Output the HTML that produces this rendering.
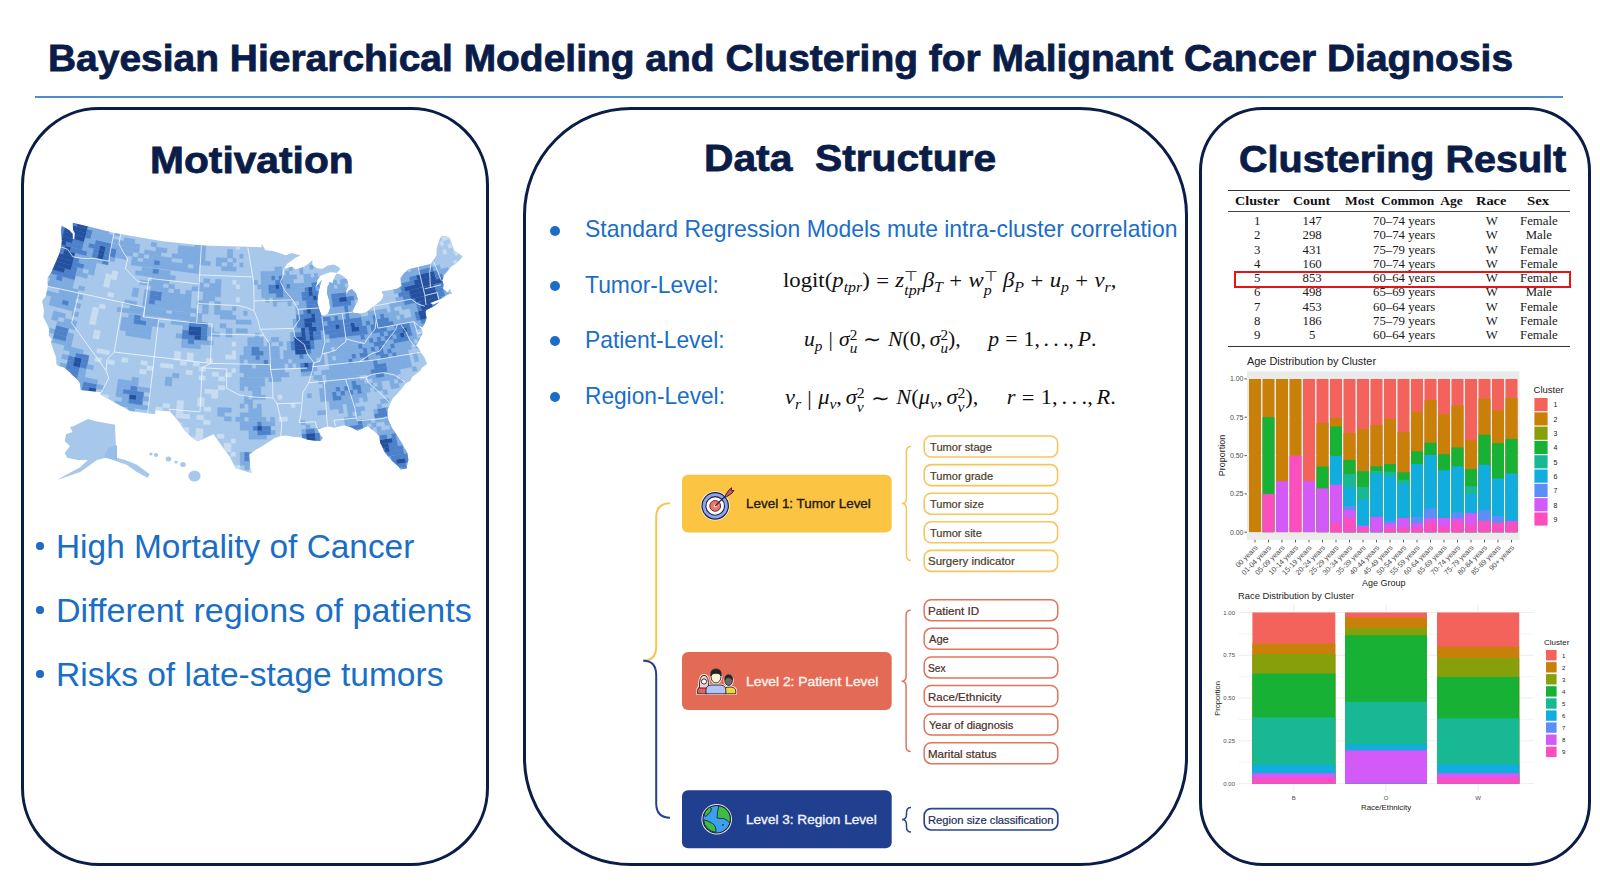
<!DOCTYPE html>
<html><head><meta charset="utf-8">
<style>
html,body{margin:0;padding:0;background:#fff;}
body{width:1600px;height:892px;position:relative;overflow:hidden;font-family:"Liberation Sans",sans-serif;}
.abs{position:absolute;}
.t{position:absolute;white-space:nowrap;transform-origin:0 0;line-height:1;}
.panel{position:absolute;border:3.2px solid #0a1c48;box-sizing:border-box;}
sub,sup{line-height:0}
</style></head><body>

<div class="abs" style="left:35px;top:96px;width:1528px;height:2px;background:#4f8dcd;"></div>
<div class="panel" style="left:21px;top:107px;width:468px;height:759px;border-radius:78px;"></div>
<div class="panel" style="left:523px;top:107px;width:665px;height:759px;border-radius:108px;"></div>
<div class="panel" style="left:1199px;top:107px;width:392px;height:759px;border-radius:64px;"></div>
<svg class="abs" style="left:0;top:0" width="500" height="500" viewBox="0 0 500 500">
<defs><clipPath id="usclip"><polygon points="61.8,225.8 61.0,230.4 61.9,240.7 61.2,247.0 59.2,254.0 55.7,262.2 51.0,273.0 47.6,278.1 47.9,286.3 45.9,295.9 42.0,301.0 44.1,310.7 43.2,316.6 46.6,323.6 49.5,329.5 48.7,335.4 51.9,339.3 50.8,342.0 52.8,348.6 56.1,357.6 56.3,363.7 57.5,365.5 64.3,367.6 70.1,372.5 72.8,375.6 76.5,378.5 79.9,383.2 80.9,390.1 101.4,392.3 100.2,394.4 130.3,410.9 155.0,414.2 155.4,409.9 169.9,411.5 177.3,419.8 184.5,430.3 192.0,437.7 197.6,441.3 204.4,438.6 213.5,434.2 221.2,445.3 230.1,457.2 235.5,468.1 248.4,472.2 251.7,472.7 250.2,467.4 249.6,459.6 249.1,454.7 255.4,449.9 262.5,446.0 270.3,441.1 274.7,438.1 280.8,436.0 286.0,435.4 294.1,437.1 300.4,437.3 307.7,439.8 313.1,440.5 320.3,441.0 322.7,437.9 319.5,433.2 317.4,429.4 323.4,427.5 329.4,426.6 334.0,427.7 344.2,425.2 351.6,427.4 357.4,430.7 363.3,428.1 367.4,426.1 373.5,430.7 379.4,435.9 380.1,442.7 382.1,446.3 383.9,451.0 388.0,456.3 392.7,461.5 398.4,466.5 400.8,469.6 406.7,468.2 407.3,464.1 408.4,460.0 407.4,453.3 404.3,446.9 399.6,439.8 396.3,434.3 391.9,428.1 388.7,420.7 387.5,416.9 387.5,409.9 390.2,403.5 393.0,398.1 396.6,394.5 400.8,389.8 405.5,383.4 410.1,381.1 412.5,376.6 419.7,371.2 422.2,367.6 427.0,364.1 424.8,358.0 420.8,352.2 419.1,348.5 415.9,345.7 419.9,338.7 422.7,332.6 421.6,329.2 417.9,325.0 422.6,327.5 425.2,322.3 426.5,318.0 425.5,311.6 426.6,309.8 433.6,306.6 439.4,302.1 433.0,304.7 430.1,302.9 437.9,300.0 441.4,298.6 444.1,296.9 447.2,294.5 452.1,293.7 449.9,289.1 447.4,292.4 443.0,288.4 443.6,284.2 442.1,280.5 444.1,274.8 448.1,270.6 451.3,266.6 455.7,263.8 459.7,260.1 462.6,256.6 459.9,254.3 454.1,250.4 449.7,237.9 445.8,236.0 441.2,236.3 439.6,239.3 436.7,248.2 436.4,255.4 433.5,260.3 430.9,264.0 418.1,267.1 408.7,269.2 403.8,273.4 400.6,278.1 400.8,282.1 401.8,285.9 396.5,289.0 390.7,290.1 381.6,291.3 383.3,295.5 381.6,299.8 376.4,304.2 371.1,308.0 365.8,312.3 359.9,313.7 352.4,312.2 354.0,308.5 355.0,305.4 357.5,302.6 357.8,298.6 355.8,292.9 352.1,288.9 349.1,290.3 346.4,294.1 346.1,290.2 348.7,285.9 347.1,279.7 343.4,276.2 339.1,273.8 336.7,273.8 335.1,275.7 333.2,279.9 332.6,283.4 329.5,281.8 327.6,286.4 327.0,292.9 329.0,300.1 330.1,307.9 328.2,313.5 324.7,315.8 321.6,315.6 320.1,311.8 318.8,307.9 317.6,302.6 318.1,295.2 318.9,290.2 320.4,284.6 321.7,280.1 317.0,285.9 315.0,288.1 316.7,284.0 317.3,280.0 320.4,275.8 325.5,273.8 330.3,272.3 334.6,272.4 336.6,272.9 340.5,269.2 338.0,266.5 333.4,264.6 327.2,265.8 322.7,268.7 317.0,268.3 312.4,265.3 312.4,259.9 308.0,264.1 303.4,266.9 295.9,269.4 292.2,266.7 283.9,268.8 287.0,264.0 295.5,257.7 300.5,255.4 291.7,253.1 285.7,255.3 273.1,251.0 265.5,250.2 261.6,243.7 261.7,247.3 201.7,245.4 161.2,241.0 114.4,232.9 72.8,222.7 73.0,229.8 74.9,233.3 74.4,239.1 72.9,239.2 72.6,233.7 69.3,230.2 61.8,225.8"/></clipPath></defs>
<polygon points="61.8,225.8 61.0,230.4 61.9,240.7 61.2,247.0 59.2,254.0 55.7,262.2 51.0,273.0 47.6,278.1 47.9,286.3 45.9,295.9 42.0,301.0 44.1,310.7 43.2,316.6 46.6,323.6 49.5,329.5 48.7,335.4 51.9,339.3 50.8,342.0 52.8,348.6 56.1,357.6 56.3,363.7 57.5,365.5 64.3,367.6 70.1,372.5 72.8,375.6 76.5,378.5 79.9,383.2 80.9,390.1 101.4,392.3 100.2,394.4 130.3,410.9 155.0,414.2 155.4,409.9 169.9,411.5 177.3,419.8 184.5,430.3 192.0,437.7 197.6,441.3 204.4,438.6 213.5,434.2 221.2,445.3 230.1,457.2 235.5,468.1 248.4,472.2 251.7,472.7 250.2,467.4 249.6,459.6 249.1,454.7 255.4,449.9 262.5,446.0 270.3,441.1 274.7,438.1 280.8,436.0 286.0,435.4 294.1,437.1 300.4,437.3 307.7,439.8 313.1,440.5 320.3,441.0 322.7,437.9 319.5,433.2 317.4,429.4 323.4,427.5 329.4,426.6 334.0,427.7 344.2,425.2 351.6,427.4 357.4,430.7 363.3,428.1 367.4,426.1 373.5,430.7 379.4,435.9 380.1,442.7 382.1,446.3 383.9,451.0 388.0,456.3 392.7,461.5 398.4,466.5 400.8,469.6 406.7,468.2 407.3,464.1 408.4,460.0 407.4,453.3 404.3,446.9 399.6,439.8 396.3,434.3 391.9,428.1 388.7,420.7 387.5,416.9 387.5,409.9 390.2,403.5 393.0,398.1 396.6,394.5 400.8,389.8 405.5,383.4 410.1,381.1 412.5,376.6 419.7,371.2 422.2,367.6 427.0,364.1 424.8,358.0 420.8,352.2 419.1,348.5 415.9,345.7 419.9,338.7 422.7,332.6 421.6,329.2 417.9,325.0 422.6,327.5 425.2,322.3 426.5,318.0 425.5,311.6 426.6,309.8 433.6,306.6 439.4,302.1 433.0,304.7 430.1,302.9 437.9,300.0 441.4,298.6 444.1,296.9 447.2,294.5 452.1,293.7 449.9,289.1 447.4,292.4 443.0,288.4 443.6,284.2 442.1,280.5 444.1,274.8 448.1,270.6 451.3,266.6 455.7,263.8 459.7,260.1 462.6,256.6 459.9,254.3 454.1,250.4 449.7,237.9 445.8,236.0 441.2,236.3 439.6,239.3 436.7,248.2 436.4,255.4 433.5,260.3 430.9,264.0 418.1,267.1 408.7,269.2 403.8,273.4 400.6,278.1 400.8,282.1 401.8,285.9 396.5,289.0 390.7,290.1 381.6,291.3 383.3,295.5 381.6,299.8 376.4,304.2 371.1,308.0 365.8,312.3 359.9,313.7 352.4,312.2 354.0,308.5 355.0,305.4 357.5,302.6 357.8,298.6 355.8,292.9 352.1,288.9 349.1,290.3 346.4,294.1 346.1,290.2 348.7,285.9 347.1,279.7 343.4,276.2 339.1,273.8 336.7,273.8 335.1,275.7 333.2,279.9 332.6,283.4 329.5,281.8 327.6,286.4 327.0,292.9 329.0,300.1 330.1,307.9 328.2,313.5 324.7,315.8 321.6,315.6 320.1,311.8 318.8,307.9 317.6,302.6 318.1,295.2 318.9,290.2 320.4,284.6 321.7,280.1 317.0,285.9 315.0,288.1 316.7,284.0 317.3,280.0 320.4,275.8 325.5,273.8 330.3,272.3 334.6,272.4 336.6,272.9 340.5,269.2 338.0,266.5 333.4,264.6 327.2,265.8 322.7,268.7 317.0,268.3 312.4,265.3 312.4,259.9 308.0,264.1 303.4,266.9 295.9,269.4 292.2,266.7 283.9,268.8 287.0,264.0 295.5,257.7 300.5,255.4 291.7,253.1 285.7,255.3 273.1,251.0 265.5,250.2 261.6,243.7 261.7,247.3 201.7,245.4 161.2,241.0 114.4,232.9 72.8,222.7 73.0,229.8 74.9,233.3 74.4,239.1 72.9,239.2 72.6,233.7 69.3,230.2 61.8,225.8" fill="#a7c8ea"/>
<g clip-path="url(#usclip)">
<polygon points="-1.1,454.8 6.2,456.8 7.3,452.7 0.1,450.6" fill="#c8ddf1" stroke="#c8ddf1" stroke-width="0.3"/>
<polygon points="13.5,458.8 20.8,460.8 21.9,456.6 14.6,454.7" fill="#c8ddf1" stroke="#c8ddf1" stroke-width="0.3"/>
<polygon points="35.5,464.5 42.9,466.3 43.9,462.1 36.6,460.3" fill="#c8ddf1" stroke="#c8ddf1" stroke-width="0.3"/>
<polygon points="50.3,468.0 57.7,469.6 58.7,465.4 51.3,463.8" fill="#c8ddf1" stroke="#c8ddf1" stroke-width="0.3"/>
<polygon points="65.2,471.2 80.1,474.2 80.8,470.0 66.0,467.0" fill="#c8ddf1" stroke="#c8ddf1" stroke-width="0.3"/>
<polygon points="95.0,477.0 110.0,479.5 110.6,475.2 95.7,472.7" fill="#c8ddf1" stroke="#c8ddf1" stroke-width="0.3"/>
<polygon points="147.5,484.8 155.1,485.6 155.5,481.4 148.0,480.5" fill="#c8ddf1" stroke="#c8ddf1" stroke-width="0.3"/>
<polygon points="170.2,487.2 185.3,488.5 185.5,484.2 170.5,482.9" fill="#c8ddf1" stroke="#c8ddf1" stroke-width="0.3"/>
<polygon points="200.4,489.6 208.0,490.1 208.1,485.7 200.6,485.3" fill="#c8ddf1" stroke="#c8ddf1" stroke-width="0.3"/>
<polygon points="235.4,491.2 240.1,491.3 240.1,487.0 235.4,486.8" fill="#c8ddf1" stroke="#c8ddf1" stroke-width="0.3"/>
<polygon points="395.5,481.6 400.2,480.9 399.4,476.7 394.7,477.4" fill="#7eabe0" stroke="#7eabe0" stroke-width="0.3"/>
<polygon points="-7.2,448.5 21.9,456.6 23.0,452.4 -6.0,444.4" fill="#c8ddf1" stroke="#c8ddf1" stroke-width="0.3"/>
<polygon points="36.6,460.3 51.3,463.8 52.2,459.5 37.6,456.1" fill="#c8ddf1" stroke="#c8ddf1" stroke-width="0.3"/>
<polygon points="110.6,475.2 118.1,476.4 118.7,472.1 111.2,471.0" fill="#c8ddf1" stroke="#c8ddf1" stroke-width="0.3"/>
<polygon points="163.0,482.2 170.5,482.9 170.8,478.6 163.4,477.9" fill="#c8ddf1" stroke="#c8ddf1" stroke-width="0.3"/>
<polygon points="178.0,483.6 208.1,485.7 208.3,481.4 178.3,479.3" fill="#c8ddf1" stroke="#c8ddf1" stroke-width="0.3"/>
<polygon points="215.6,486.1 240.1,487.0 240.1,482.6 215.8,481.8" fill="#c8ddf1" stroke="#c8ddf1" stroke-width="0.3"/>
<polygon points="244.8,487.0 249.5,487.1 249.5,482.8 244.8,482.7" fill="#c8ddf1" stroke="#c8ddf1" stroke-width="0.3"/>
<polygon points="399.4,476.7 404.0,475.9 403.1,471.7 398.5,472.4" fill="#7eabe0" stroke="#7eabe0" stroke-width="0.3"/>
<polygon points="417.8,473.7 422.5,472.9 421.5,468.6 416.9,469.4" fill="#7eabe0" stroke="#7eabe0" stroke-width="0.3"/>
<polygon points="8.5,448.5 15.7,450.5 16.9,446.3 9.7,444.4" fill="#c8ddf1" stroke="#c8ddf1" stroke-width="0.3"/>
<polygon points="52.2,459.5 59.6,461.2 60.5,457.0 53.2,455.3" fill="#c8ddf1" stroke="#c8ddf1" stroke-width="0.3"/>
<polygon points="118.7,472.1 141.0,475.3 141.5,471.0 119.3,467.9" fill="#c8ddf1" stroke="#c8ddf1" stroke-width="0.3"/>
<polygon points="155.9,477.1 163.4,477.9 163.8,473.5 156.3,472.7" fill="#c8ddf1" stroke="#c8ddf1" stroke-width="0.3"/>
<polygon points="200.8,481.0 215.8,481.8 215.9,477.5 201.0,476.7" fill="#c8ddf1" stroke="#c8ddf1" stroke-width="0.3"/>
<polygon points="389.3,473.7 403.1,471.7 402.3,467.4 388.5,469.5" fill="#7eabe0" stroke="#7eabe0" stroke-width="0.3"/>
<polygon points="403.1,471.7 407.7,470.9 406.9,466.7 402.3,467.4" fill="#4d82cb" stroke="#4d82cb" stroke-width="0.3"/>
<polygon points="407.7,470.9 412.3,470.2 411.5,465.9 406.9,466.7" fill="#7eabe0" stroke="#7eabe0" stroke-width="0.3"/>
<polygon points="16.9,446.3 24.1,448.2 25.2,444.1 18.0,442.2" fill="#c8ddf1" stroke="#c8ddf1" stroke-width="0.3"/>
<polygon points="38.6,451.9 45.9,453.6 46.9,449.4 39.6,447.7" fill="#c8ddf1" stroke="#c8ddf1" stroke-width="0.3"/>
<polygon points="60.5,457.0 67.8,458.5 68.7,454.3 61.4,452.7" fill="#c8ddf1" stroke="#c8ddf1" stroke-width="0.3"/>
<polygon points="104.5,465.5 111.9,466.7 112.5,462.4 105.2,461.2" fill="#c8ddf1" stroke="#c8ddf1" stroke-width="0.3"/>
<polygon points="134.1,470.0 141.5,471.0 142.0,466.7 134.6,465.7" fill="#c8ddf1" stroke="#c8ddf1" stroke-width="0.3"/>
<polygon points="156.3,472.7 163.8,473.5 164.1,469.2 156.7,468.4" fill="#c8ddf1" stroke="#c8ddf1" stroke-width="0.3"/>
<polygon points="178.6,475.0 186.1,475.6 186.3,471.3 178.9,470.6" fill="#c8ddf1" stroke="#c8ddf1" stroke-width="0.3"/>
<polygon points="208.4,477.1 215.9,477.5 216.0,473.1 208.6,472.8" fill="#c8ddf1" stroke="#c8ddf1" stroke-width="0.3"/>
<polygon points="235.4,478.2 240.1,478.3 240.1,474.0 235.5,473.8" fill="#c8ddf1" stroke="#c8ddf1" stroke-width="0.3"/>
<polygon points="244.8,478.4 249.4,478.4 249.4,474.1 244.7,474.0" fill="#c8ddf1" stroke="#c8ddf1" stroke-width="0.3"/>
<polygon points="388.5,469.5 393.1,468.8 392.3,464.5 387.8,465.2" fill="#7eabe0" stroke="#7eabe0" stroke-width="0.3"/>
<polygon points="393.1,468.8 406.9,466.7 406.0,462.4 392.3,464.5" fill="#4d82cb" stroke="#4d82cb" stroke-width="0.3"/>
<polygon points="406.9,466.7 411.5,465.9 410.6,461.6 406.0,462.4" fill="#7eabe0" stroke="#7eabe0" stroke-width="0.3"/>
<polygon points="10.8,440.2 32.4,445.9 33.5,441.7 12.0,436.0" fill="#c8ddf1" stroke="#c8ddf1" stroke-width="0.3"/>
<polygon points="39.6,447.7 61.4,452.7 62.3,448.5 40.7,443.5" fill="#c8ddf1" stroke="#c8ddf1" stroke-width="0.3"/>
<polygon points="90.6,458.6 97.9,459.9 98.6,455.7 91.3,454.4" fill="#c8ddf1" stroke="#c8ddf1" stroke-width="0.3"/>
<polygon points="112.5,462.4 119.9,463.6 120.5,459.3 113.2,458.1" fill="#c8ddf1" stroke="#c8ddf1" stroke-width="0.3"/>
<polygon points="127.2,464.7 134.6,465.7 135.1,461.4 127.8,460.4" fill="#c8ddf1" stroke="#c8ddf1" stroke-width="0.3"/>
<polygon points="156.7,468.4 164.1,469.2 164.5,464.9 157.2,464.1" fill="#c8ddf1" stroke="#c8ddf1" stroke-width="0.3"/>
<polygon points="186.3,471.3 193.7,471.8 194.0,467.5 186.6,466.9" fill="#c8ddf1" stroke="#c8ddf1" stroke-width="0.3"/>
<polygon points="216.0,473.1 223.4,473.5 223.5,469.1 216.1,468.8" fill="#c8ddf1" stroke="#c8ddf1" stroke-width="0.3"/>
<polygon points="230.8,473.7 240.1,474.0 240.1,469.6 230.9,469.4" fill="#c8ddf1" stroke="#c8ddf1" stroke-width="0.3"/>
<polygon points="249.4,474.1 258.6,474.2 258.5,469.8 249.3,469.8" fill="#c8ddf1" stroke="#c8ddf1" stroke-width="0.3"/>
<polygon points="383.2,465.8 392.3,464.5 391.5,460.2 382.5,461.5" fill="#7eabe0" stroke="#7eabe0" stroke-width="0.3"/>
<polygon points="392.3,464.5 396.9,463.8 396.1,459.5 391.5,460.2" fill="#4d82cb" stroke="#4d82cb" stroke-width="0.3"/>
<polygon points="396.9,463.8 406.0,462.4 405.2,458.1 396.1,459.5" fill="#24519f" stroke="#24519f" stroke-width="0.3"/>
<polygon points="406.0,462.4 410.6,461.6 409.7,457.4 405.2,458.1" fill="#4d82cb" stroke="#4d82cb" stroke-width="0.3"/>
<polygon points="410.6,461.6 415.1,460.9 414.2,456.6 409.7,457.4" fill="#7eabe0" stroke="#7eabe0" stroke-width="0.3"/>
<polygon points="12.0,436.0 33.5,441.7 34.5,437.5 13.2,431.8" fill="#c8ddf1" stroke="#c8ddf1" stroke-width="0.3"/>
<polygon points="55.1,446.9 76.8,451.5 77.6,447.3 56.0,442.7" fill="#c8ddf1" stroke="#c8ddf1" stroke-width="0.3"/>
<polygon points="127.8,460.4 135.1,461.4 135.7,457.1 128.4,456.1" fill="#c8ddf1" stroke="#c8ddf1" stroke-width="0.3"/>
<polygon points="142.5,462.4 149.8,463.3 150.3,459.0 143.0,458.0" fill="#c8ddf1" stroke="#c8ddf1" stroke-width="0.3"/>
<polygon points="164.5,464.9 171.9,465.6 172.2,461.3 164.9,460.6" fill="#c8ddf1" stroke="#c8ddf1" stroke-width="0.3"/>
<polygon points="201.4,468.0 216.1,468.8 216.2,464.4 201.5,463.6" fill="#c8ddf1" stroke="#c8ddf1" stroke-width="0.3"/>
<polygon points="223.5,469.1 230.9,469.4 230.9,465.0 223.6,464.8" fill="#c8ddf1" stroke="#c8ddf1" stroke-width="0.3"/>
<polygon points="235.5,469.5 240.1,469.6 240.1,465.3 235.5,465.2" fill="#c8ddf1" stroke="#c8ddf1" stroke-width="0.3"/>
<polygon points="244.7,469.7 249.3,469.8 249.3,465.4 244.7,465.3" fill="#7eabe0" stroke="#7eabe0" stroke-width="0.3"/>
<polygon points="286.2,469.4 295.4,469.1 295.1,464.8 286.0,465.1" fill="#c8ddf1" stroke="#c8ddf1" stroke-width="0.3"/>
<polygon points="373.3,462.7 391.5,460.2 390.8,455.9 372.6,458.4" fill="#7eabe0" stroke="#7eabe0" stroke-width="0.3"/>
<polygon points="391.5,460.2 409.7,457.4 408.8,453.1 390.8,455.9" fill="#4d82cb" stroke="#4d82cb" stroke-width="0.3"/>
<polygon points="414.2,456.6 418.7,455.8 417.8,451.5 413.3,452.3" fill="#7eabe0" stroke="#7eabe0" stroke-width="0.3"/>
<polygon points="6.1,429.8 13.2,431.8 14.4,427.7 7.3,425.7" fill="#c8ddf1" stroke="#c8ddf1" stroke-width="0.3"/>
<polygon points="41.7,439.3 63.2,444.3 64.1,440.0 42.7,435.1" fill="#c8ddf1" stroke="#c8ddf1" stroke-width="0.3"/>
<polygon points="77.6,447.3 84.8,448.7 85.7,444.4 78.5,443.0" fill="#c8ddf1" stroke="#c8ddf1" stroke-width="0.3"/>
<polygon points="106.6,452.6 128.4,456.1 129.0,451.8 107.3,448.4" fill="#c8ddf1" stroke="#c8ddf1" stroke-width="0.3"/>
<polygon points="135.7,457.1 157.6,459.8 158.0,455.5 136.2,452.8" fill="#c8ddf1" stroke="#c8ddf1" stroke-width="0.3"/>
<polygon points="216.2,464.4 223.6,464.8 223.6,460.4 216.3,460.1" fill="#c8ddf1" stroke="#c8ddf1" stroke-width="0.3"/>
<polygon points="240.1,465.3 253.9,465.4 253.8,461.1 240.1,460.9" fill="#7eabe0" stroke="#7eabe0" stroke-width="0.3"/>
<polygon points="290.5,464.9 299.7,464.6 299.4,460.2 290.3,460.6" fill="#c8ddf1" stroke="#c8ddf1" stroke-width="0.3"/>
<polygon points="368.1,458.9 381.7,457.2 381.0,452.9 367.4,454.6" fill="#7eabe0" stroke="#7eabe0" stroke-width="0.3"/>
<polygon points="381.7,457.2 404.3,453.8 403.4,449.5 381.0,452.9" fill="#4d82cb" stroke="#4d82cb" stroke-width="0.3"/>
<polygon points="404.3,453.8 413.3,452.3 412.4,448.0 403.4,449.5" fill="#7eabe0" stroke="#7eabe0" stroke-width="0.3"/>
<polygon points="14.4,427.7 21.4,429.6 22.6,425.4 15.6,423.5" fill="#c8ddf1" stroke="#c8ddf1" stroke-width="0.3"/>
<polygon points="35.6,433.3 49.8,436.8 50.8,432.5 36.7,429.1" fill="#c8ddf1" stroke="#c8ddf1" stroke-width="0.3"/>
<polygon points="71.3,441.5 78.5,443.0 79.3,438.8 72.2,437.3" fill="#c8ddf1" stroke="#c8ddf1" stroke-width="0.3"/>
<polygon points="100.1,447.1 107.3,448.4 108.0,444.1 100.8,442.8" fill="#c8ddf1" stroke="#c8ddf1" stroke-width="0.3"/>
<polygon points="129.0,451.8 143.5,453.7 144.0,449.4 129.5,447.4" fill="#c8ddf1" stroke="#c8ddf1" stroke-width="0.3"/>
<polygon points="172.6,457.0 187.1,458.3 187.4,453.9 172.9,452.6" fill="#c8ddf1" stroke="#c8ddf1" stroke-width="0.3"/>
<polygon points="209.0,459.7 216.3,460.1 216.5,455.7 209.2,455.4" fill="#c8ddf1" stroke="#c8ddf1" stroke-width="0.3"/>
<polygon points="223.6,460.4 230.9,460.7 231.0,456.3 223.7,456.1" fill="#c8ddf1" stroke="#c8ddf1" stroke-width="0.3"/>
<polygon points="240.1,460.9 244.6,461.0 244.6,456.6 240.1,456.5" fill="#7eabe0" stroke="#7eabe0" stroke-width="0.3"/>
<polygon points="244.6,461.0 249.2,461.1 249.2,456.7 244.6,456.6" fill="#4d82cb" stroke="#4d82cb" stroke-width="0.3"/>
<polygon points="249.2,461.1 253.8,461.1 253.7,456.7 249.2,456.7" fill="#7eabe0" stroke="#7eabe0" stroke-width="0.3"/>
<polygon points="294.8,460.4 299.4,460.2 299.1,455.9 294.5,456.0" fill="#c8ddf1" stroke="#c8ddf1" stroke-width="0.3"/>
<polygon points="376.5,453.5 385.5,452.2 384.7,447.9 375.7,449.1" fill="#4d82cb" stroke="#4d82cb" stroke-width="0.3"/>
<polygon points="385.5,452.2 390.0,451.6 389.2,447.3 384.7,447.9" fill="#24519f" stroke="#24519f" stroke-width="0.3"/>
<polygon points="390.0,451.6 403.4,449.5 402.6,445.2 389.2,447.3" fill="#4d82cb" stroke="#4d82cb" stroke-width="0.3"/>
<polygon points="8.5,421.5 15.6,423.5 16.7,419.3 9.8,417.3" fill="#c8ddf1" stroke="#c8ddf1" stroke-width="0.3"/>
<polygon points="36.7,429.1 43.8,430.8 44.8,426.6 37.7,424.9" fill="#c8ddf1" stroke="#c8ddf1" stroke-width="0.3"/>
<polygon points="108.0,444.1 122.3,446.4 123.0,442.1 108.7,439.8" fill="#c8ddf1" stroke="#c8ddf1" stroke-width="0.3"/>
<polygon points="129.5,447.4 151.2,450.3 151.7,446.0 130.1,443.1" fill="#c8ddf1" stroke="#c8ddf1" stroke-width="0.3"/>
<polygon points="187.4,453.9 209.2,455.4 209.3,451.0 187.7,449.5" fill="#c8ddf1" stroke="#c8ddf1" stroke-width="0.3"/>
<polygon points="231.0,456.3 235.5,456.4 235.5,452.1 231.0,451.9" fill="#c8ddf1" stroke="#c8ddf1" stroke-width="0.3"/>
<polygon points="240.1,456.5 244.6,456.6 244.6,452.3 240.1,452.2" fill="#7eabe0" stroke="#7eabe0" stroke-width="0.3"/>
<polygon points="244.6,456.6 249.2,456.7 249.1,452.3 244.6,452.3" fill="#4d82cb" stroke="#4d82cb" stroke-width="0.3"/>
<polygon points="249.2,456.7 253.7,456.7 253.6,452.4 249.1,452.3" fill="#7eabe0" stroke="#7eabe0" stroke-width="0.3"/>
<polygon points="348.8,452.3 353.3,451.8 352.7,447.5 348.2,447.9" fill="#7eabe0" stroke="#7eabe0" stroke-width="0.3"/>
<polygon points="366.8,450.3 371.2,449.7 370.5,445.4 366.1,445.9" fill="#7eabe0" stroke="#7eabe0" stroke-width="0.3"/>
<polygon points="371.2,449.7 380.2,448.5 379.5,444.2 370.5,445.4" fill="#4d82cb" stroke="#4d82cb" stroke-width="0.3"/>
<polygon points="380.2,448.5 389.2,447.3 388.4,443.0 379.5,444.2" fill="#24519f" stroke="#24519f" stroke-width="0.3"/>
<polygon points="389.2,447.3 398.1,445.9 397.2,441.6 388.4,443.0" fill="#4d82cb" stroke="#4d82cb" stroke-width="0.3"/>
<polygon points="398.1,445.9 407.0,444.5 406.1,440.2 397.2,441.6" fill="#7eabe0" stroke="#7eabe0" stroke-width="0.3"/>
<polygon points="411.5,443.7 415.9,442.9 415.0,438.6 410.5,439.4" fill="#7eabe0" stroke="#7eabe0" stroke-width="0.3"/>
<polygon points="16.7,419.3 30.7,423.1 31.8,418.8 17.9,415.1" fill="#c8ddf1" stroke="#c8ddf1" stroke-width="0.3"/>
<polygon points="115.8,440.9 123.0,442.1 123.6,437.7 116.5,436.6" fill="#c8ddf1" stroke="#c8ddf1" stroke-width="0.3"/>
<polygon points="130.1,443.1 144.5,445.1 145.0,440.7 130.7,438.8" fill="#c8ddf1" stroke="#c8ddf1" stroke-width="0.3"/>
<polygon points="187.7,449.5 202.1,450.6 202.3,446.2 188.0,445.2" fill="#c8ddf1" stroke="#c8ddf1" stroke-width="0.3"/>
<polygon points="223.8,451.7 231.0,451.9 231.1,447.6 223.9,447.3" fill="#c8ddf1" stroke="#c8ddf1" stroke-width="0.3"/>
<polygon points="307.7,451.0 312.2,450.8 311.9,446.4 307.4,446.7" fill="#7eabe0" stroke="#7eabe0" stroke-width="0.3"/>
<polygon points="316.7,450.5 321.2,450.2 320.8,445.8 316.3,446.1" fill="#7eabe0" stroke="#7eabe0" stroke-width="0.3"/>
<polygon points="370.5,445.4 375.0,444.8 374.3,440.5 369.8,441.1" fill="#7eabe0" stroke="#7eabe0" stroke-width="0.3"/>
<polygon points="375.0,444.8 379.5,444.2 378.7,439.9 374.3,440.5" fill="#4d82cb" stroke="#4d82cb" stroke-width="0.3"/>
<polygon points="379.5,444.2 392.8,442.3 392.0,438.0 378.7,439.9" fill="#24519f" stroke="#24519f" stroke-width="0.3"/>
<polygon points="392.8,442.3 397.2,441.6 396.4,437.3 392.0,438.0" fill="#4d82cb" stroke="#4d82cb" stroke-width="0.3"/>
<polygon points="397.2,441.6 410.5,439.4 409.6,435.1 396.4,437.3" fill="#7eabe0" stroke="#7eabe0" stroke-width="0.3"/>
<polygon points="11.0,413.1 17.9,415.1 19.1,410.9 12.2,408.9" fill="#c8ddf1" stroke="#c8ddf1" stroke-width="0.3"/>
<polygon points="24.9,417.0 31.8,418.8 32.9,414.6 26.0,412.8" fill="#c8ddf1" stroke="#c8ddf1" stroke-width="0.3"/>
<polygon points="52.8,424.0 59.9,425.7 60.8,421.4 53.8,419.8" fill="#c8ddf1" stroke="#c8ddf1" stroke-width="0.3"/>
<polygon points="81.0,430.2 88.1,431.6 88.9,427.3 81.8,425.9" fill="#c8ddf1" stroke="#c8ddf1" stroke-width="0.3"/>
<polygon points="116.5,436.6 123.6,437.7 124.2,433.4 117.1,432.3" fill="#c8ddf1" stroke="#c8ddf1" stroke-width="0.3"/>
<polygon points="152.1,441.6 159.3,442.5 159.7,438.1 152.6,437.3" fill="#c8ddf1" stroke="#c8ddf1" stroke-width="0.3"/>
<polygon points="173.6,443.9 180.8,444.6 181.1,440.2 174.0,439.6" fill="#c8ddf1" stroke="#c8ddf1" stroke-width="0.3"/>
<polygon points="195.1,445.7 202.3,446.2 202.5,441.8 195.4,441.4" fill="#c8ddf1" stroke="#c8ddf1" stroke-width="0.3"/>
<polygon points="223.9,447.3 231.1,447.6 231.1,443.2 224.0,442.9" fill="#c8ddf1" stroke="#c8ddf1" stroke-width="0.3"/>
<polygon points="302.9,446.9 311.9,446.4 311.5,442.1 302.6,442.5" fill="#7eabe0" stroke="#7eabe0" stroke-width="0.3"/>
<polygon points="311.9,446.4 316.3,446.1 315.9,441.8 311.5,442.1" fill="#4d82cb" stroke="#4d82cb" stroke-width="0.3"/>
<polygon points="316.3,446.1 320.8,445.8 320.4,441.5 315.9,441.8" fill="#7eabe0" stroke="#7eabe0" stroke-width="0.3"/>
<polygon points="356.5,442.6 365.4,441.6 364.7,437.3 355.9,438.3" fill="#7eabe0" stroke="#7eabe0" stroke-width="0.3"/>
<polygon points="369.8,441.1 378.7,439.9 378.0,435.6 369.1,436.7" fill="#7eabe0" stroke="#7eabe0" stroke-width="0.3"/>
<polygon points="378.7,439.9 387.6,438.6 386.8,434.3 378.0,435.6" fill="#4d82cb" stroke="#4d82cb" stroke-width="0.3"/>
<polygon points="387.6,438.6 392.0,438.0 391.2,433.7 386.8,434.3" fill="#7eabe0" stroke="#7eabe0" stroke-width="0.3"/>
<polygon points="392.0,438.0 396.4,437.3 395.6,433.0 391.2,433.7" fill="#4d82cb" stroke="#4d82cb" stroke-width="0.3"/>
<polygon points="396.4,437.3 409.6,435.1 408.7,430.8 395.6,433.0" fill="#7eabe0" stroke="#7eabe0" stroke-width="0.3"/>
<polygon points="5.3,406.9 19.1,410.9 20.3,406.7 6.6,402.7" fill="#c8ddf1" stroke="#c8ddf1" stroke-width="0.3"/>
<polygon points="46.9,418.1 60.8,421.4 61.8,417.1 47.9,413.9" fill="#c8ddf1" stroke="#c8ddf1" stroke-width="0.3"/>
<polygon points="110.0,431.1 117.1,432.3 117.8,428.0 110.7,426.8" fill="#c8ddf1" stroke="#c8ddf1" stroke-width="0.3"/>
<polygon points="124.2,433.4 131.3,434.5 131.9,430.1 124.8,429.1" fill="#c8ddf1" stroke="#c8ddf1" stroke-width="0.3"/>
<polygon points="145.5,436.4 159.7,438.1 160.1,433.8 146.0,432.1" fill="#c8ddf1" stroke="#c8ddf1" stroke-width="0.3"/>
<polygon points="166.8,438.9 174.0,439.6 174.3,435.2 167.2,434.5" fill="#c8ddf1" stroke="#c8ddf1" stroke-width="0.3"/>
<polygon points="188.2,440.8 202.5,441.8 202.7,437.5 188.5,436.5" fill="#c8ddf1" stroke="#c8ddf1" stroke-width="0.3"/>
<polygon points="231.1,443.2 235.6,443.3 235.6,438.9 231.1,438.8" fill="#c8ddf1" stroke="#c8ddf1" stroke-width="0.3"/>
<polygon points="302.6,442.5 307.0,442.3 306.6,437.9 302.2,438.2" fill="#7eabe0" stroke="#7eabe0" stroke-width="0.3"/>
<polygon points="307.0,442.3 315.9,441.8 315.5,437.4 306.6,437.9" fill="#24519f" stroke="#24519f" stroke-width="0.3"/>
<polygon points="315.9,441.8 320.4,441.5 319.9,437.1 315.5,437.4" fill="#4d82cb" stroke="#4d82cb" stroke-width="0.3"/>
<polygon points="320.4,441.5 324.8,441.2 324.3,436.8 319.9,437.1" fill="#7eabe0" stroke="#7eabe0" stroke-width="0.3"/>
<polygon points="355.9,438.3 364.7,437.3 364.0,432.9 355.2,433.9" fill="#7eabe0" stroke="#7eabe0" stroke-width="0.3"/>
<polygon points="369.1,436.7 373.5,436.1 372.8,431.8 368.4,432.4" fill="#7eabe0" stroke="#7eabe0" stroke-width="0.3"/>
<polygon points="378.0,435.6 399.9,432.3 399.1,428.0 377.2,431.2" fill="#7eabe0" stroke="#7eabe0" stroke-width="0.3"/>
<polygon points="404.3,431.6 408.7,430.8 407.8,426.5 403.4,427.2" fill="#7eabe0" stroke="#7eabe0" stroke-width="0.3"/>
<polygon points="34.1,410.4 41.0,412.2 42.0,407.9 35.2,406.2" fill="#c8ddf1" stroke="#c8ddf1" stroke-width="0.3"/>
<polygon points="75.7,420.2 82.7,421.6 83.5,417.3 76.6,415.9" fill="#c8ddf1" stroke="#c8ddf1" stroke-width="0.3"/>
<polygon points="103.7,425.6 131.9,430.1 132.4,425.8 104.4,421.3" fill="#c8ddf1" stroke="#c8ddf1" stroke-width="0.3"/>
<polygon points="174.3,435.2 188.5,436.5 188.8,432.1 174.7,430.9" fill="#c8ddf1" stroke="#c8ddf1" stroke-width="0.3"/>
<polygon points="195.6,437.0 202.7,437.5 202.9,433.1 195.8,432.6" fill="#c8ddf1" stroke="#c8ddf1" stroke-width="0.3"/>
<polygon points="216.9,438.3 224.0,438.6 224.1,434.2 217.0,433.9" fill="#c8ddf1" stroke="#c8ddf1" stroke-width="0.3"/>
<polygon points="248.9,439.2 266.7,439.2 266.5,434.8 248.9,434.8" fill="#7eabe0" stroke="#7eabe0" stroke-width="0.3"/>
<polygon points="302.2,438.2 306.6,437.9 306.3,433.6 301.9,433.8" fill="#4d82cb" stroke="#4d82cb" stroke-width="0.3"/>
<polygon points="306.6,437.9 315.5,437.4 315.1,433.0 306.3,433.6" fill="#24519f" stroke="#24519f" stroke-width="0.3"/>
<polygon points="315.5,437.4 319.9,437.1 319.5,432.7 315.1,433.0" fill="#4d82cb" stroke="#4d82cb" stroke-width="0.3"/>
<polygon points="346.4,434.9 372.8,431.8 372.1,427.5 345.8,430.5" fill="#7eabe0" stroke="#7eabe0" stroke-width="0.3"/>
<polygon points="377.2,431.2 381.6,430.6 380.8,426.3 376.4,426.9" fill="#7eabe0" stroke="#7eabe0" stroke-width="0.3"/>
<polygon points="390.3,429.3 394.7,428.7 393.9,424.3 389.5,425.0" fill="#7eabe0" stroke="#7eabe0" stroke-width="0.3"/>
<polygon points="28.3,404.3 35.2,406.2 36.3,401.9 29.5,400.1" fill="#c8ddf1" stroke="#c8ddf1" stroke-width="0.3"/>
<polygon points="55.8,411.3 62.7,412.9 63.7,408.6 56.8,407.0" fill="#c8ddf1" stroke="#c8ddf1" stroke-width="0.3"/>
<polygon points="76.6,415.9 90.5,418.7 91.3,414.4 77.5,411.6" fill="#c8ddf1" stroke="#c8ddf1" stroke-width="0.3"/>
<polygon points="111.4,422.5 118.4,423.7 119.1,419.3 112.1,418.2" fill="#c8ddf1" stroke="#c8ddf1" stroke-width="0.3"/>
<polygon points="146.5,427.7 153.5,428.6 154.0,424.2 147.0,423.4" fill="#c8ddf1" stroke="#c8ddf1" stroke-width="0.3"/>
<polygon points="160.6,429.4 167.6,430.2 168.0,425.8 161.0,425.0" fill="#c8ddf1" stroke="#c8ddf1" stroke-width="0.3"/>
<polygon points="181.7,431.5 188.8,432.1 189.0,427.7 182.0,427.1" fill="#c8ddf1" stroke="#c8ddf1" stroke-width="0.3"/>
<polygon points="195.8,432.6 202.9,433.1 203.1,428.7 196.1,428.2" fill="#c8ddf1" stroke="#c8ddf1" stroke-width="0.3"/>
<polygon points="248.9,434.8 257.7,434.9 257.6,430.5 248.8,430.4" fill="#7eabe0" stroke="#7eabe0" stroke-width="0.3"/>
<polygon points="257.7,434.9 271.0,434.8 270.8,430.4 257.6,430.5" fill="#4d82cb" stroke="#4d82cb" stroke-width="0.3"/>
<polygon points="271.0,434.8 275.4,434.7 275.2,430.3 270.8,430.4" fill="#7eabe0" stroke="#7eabe0" stroke-width="0.3"/>
<polygon points="301.9,433.8 306.3,433.6 305.9,429.2 301.5,429.4" fill="#7eabe0" stroke="#7eabe0" stroke-width="0.3"/>
<polygon points="306.3,433.6 315.1,433.0 314.7,428.6 305.9,429.2" fill="#4d82cb" stroke="#4d82cb" stroke-width="0.3"/>
<polygon points="315.1,433.0 323.9,432.4 323.4,428.0 314.7,428.6" fill="#7eabe0" stroke="#7eabe0" stroke-width="0.3"/>
<polygon points="341.4,430.9 350.2,430.0 349.6,425.7 340.9,426.5" fill="#7eabe0" stroke="#7eabe0" stroke-width="0.3"/>
<polygon points="350.2,430.0 363.3,428.6 362.7,424.2 349.6,425.7" fill="#4d82cb" stroke="#4d82cb" stroke-width="0.3"/>
<polygon points="363.3,428.6 367.7,428.0 367.0,423.7 362.7,424.2" fill="#7eabe0" stroke="#7eabe0" stroke-width="0.3"/>
<polygon points="372.1,427.5 376.4,426.9 375.7,422.5 371.4,423.1" fill="#7eabe0" stroke="#7eabe0" stroke-width="0.3"/>
<polygon points="385.2,425.6 393.9,424.3 393.0,420.0 384.4,421.3" fill="#7eabe0" stroke="#7eabe0" stroke-width="0.3"/>
<polygon points="9.1,394.4 15.9,396.3 17.1,392.1 10.4,390.2" fill="#c8ddf1" stroke="#c8ddf1" stroke-width="0.3"/>
<polygon points="36.3,401.9 43.1,403.7 44.2,399.4 37.4,397.7" fill="#c8ddf1" stroke="#c8ddf1" stroke-width="0.3"/>
<polygon points="56.8,407.0 70.6,410.1 71.5,405.9 57.8,402.8" fill="#c8ddf1" stroke="#c8ddf1" stroke-width="0.3"/>
<polygon points="77.5,411.6 84.4,413.0 85.2,408.7 78.4,407.3" fill="#c8ddf1" stroke="#c8ddf1" stroke-width="0.3"/>
<polygon points="168.0,425.8 182.0,427.1 182.3,422.8 168.4,421.4" fill="#c8ddf1" stroke="#c8ddf1" stroke-width="0.3"/>
<polygon points="240.0,430.3 253.2,430.4 253.1,426.1 240.0,425.9" fill="#7eabe0" stroke="#7eabe0" stroke-width="0.3"/>
<polygon points="253.2,430.4 257.6,430.5 257.5,426.1 253.1,426.1" fill="#4d82cb" stroke="#4d82cb" stroke-width="0.3"/>
<polygon points="257.6,430.5 262.0,430.5 261.9,426.1 257.5,426.1" fill="#24519f" stroke="#24519f" stroke-width="0.3"/>
<polygon points="262.0,430.5 270.8,430.4 270.6,426.0 261.9,426.1" fill="#4d82cb" stroke="#4d82cb" stroke-width="0.3"/>
<polygon points="305.9,429.2 310.3,428.9 309.9,424.5 305.5,424.8" fill="#7eabe0" stroke="#7eabe0" stroke-width="0.3"/>
<polygon points="345.2,426.1 358.3,424.7 357.7,420.3 344.7,421.8" fill="#7eabe0" stroke="#7eabe0" stroke-width="0.3"/>
<polygon points="358.3,424.7 362.7,424.2 362.0,419.8 357.7,420.3" fill="#4d82cb" stroke="#4d82cb" stroke-width="0.3"/>
<polygon points="362.7,424.2 371.4,423.1 370.6,418.8 362.0,419.8" fill="#7eabe0" stroke="#7eabe0" stroke-width="0.3"/>
<polygon points="375.7,422.5 388.7,420.7 387.9,416.3 374.9,418.2" fill="#7eabe0" stroke="#7eabe0" stroke-width="0.3"/>
<polygon points="393.0,420.0 397.3,419.3 396.5,415.0 392.2,415.6" fill="#7eabe0" stroke="#7eabe0" stroke-width="0.3"/>
<polygon points="10.4,390.2 17.1,392.1 18.3,387.9 11.6,386.0" fill="#c8ddf1" stroke="#c8ddf1" stroke-width="0.3"/>
<polygon points="23.8,394.0 30.6,395.9 31.8,391.7 25.0,389.8" fill="#c8ddf1" stroke="#c8ddf1" stroke-width="0.3"/>
<polygon points="57.8,402.8 64.7,404.3 65.6,400.1 58.8,398.5" fill="#c8ddf1" stroke="#c8ddf1" stroke-width="0.3"/>
<polygon points="126.7,416.1 133.6,417.1 134.2,412.8 127.3,411.7" fill="#7eabe0" stroke="#7eabe0" stroke-width="0.3"/>
<polygon points="203.3,424.3 210.3,424.7 210.4,420.4 203.5,419.9" fill="#c8ddf1" stroke="#c8ddf1" stroke-width="0.3"/>
<polygon points="240.0,425.9 257.5,426.1 257.4,421.7 240.0,421.5" fill="#7eabe0" stroke="#7eabe0" stroke-width="0.3"/>
<polygon points="257.5,426.1 261.9,426.1 261.7,421.7 257.4,421.7" fill="#4d82cb" stroke="#4d82cb" stroke-width="0.3"/>
<polygon points="261.9,426.1 275.0,425.9 274.8,421.5 261.7,421.7" fill="#7eabe0" stroke="#7eabe0" stroke-width="0.3"/>
<polygon points="301.2,425.0 305.5,424.8 305.2,420.4 300.8,420.6" fill="#7eabe0" stroke="#7eabe0" stroke-width="0.3"/>
<polygon points="344.7,421.8 357.7,420.3 357.0,416.0 344.1,417.4" fill="#7eabe0" stroke="#7eabe0" stroke-width="0.3"/>
<polygon points="374.9,418.2 387.9,416.3 387.0,412.0 374.2,413.8" fill="#4d82cb" stroke="#4d82cb" stroke-width="0.3"/>
<polygon points="387.9,416.3 396.5,415.0 395.6,410.6 387.0,412.0" fill="#7eabe0" stroke="#7eabe0" stroke-width="0.3"/>
<polygon points="11.6,386.0 25.0,389.8 26.2,385.6 12.9,381.8" fill="#c8ddf1" stroke="#c8ddf1" stroke-width="0.3"/>
<polygon points="52.0,396.9 58.8,398.5 59.8,394.2 53.1,392.6" fill="#c8ddf1" stroke="#c8ddf1" stroke-width="0.3"/>
<polygon points="99.8,407.1 106.6,408.3 107.4,404.0 100.6,402.8" fill="#c8ddf1" stroke="#c8ddf1" stroke-width="0.3"/>
<polygon points="127.3,411.7 134.2,412.8 134.8,408.4 127.9,407.4" fill="#7eabe0" stroke="#7eabe0" stroke-width="0.3"/>
<polygon points="161.8,416.3 168.8,417.0 169.2,412.7 162.3,411.9" fill="#c8ddf1" stroke="#c8ddf1" stroke-width="0.3"/>
<polygon points="175.7,417.7 189.6,418.9 189.9,414.6 176.1,413.4" fill="#c8ddf1" stroke="#c8ddf1" stroke-width="0.3"/>
<polygon points="196.5,419.5 203.5,419.9 203.7,415.5 196.8,415.1" fill="#c8ddf1" stroke="#c8ddf1" stroke-width="0.3"/>
<polygon points="224.3,421.0 231.3,421.2 231.3,416.8 224.4,416.6" fill="#7eabe0" stroke="#7eabe0" stroke-width="0.3"/>
<polygon points="235.7,421.4 244.3,421.6 244.3,417.2 235.7,417.0" fill="#7eabe0" stroke="#7eabe0" stroke-width="0.3"/>
<polygon points="248.7,421.6 266.1,421.6 265.9,417.2 248.6,417.2" fill="#7eabe0" stroke="#7eabe0" stroke-width="0.3"/>
<polygon points="270.4,421.6 274.8,421.5 274.6,417.1 270.3,417.2" fill="#7eabe0" stroke="#7eabe0" stroke-width="0.3"/>
<polygon points="279.1,421.4 287.8,421.2 287.5,416.8 278.9,417.0" fill="#c8ddf1" stroke="#c8ddf1" stroke-width="0.3"/>
<polygon points="348.4,416.9 352.7,416.5 352.1,412.1 347.8,412.6" fill="#7eabe0" stroke="#7eabe0" stroke-width="0.3"/>
<polygon points="357.0,416.0 361.3,415.5 360.6,411.1 356.3,411.6" fill="#7eabe0" stroke="#7eabe0" stroke-width="0.3"/>
<polygon points="374.2,413.8 378.5,413.2 377.7,408.9 373.4,409.5" fill="#7eabe0" stroke="#7eabe0" stroke-width="0.3"/>
<polygon points="378.5,413.2 387.0,412.0 386.2,407.6 377.7,408.9" fill="#4d82cb" stroke="#4d82cb" stroke-width="0.3"/>
<polygon points="387.0,412.0 391.3,411.3 390.5,407.0 386.2,407.6" fill="#7eabe0" stroke="#7eabe0" stroke-width="0.3"/>
<polygon points="12.9,381.8 19.5,383.7 20.8,379.5 14.2,377.6" fill="#c8ddf1" stroke="#c8ddf1" stroke-width="0.3"/>
<polygon points="53.1,392.6 59.8,394.2 60.8,389.9 54.1,388.3" fill="#c8ddf1" stroke="#c8ddf1" stroke-width="0.3"/>
<polygon points="86.9,400.1 93.7,401.5 94.5,397.2 87.8,395.8" fill="#7eabe0" stroke="#7eabe0" stroke-width="0.3"/>
<polygon points="114.2,405.2 148.5,410.3 149.0,405.9 114.9,400.9" fill="#7eabe0" stroke="#7eabe0" stroke-width="0.3"/>
<polygon points="155.4,411.1 162.3,411.9 162.7,407.5 155.9,406.8" fill="#c8ddf1" stroke="#c8ddf1" stroke-width="0.3"/>
<polygon points="176.1,413.4 183.0,414.0 183.3,409.6 176.4,409.0" fill="#c8ddf1" stroke="#c8ddf1" stroke-width="0.3"/>
<polygon points="217.5,416.3 224.4,416.6 224.5,412.2 217.6,411.9" fill="#7eabe0" stroke="#7eabe0" stroke-width="0.3"/>
<polygon points="240.0,417.1 261.6,417.3 261.5,412.9 240.0,412.7" fill="#7eabe0" stroke="#7eabe0" stroke-width="0.3"/>
<polygon points="317.7,415.2 326.3,414.5 325.8,410.2 317.3,410.8" fill="#7eabe0" stroke="#7eabe0" stroke-width="0.3"/>
<polygon points="339.2,413.4 343.5,413.0 342.9,408.6 338.6,409.0" fill="#7eabe0" stroke="#7eabe0" stroke-width="0.3"/>
<polygon points="347.8,412.6 364.9,410.6 364.2,406.2 347.2,408.2" fill="#7eabe0" stroke="#7eabe0" stroke-width="0.3"/>
<polygon points="377.7,408.9 381.9,408.3 381.1,403.9 376.9,404.5" fill="#7eabe0" stroke="#7eabe0" stroke-width="0.3"/>
<polygon points="27.4,381.4 40.7,384.9 41.9,380.7 28.6,377.1" fill="#c8ddf1" stroke="#c8ddf1" stroke-width="0.3"/>
<polygon points="81.0,394.4 94.5,397.2 95.4,392.8 81.9,390.1" fill="#7eabe0" stroke="#7eabe0" stroke-width="0.3"/>
<polygon points="101.3,398.4 108.1,399.7 108.8,395.3 102.1,394.1" fill="#c8ddf1" stroke="#c8ddf1" stroke-width="0.3"/>
<polygon points="121.7,402.0 128.5,403.0 129.1,398.7 122.4,397.6" fill="#7eabe0" stroke="#7eabe0" stroke-width="0.3"/>
<polygon points="128.5,403.0 142.2,405.0 142.7,400.6 129.1,398.7" fill="#4d82cb" stroke="#4d82cb" stroke-width="0.3"/>
<polygon points="162.7,407.5 169.6,408.3 169.9,403.9 163.1,403.2" fill="#c8ddf1" stroke="#c8ddf1" stroke-width="0.3"/>
<polygon points="176.4,409.0 183.3,409.6 183.6,405.2 176.8,404.6" fill="#c8ddf1" stroke="#c8ddf1" stroke-width="0.3"/>
<polygon points="203.9,411.1 210.8,411.6 210.9,407.2 204.1,406.7" fill="#c8ddf1" stroke="#c8ddf1" stroke-width="0.3"/>
<polygon points="217.6,411.9 231.4,412.4 231.4,408.0 217.7,407.5" fill="#7eabe0" stroke="#7eabe0" stroke-width="0.3"/>
<polygon points="248.6,412.8 261.5,412.9 261.4,408.4 248.5,408.4" fill="#7eabe0" stroke="#7eabe0" stroke-width="0.3"/>
<polygon points="330.1,409.8 342.9,408.6 342.3,404.2 329.6,405.4" fill="#7eabe0" stroke="#7eabe0" stroke-width="0.3"/>
<polygon points="347.2,408.2 355.7,407.2 355.0,402.9 346.5,403.8" fill="#7eabe0" stroke="#7eabe0" stroke-width="0.3"/>
<polygon points="381.1,403.9 389.6,402.6 388.7,398.3 380.3,399.5" fill="#7eabe0" stroke="#7eabe0" stroke-width="0.3"/>
<polygon points="15.4,373.3 22.0,375.3 23.2,371.0 16.7,369.1" fill="#c8ddf1" stroke="#c8ddf1" stroke-width="0.3"/>
<polygon points="61.8,385.7 68.5,387.2 69.5,382.9 62.8,381.4" fill="#7eabe0" stroke="#7eabe0" stroke-width="0.3"/>
<polygon points="75.2,388.7 81.9,390.1 82.8,385.8 76.1,384.4" fill="#7eabe0" stroke="#7eabe0" stroke-width="0.3"/>
<polygon points="81.9,390.1 88.6,391.5 89.5,387.2 82.8,385.8" fill="#4d82cb" stroke="#4d82cb" stroke-width="0.3"/>
<polygon points="88.6,391.5 95.4,392.8 96.2,388.5 89.5,387.2" fill="#24519f" stroke="#24519f" stroke-width="0.3"/>
<polygon points="115.6,396.5 129.1,398.7 129.8,394.3 116.3,392.2" fill="#7eabe0" stroke="#7eabe0" stroke-width="0.3"/>
<polygon points="129.1,398.7 135.9,399.7 136.5,395.3 129.8,394.3" fill="#24519f" stroke="#24519f" stroke-width="0.3"/>
<polygon points="135.9,399.7 142.7,400.6 143.3,396.3 136.5,395.3" fill="#4d82cb" stroke="#4d82cb" stroke-width="0.3"/>
<polygon points="142.7,400.6 149.5,401.5 150.0,397.2 143.3,396.3" fill="#7eabe0" stroke="#7eabe0" stroke-width="0.3"/>
<polygon points="176.8,404.6 183.6,405.2 183.9,400.8 177.1,400.2" fill="#c8ddf1" stroke="#c8ddf1" stroke-width="0.3"/>
<polygon points="197.2,406.3 204.1,406.7 204.3,402.3 197.5,401.9" fill="#c8ddf1" stroke="#c8ddf1" stroke-width="0.3"/>
<polygon points="240.0,408.3 244.3,408.3 244.2,403.9 240.0,403.8" fill="#7eabe0" stroke="#7eabe0" stroke-width="0.3"/>
<polygon points="248.5,408.4 252.8,408.4 252.7,404.0 248.5,404.0" fill="#7eabe0" stroke="#7eabe0" stroke-width="0.3"/>
<polygon points="257.1,408.4 261.4,408.4 261.2,404.0 257.0,404.0" fill="#7eabe0" stroke="#7eabe0" stroke-width="0.3"/>
<polygon points="291.2,407.8 295.5,407.6 295.2,403.2 290.9,403.4" fill="#c8ddf1" stroke="#c8ddf1" stroke-width="0.3"/>
<polygon points="329.6,405.4 359.2,402.4 358.6,398.0 329.1,401.0" fill="#7eabe0" stroke="#7eabe0" stroke-width="0.3"/>
<polygon points="363.5,401.8 367.7,401.3 367.0,396.9 362.8,397.5" fill="#7eabe0" stroke="#7eabe0" stroke-width="0.3"/>
<polygon points="29.8,372.9 36.4,374.7 37.5,370.4 31.0,368.7" fill="#c8ddf1" stroke="#c8ddf1" stroke-width="0.3"/>
<polygon points="62.8,381.4 82.8,385.8 83.7,381.5 63.8,377.1" fill="#7eabe0" stroke="#7eabe0" stroke-width="0.3"/>
<polygon points="82.8,385.8 96.2,388.5 97.0,384.2 83.7,381.5" fill="#4d82cb" stroke="#4d82cb" stroke-width="0.3"/>
<polygon points="96.2,388.5 102.9,389.8 103.6,385.5 97.0,384.2" fill="#7eabe0" stroke="#7eabe0" stroke-width="0.3"/>
<polygon points="116.3,392.2 123.0,393.3 123.7,388.9 117.0,387.8" fill="#7eabe0" stroke="#7eabe0" stroke-width="0.3"/>
<polygon points="123.0,393.3 143.3,396.3 143.8,391.9 123.7,388.9" fill="#4d82cb" stroke="#4d82cb" stroke-width="0.3"/>
<polygon points="197.5,401.9 204.3,402.3 204.5,397.9 197.7,397.5" fill="#c8ddf1" stroke="#c8ddf1" stroke-width="0.3"/>
<polygon points="244.2,403.9 252.7,404.0 252.6,399.6 244.2,399.5" fill="#7eabe0" stroke="#7eabe0" stroke-width="0.3"/>
<polygon points="320.6,401.7 333.3,400.6 332.7,396.2 320.1,397.3" fill="#7eabe0" stroke="#7eabe0" stroke-width="0.3"/>
<polygon points="333.3,400.6 341.7,399.8 341.1,395.5 332.7,396.2" fill="#4d82cb" stroke="#4d82cb" stroke-width="0.3"/>
<polygon points="341.7,399.8 367.0,396.9 366.2,392.5 341.1,395.5" fill="#7eabe0" stroke="#7eabe0" stroke-width="0.3"/>
<polygon points="383.7,394.6 387.9,393.9 387.0,389.6 382.9,390.2" fill="#7eabe0" stroke="#7eabe0" stroke-width="0.3"/>
<polygon points="404.6,391.1 408.7,390.4 407.8,386.0 403.6,386.8" fill="#7eabe0" stroke="#7eabe0" stroke-width="0.3"/>
<polygon points="44.1,372.2 50.7,373.9 51.7,369.6 45.2,367.9" fill="#c8ddf1" stroke="#c8ddf1" stroke-width="0.3"/>
<polygon points="63.8,377.1 77.1,380.1 78.0,375.8 64.8,372.8" fill="#4d82cb" stroke="#4d82cb" stroke-width="0.3"/>
<polygon points="77.1,380.1 97.0,384.2 97.8,379.9 78.0,375.8" fill="#7eabe0" stroke="#7eabe0" stroke-width="0.3"/>
<polygon points="117.0,387.8 130.4,390.0 131.0,385.6 117.7,383.5" fill="#7eabe0" stroke="#7eabe0" stroke-width="0.3"/>
<polygon points="130.4,390.0 137.1,391.0 137.7,386.6 131.0,385.6" fill="#4d82cb" stroke="#4d82cb" stroke-width="0.3"/>
<polygon points="137.1,391.0 150.5,392.8 151.0,388.4 137.7,386.6" fill="#7eabe0" stroke="#7eabe0" stroke-width="0.3"/>
<polygon points="211.2,398.3 218.0,398.7 218.1,394.3 211.4,393.9" fill="#c8ddf1" stroke="#c8ddf1" stroke-width="0.3"/>
<polygon points="244.2,399.5 248.4,399.6 248.4,395.2 244.2,395.1" fill="#7eabe0" stroke="#7eabe0" stroke-width="0.3"/>
<polygon points="252.6,399.6 265.3,399.6 265.2,395.2 252.6,395.2" fill="#7eabe0" stroke="#7eabe0" stroke-width="0.3"/>
<polygon points="278.0,399.4 282.2,399.3 282.0,394.8 277.8,395.0" fill="#c8ddf1" stroke="#c8ddf1" stroke-width="0.3"/>
<polygon points="307.5,398.1 311.7,397.9 311.3,393.5 307.1,393.7" fill="#7eabe0" stroke="#7eabe0" stroke-width="0.3"/>
<polygon points="320.1,397.3 332.7,396.2 332.2,391.9 319.7,392.9" fill="#7eabe0" stroke="#7eabe0" stroke-width="0.3"/>
<polygon points="332.7,396.2 336.9,395.9 336.4,391.5 332.2,391.9" fill="#4d82cb" stroke="#4d82cb" stroke-width="0.3"/>
<polygon points="336.9,395.9 341.1,395.5 340.5,391.1 336.4,391.5" fill="#7eabe0" stroke="#7eabe0" stroke-width="0.3"/>
<polygon points="341.1,395.5 345.3,395.0 344.7,390.6 340.5,391.1" fill="#4d82cb" stroke="#4d82cb" stroke-width="0.3"/>
<polygon points="345.3,395.0 349.5,394.6 348.9,390.2 344.7,390.6" fill="#7eabe0" stroke="#7eabe0" stroke-width="0.3"/>
<polygon points="349.5,394.6 353.7,394.1 353.0,389.7 348.9,390.2" fill="#4d82cb" stroke="#4d82cb" stroke-width="0.3"/>
<polygon points="353.7,394.1 357.9,393.6 357.2,389.2 353.0,389.7" fill="#7eabe0" stroke="#7eabe0" stroke-width="0.3"/>
<polygon points="357.9,393.6 362.0,393.1 361.3,388.7 357.2,389.2" fill="#4d82cb" stroke="#4d82cb" stroke-width="0.3"/>
<polygon points="362.0,393.1 370.4,392.0 369.6,387.6 361.3,388.7" fill="#7eabe0" stroke="#7eabe0" stroke-width="0.3"/>
<polygon points="374.6,391.4 382.9,390.2 382.1,385.8 373.8,387.0" fill="#7eabe0" stroke="#7eabe0" stroke-width="0.3"/>
<polygon points="391.2,388.9 399.5,387.5 398.6,383.2 390.3,384.5" fill="#7eabe0" stroke="#7eabe0" stroke-width="0.3"/>
<polygon points="420.1,383.7 424.2,382.8 423.2,378.5 419.1,379.3" fill="#7eabe0" stroke="#7eabe0" stroke-width="0.3"/>
<polygon points="45.2,367.9 51.7,369.6 52.8,365.3 46.3,363.7" fill="#c8ddf1" stroke="#c8ddf1" stroke-width="0.3"/>
<polygon points="58.3,371.2 64.8,372.8 65.8,368.5 59.3,366.9" fill="#7eabe0" stroke="#7eabe0" stroke-width="0.3"/>
<polygon points="64.8,372.8 78.0,375.8 78.9,371.5 65.8,368.5" fill="#4d82cb" stroke="#4d82cb" stroke-width="0.3"/>
<polygon points="78.0,375.8 84.6,377.2 85.5,372.9 78.9,371.5" fill="#7eabe0" stroke="#7eabe0" stroke-width="0.3"/>
<polygon points="117.7,383.5 137.7,386.6 138.3,382.2 118.4,379.1" fill="#7eabe0" stroke="#7eabe0" stroke-width="0.3"/>
<polygon points="204.7,393.5 218.1,394.3 218.2,389.9 204.9,389.1" fill="#c8ddf1" stroke="#c8ddf1" stroke-width="0.3"/>
<polygon points="252.6,395.2 261.0,395.2 260.8,390.8 252.5,390.8" fill="#7eabe0" stroke="#7eabe0" stroke-width="0.3"/>
<polygon points="319.7,392.9 336.4,391.5 335.8,387.1 319.2,388.5" fill="#7eabe0" stroke="#7eabe0" stroke-width="0.3"/>
<polygon points="336.4,391.5 340.5,391.1 339.9,386.7 335.8,387.1" fill="#4d82cb" stroke="#4d82cb" stroke-width="0.3"/>
<polygon points="340.5,391.1 344.7,390.6 344.1,386.2 339.9,386.7" fill="#7eabe0" stroke="#7eabe0" stroke-width="0.3"/>
<polygon points="344.7,390.6 348.9,390.2 348.2,385.8 344.1,386.2" fill="#4d82cb" stroke="#4d82cb" stroke-width="0.3"/>
<polygon points="348.9,390.2 353.0,389.7 352.4,385.3 348.2,385.8" fill="#7eabe0" stroke="#7eabe0" stroke-width="0.3"/>
<polygon points="353.0,389.7 361.3,388.7 360.6,384.3 352.4,385.3" fill="#4d82cb" stroke="#4d82cb" stroke-width="0.3"/>
<polygon points="361.3,388.7 373.8,387.0 373.0,382.7 360.6,384.3" fill="#7eabe0" stroke="#7eabe0" stroke-width="0.3"/>
<polygon points="377.9,386.4 382.1,385.8 381.2,381.5 377.1,382.1" fill="#7eabe0" stroke="#7eabe0" stroke-width="0.3"/>
<polygon points="390.3,384.5 394.4,383.9 393.5,379.5 389.4,380.2" fill="#7eabe0" stroke="#7eabe0" stroke-width="0.3"/>
<polygon points="398.6,383.2 402.7,382.4 401.7,378.1 397.6,378.8" fill="#7eabe0" stroke="#7eabe0" stroke-width="0.3"/>
<polygon points="20.5,356.5 26.9,358.4 28.2,354.1 21.8,352.3" fill="#c8ddf1" stroke="#c8ddf1" stroke-width="0.3"/>
<polygon points="59.3,366.9 65.8,368.5 66.9,364.2 60.4,362.7" fill="#7eabe0" stroke="#7eabe0" stroke-width="0.3"/>
<polygon points="65.8,368.5 78.9,371.5 79.9,367.2 66.9,364.2" fill="#4d82cb" stroke="#4d82cb" stroke-width="0.3"/>
<polygon points="78.9,371.5 85.5,372.9 86.4,368.6 79.9,367.2" fill="#7eabe0" stroke="#7eabe0" stroke-width="0.3"/>
<polygon points="131.6,381.2 138.3,382.2 138.8,377.9 132.3,376.9" fill="#7eabe0" stroke="#7eabe0" stroke-width="0.3"/>
<polygon points="164.8,385.6 171.5,386.3 171.9,381.9 165.3,381.2" fill="#7eabe0" stroke="#7eabe0" stroke-width="0.3"/>
<polygon points="218.2,389.9 224.9,390.1 225.0,385.7 218.3,385.4" fill="#c8ddf1" stroke="#c8ddf1" stroke-width="0.3"/>
<polygon points="239.9,390.6 244.1,390.7 244.1,386.3 239.9,386.2" fill="#7eabe0" stroke="#7eabe0" stroke-width="0.3"/>
<polygon points="248.3,390.7 260.8,390.8 260.7,386.4 248.2,386.3" fill="#7eabe0" stroke="#7eabe0" stroke-width="0.3"/>
<polygon points="323.3,388.2 352.4,385.3 351.7,380.9 322.9,383.8" fill="#7eabe0" stroke="#7eabe0" stroke-width="0.3"/>
<polygon points="352.4,385.3 356.5,384.8 355.8,380.4 351.7,380.9" fill="#4d82cb" stroke="#4d82cb" stroke-width="0.3"/>
<polygon points="356.5,384.8 364.8,383.8 364.0,379.4 355.8,380.4" fill="#7eabe0" stroke="#7eabe0" stroke-width="0.3"/>
<polygon points="373.0,382.7 397.6,378.8 396.7,374.5 372.2,378.3" fill="#7eabe0" stroke="#7eabe0" stroke-width="0.3"/>
<polygon points="28.2,354.1 34.6,355.9 35.8,351.7 29.4,349.9" fill="#c8ddf1" stroke="#c8ddf1" stroke-width="0.3"/>
<polygon points="66.9,364.2 73.3,365.7 74.3,361.4 67.9,359.9" fill="#4d82cb" stroke="#4d82cb" stroke-width="0.3"/>
<polygon points="73.3,365.7 79.9,367.2 80.8,362.9 74.3,361.4" fill="#24519f" stroke="#24519f" stroke-width="0.3"/>
<polygon points="79.9,367.2 86.4,368.6 87.3,364.2 80.8,362.9" fill="#4d82cb" stroke="#4d82cb" stroke-width="0.3"/>
<polygon points="86.4,368.6 92.9,369.9 93.7,365.6 87.3,364.2" fill="#7eabe0" stroke="#7eabe0" stroke-width="0.3"/>
<polygon points="165.3,381.2 171.9,381.9 172.3,377.5 165.7,376.8" fill="#7eabe0" stroke="#7eabe0" stroke-width="0.3"/>
<polygon points="239.9,386.2 264.9,386.3 264.7,381.9 239.9,381.8" fill="#7eabe0" stroke="#7eabe0" stroke-width="0.3"/>
<polygon points="318.7,384.1 322.9,383.8 322.4,379.3 318.2,379.7" fill="#7eabe0" stroke="#7eabe0" stroke-width="0.3"/>
<polygon points="327.0,383.4 359.9,379.9 359.2,375.6 326.5,379.0" fill="#7eabe0" stroke="#7eabe0" stroke-width="0.3"/>
<polygon points="368.1,378.9 376.3,377.7 375.5,373.3 367.4,374.5" fill="#7eabe0" stroke="#7eabe0" stroke-width="0.3"/>
<polygon points="376.3,377.7 384.5,376.5 383.6,372.1 375.5,373.3" fill="#4d82cb" stroke="#4d82cb" stroke-width="0.3"/>
<polygon points="384.5,376.5 400.8,373.7 399.8,369.4 383.6,372.1" fill="#7eabe0" stroke="#7eabe0" stroke-width="0.3"/>
<polygon points="412.9,371.5 417.0,370.7 415.9,366.4 411.9,367.1" fill="#7eabe0" stroke="#7eabe0" stroke-width="0.3"/>
<polygon points="429.1,368.2 433.1,367.3 432.0,363.0 428.0,363.9" fill="#7eabe0" stroke="#7eabe0" stroke-width="0.3"/>
<polygon points="29.4,349.9 35.8,351.7 37.0,347.4 30.6,345.6" fill="#c8ddf1" stroke="#c8ddf1" stroke-width="0.3"/>
<polygon points="61.4,358.4 67.9,359.9 68.9,355.6 62.5,354.1" fill="#7eabe0" stroke="#7eabe0" stroke-width="0.3"/>
<polygon points="67.9,359.9 74.3,361.4 75.3,357.1 68.9,355.6" fill="#4d82cb" stroke="#4d82cb" stroke-width="0.3"/>
<polygon points="74.3,361.4 80.8,362.9 81.7,358.5 75.3,357.1" fill="#24519f" stroke="#24519f" stroke-width="0.3"/>
<polygon points="80.8,362.9 87.3,364.2 88.2,359.9 81.7,358.5" fill="#4d82cb" stroke="#4d82cb" stroke-width="0.3"/>
<polygon points="139.4,373.5 146.0,374.4 146.5,370.0 140.0,369.1" fill="#c8ddf1" stroke="#c8ddf1" stroke-width="0.3"/>
<polygon points="172.3,377.5 178.9,378.2 179.2,373.8 172.7,373.1" fill="#7eabe0" stroke="#7eabe0" stroke-width="0.3"/>
<polygon points="198.6,379.9 205.2,380.3 205.4,375.9 198.9,375.4" fill="#c8ddf1" stroke="#c8ddf1" stroke-width="0.3"/>
<polygon points="218.5,381.0 225.1,381.3 225.1,376.9 218.6,376.6" fill="#c8ddf1" stroke="#c8ddf1" stroke-width="0.3"/>
<polygon points="239.9,381.8 264.7,381.9 264.5,377.5 239.9,377.3" fill="#7eabe0" stroke="#7eabe0" stroke-width="0.3"/>
<polygon points="268.8,381.9 281.2,381.6 280.9,377.2 268.6,377.4" fill="#7eabe0" stroke="#7eabe0" stroke-width="0.3"/>
<polygon points="314.1,380.0 322.4,379.3 321.9,374.9 313.7,375.5" fill="#7eabe0" stroke="#7eabe0" stroke-width="0.3"/>
<polygon points="326.5,379.0 371.4,373.9 370.6,369.5 325.9,374.6" fill="#7eabe0" stroke="#7eabe0" stroke-width="0.3"/>
<polygon points="371.4,373.9 387.7,371.5 386.8,367.1 370.6,369.5" fill="#4d82cb" stroke="#4d82cb" stroke-width="0.3"/>
<polygon points="387.7,371.5 411.9,367.1 410.9,362.8 386.8,367.1" fill="#7eabe0" stroke="#7eabe0" stroke-width="0.3"/>
<polygon points="24.3,343.8 37.0,347.4 38.2,343.2 25.6,339.6" fill="#c8ddf1" stroke="#c8ddf1" stroke-width="0.3"/>
<polygon points="68.9,355.6 75.3,357.1 76.3,352.8 69.9,351.3" fill="#7eabe0" stroke="#7eabe0" stroke-width="0.3"/>
<polygon points="75.3,357.1 88.2,359.9 89.0,355.6 76.3,352.8" fill="#4d82cb" stroke="#4d82cb" stroke-width="0.3"/>
<polygon points="94.6,361.3 101.1,362.5 101.9,358.2 95.5,356.9" fill="#c8ddf1" stroke="#c8ddf1" stroke-width="0.3"/>
<polygon points="107.5,363.8 114.0,364.9 114.8,360.6 108.3,359.4" fill="#c8ddf1" stroke="#c8ddf1" stroke-width="0.3"/>
<polygon points="146.5,370.0 153.1,370.9 153.6,366.5 147.1,365.6" fill="#c8ddf1" stroke="#c8ddf1" stroke-width="0.3"/>
<polygon points="185.8,374.4 192.3,374.9 192.6,370.5 186.1,370.0" fill="#c8ddf1" stroke="#c8ddf1" stroke-width="0.3"/>
<polygon points="212.0,376.3 218.6,376.6 218.7,372.2 212.2,371.9" fill="#c8ddf1" stroke="#c8ddf1" stroke-width="0.3"/>
<polygon points="225.1,376.9 231.7,377.1 231.7,372.7 225.2,372.5" fill="#c8ddf1" stroke="#c8ddf1" stroke-width="0.3"/>
<polygon points="244.0,377.4 289.1,376.9 288.8,372.5 244.0,373.0" fill="#7eabe0" stroke="#7eabe0" stroke-width="0.3"/>
<polygon points="301.4,376.3 313.7,375.5 313.2,371.1 301.1,371.9" fill="#7eabe0" stroke="#7eabe0" stroke-width="0.3"/>
<polygon points="321.9,374.9 374.7,369.0 373.9,364.6 321.4,370.5" fill="#7eabe0" stroke="#7eabe0" stroke-width="0.3"/>
<polygon points="374.7,369.0 386.8,367.1 385.9,362.7 373.9,364.6" fill="#4d82cb" stroke="#4d82cb" stroke-width="0.3"/>
<polygon points="386.8,367.1 410.9,362.8 409.9,358.5 385.9,362.7" fill="#7eabe0" stroke="#7eabe0" stroke-width="0.3"/>
<polygon points="414.9,362.0 418.9,361.2 417.8,356.9 413.9,357.7" fill="#7eabe0" stroke="#7eabe0" stroke-width="0.3"/>
<polygon points="63.5,349.8 82.6,354.2 83.6,349.9 64.6,345.5" fill="#7eabe0" stroke="#7eabe0" stroke-width="0.3"/>
<polygon points="121.2,361.7 127.7,362.8 128.3,358.4 121.9,357.3" fill="#c8ddf1" stroke="#c8ddf1" stroke-width="0.3"/>
<polygon points="140.6,364.7 147.1,365.6 147.6,361.3 141.2,360.4" fill="#c8ddf1" stroke="#c8ddf1" stroke-width="0.3"/>
<polygon points="160.1,367.3 173.1,368.7 173.5,364.3 160.5,362.9" fill="#c8ddf1" stroke="#c8ddf1" stroke-width="0.3"/>
<polygon points="199.1,371.0 205.6,371.5 205.8,367.0 199.4,366.6" fill="#c8ddf1" stroke="#c8ddf1" stroke-width="0.3"/>
<polygon points="231.7,372.7 235.8,372.8 235.8,368.4 231.8,368.3" fill="#c8ddf1" stroke="#c8ddf1" stroke-width="0.3"/>
<polygon points="239.9,372.9 284.8,372.6 284.5,368.2 239.9,368.5" fill="#7eabe0" stroke="#7eabe0" stroke-width="0.3"/>
<polygon points="301.1,371.9 313.2,371.1 312.8,366.7 300.7,367.5" fill="#4d82cb" stroke="#4d82cb" stroke-width="0.3"/>
<polygon points="313.2,371.1 317.3,370.8 316.8,366.4 312.8,366.7" fill="#7eabe0" stroke="#7eabe0" stroke-width="0.3"/>
<polygon points="329.5,369.8 373.9,364.6 373.1,360.2 328.9,365.4" fill="#7eabe0" stroke="#7eabe0" stroke-width="0.3"/>
<polygon points="373.9,364.6 377.9,364.0 377.1,359.6 373.1,360.2" fill="#4d82cb" stroke="#4d82cb" stroke-width="0.3"/>
<polygon points="377.9,364.0 409.9,358.5 408.9,354.1 377.1,359.6" fill="#7eabe0" stroke="#7eabe0" stroke-width="0.3"/>
<polygon points="413.9,357.7 417.8,356.9 416.8,352.6 412.8,353.3" fill="#7eabe0" stroke="#7eabe0" stroke-width="0.3"/>
<polygon points="433.7,353.5 437.6,352.6 436.4,348.3 432.5,349.2" fill="#7eabe0" stroke="#7eabe0" stroke-width="0.3"/>
<polygon points="51.9,342.3 70.9,347.0 71.9,342.7 53.1,338.1" fill="#7eabe0" stroke="#7eabe0" stroke-width="0.3"/>
<polygon points="96.3,352.6 109.1,355.1 109.9,350.7 97.2,348.3" fill="#c8ddf1" stroke="#c8ddf1" stroke-width="0.3"/>
<polygon points="179.9,365.0 186.4,365.6 186.7,361.2 180.3,360.6" fill="#c8ddf1" stroke="#c8ddf1" stroke-width="0.3"/>
<polygon points="192.9,366.1 199.4,366.6 199.6,362.2 193.1,361.7" fill="#c8ddf1" stroke="#c8ddf1" stroke-width="0.3"/>
<polygon points="239.9,368.5 252.1,368.6 252.0,364.2 239.9,364.1" fill="#7eabe0" stroke="#7eabe0" stroke-width="0.3"/>
<polygon points="256.1,368.7 284.5,368.2 284.2,363.8 256.0,364.2" fill="#7eabe0" stroke="#7eabe0" stroke-width="0.3"/>
<polygon points="288.5,368.0 292.6,367.9 292.3,363.4 288.2,363.6" fill="#7eabe0" stroke="#7eabe0" stroke-width="0.3"/>
<polygon points="296.6,367.7 300.7,367.5 300.3,363.0 296.3,363.3" fill="#7eabe0" stroke="#7eabe0" stroke-width="0.3"/>
<polygon points="300.7,367.5 304.7,367.2 304.3,362.8 300.3,363.0" fill="#4d82cb" stroke="#4d82cb" stroke-width="0.3"/>
<polygon points="304.7,367.2 308.8,367.0 308.3,362.6 304.3,362.8" fill="#24519f" stroke="#24519f" stroke-width="0.3"/>
<polygon points="308.8,367.0 312.8,366.7 312.4,362.3 308.3,362.6" fill="#4d82cb" stroke="#4d82cb" stroke-width="0.3"/>
<polygon points="312.8,366.7 324.9,365.8 324.4,361.4 312.4,362.3" fill="#7eabe0" stroke="#7eabe0" stroke-width="0.3"/>
<polygon points="328.9,365.4 349.0,363.4 348.4,359.0 328.4,361.0" fill="#7eabe0" stroke="#7eabe0" stroke-width="0.3"/>
<polygon points="349.0,363.4 353.1,362.9 352.4,358.5 348.4,359.0" fill="#4d82cb" stroke="#4d82cb" stroke-width="0.3"/>
<polygon points="353.1,362.9 365.1,361.3 364.3,357.0 352.4,358.5" fill="#7eabe0" stroke="#7eabe0" stroke-width="0.3"/>
<polygon points="365.1,361.3 369.1,360.8 368.3,356.4 364.3,357.0" fill="#4d82cb" stroke="#4d82cb" stroke-width="0.3"/>
<polygon points="369.1,360.8 381.0,359.0 380.2,354.6 368.3,356.4" fill="#7eabe0" stroke="#7eabe0" stroke-width="0.3"/>
<polygon points="381.0,359.0 389.0,357.7 388.1,353.3 380.2,354.6" fill="#4d82cb" stroke="#4d82cb" stroke-width="0.3"/>
<polygon points="389.0,357.7 393.0,357.0 392.1,352.7 388.1,353.3" fill="#7eabe0" stroke="#7eabe0" stroke-width="0.3"/>
<polygon points="393.0,357.0 397.0,356.3 396.0,352.0 392.1,352.7" fill="#4d82cb" stroke="#4d82cb" stroke-width="0.3"/>
<polygon points="397.0,356.3 408.9,354.1 407.8,349.8 396.0,352.0" fill="#7eabe0" stroke="#7eabe0" stroke-width="0.3"/>
<polygon points="34.3,332.9 40.6,334.7 41.8,330.4 35.6,328.7" fill="#c8ddf1" stroke="#c8ddf1" stroke-width="0.3"/>
<polygon points="53.1,338.1 65.6,341.2 66.6,336.9 54.2,333.8" fill="#4d82cb" stroke="#4d82cb" stroke-width="0.3"/>
<polygon points="65.6,341.2 71.9,342.7 72.9,338.4 66.6,336.9" fill="#7eabe0" stroke="#7eabe0" stroke-width="0.3"/>
<polygon points="173.8,359.9 180.3,360.6 180.6,356.2 174.2,355.5" fill="#c8ddf1" stroke="#c8ddf1" stroke-width="0.3"/>
<polygon points="186.7,361.2 193.1,361.7 193.4,357.3 187.0,356.8" fill="#c8ddf1" stroke="#c8ddf1" stroke-width="0.3"/>
<polygon points="206.0,362.6 212.5,363.0 212.6,358.6 206.2,358.2" fill="#c8ddf1" stroke="#c8ddf1" stroke-width="0.3"/>
<polygon points="239.9,364.1 243.9,364.1 243.9,359.7 239.9,359.6" fill="#7eabe0" stroke="#7eabe0" stroke-width="0.3"/>
<polygon points="248.0,364.2 264.1,364.2 263.9,359.8 247.9,359.8" fill="#7eabe0" stroke="#7eabe0" stroke-width="0.3"/>
<polygon points="264.1,364.2 268.1,364.2 267.9,359.7 263.9,359.8" fill="#4d82cb" stroke="#4d82cb" stroke-width="0.3"/>
<polygon points="268.1,364.2 288.2,363.6 287.9,359.2 267.9,359.7" fill="#7eabe0" stroke="#7eabe0" stroke-width="0.3"/>
<polygon points="292.3,363.4 316.4,362.0 315.9,357.6 291.9,359.0" fill="#7eabe0" stroke="#7eabe0" stroke-width="0.3"/>
<polygon points="320.4,361.7 324.4,361.4 323.9,357.0 319.9,357.3" fill="#7eabe0" stroke="#7eabe0" stroke-width="0.3"/>
<polygon points="328.4,361.0 332.4,360.6 331.8,356.2 327.8,356.6" fill="#7eabe0" stroke="#7eabe0" stroke-width="0.3"/>
<polygon points="336.4,360.3 352.4,358.5 351.7,354.1 335.8,355.8" fill="#7eabe0" stroke="#7eabe0" stroke-width="0.3"/>
<polygon points="352.4,358.5 356.4,358.0 355.6,353.6 351.7,354.1" fill="#4d82cb" stroke="#4d82cb" stroke-width="0.3"/>
<polygon points="356.4,358.0 360.3,357.5 359.6,353.1 355.6,353.6" fill="#7eabe0" stroke="#7eabe0" stroke-width="0.3"/>
<polygon points="360.3,357.5 368.3,356.4 367.5,352.0 359.6,353.1" fill="#4d82cb" stroke="#4d82cb" stroke-width="0.3"/>
<polygon points="368.3,356.4 376.2,355.2 375.4,350.9 367.5,352.0" fill="#7eabe0" stroke="#7eabe0" stroke-width="0.3"/>
<polygon points="376.2,355.2 384.2,354.0 383.3,349.6 375.4,350.9" fill="#4d82cb" stroke="#4d82cb" stroke-width="0.3"/>
<polygon points="384.2,354.0 388.1,353.3 387.2,349.0 383.3,349.6" fill="#7eabe0" stroke="#7eabe0" stroke-width="0.3"/>
<polygon points="388.1,353.3 392.1,352.7 391.1,348.3 387.2,349.0" fill="#4d82cb" stroke="#4d82cb" stroke-width="0.3"/>
<polygon points="392.1,352.7 411.8,349.0 410.7,344.7 391.1,348.3" fill="#7eabe0" stroke="#7eabe0" stroke-width="0.3"/>
<polygon points="415.7,348.2 419.6,347.4 418.5,343.1 414.6,343.9" fill="#7eabe0" stroke="#7eabe0" stroke-width="0.3"/>
<polygon points="29.4,326.9 48.0,332.1 49.1,327.9 30.7,322.7" fill="#c8ddf1" stroke="#c8ddf1" stroke-width="0.3"/>
<polygon points="48.0,332.1 54.2,333.8 55.3,329.5 49.1,327.9" fill="#7eabe0" stroke="#7eabe0" stroke-width="0.3"/>
<polygon points="54.2,333.8 66.6,336.9 67.7,332.6 55.3,329.5" fill="#4d82cb" stroke="#4d82cb" stroke-width="0.3"/>
<polygon points="66.6,336.9 72.9,338.4 73.9,334.1 67.7,332.6" fill="#7eabe0" stroke="#7eabe0" stroke-width="0.3"/>
<polygon points="174.2,355.5 180.6,356.2 181.0,351.8 174.6,351.1" fill="#c8ddf1" stroke="#c8ddf1" stroke-width="0.3"/>
<polygon points="187.0,356.8 193.4,357.3 193.7,352.9 187.3,352.4" fill="#c8ddf1" stroke="#c8ddf1" stroke-width="0.3"/>
<polygon points="225.5,359.2 235.9,359.5 235.9,355.1 225.5,354.8" fill="#c8ddf1" stroke="#c8ddf1" stroke-width="0.3"/>
<polygon points="239.9,359.6 255.9,359.8 255.8,355.4 239.9,355.2" fill="#7eabe0" stroke="#7eabe0" stroke-width="0.3"/>
<polygon points="255.9,359.8 259.9,359.8 259.8,355.4 255.8,355.4" fill="#4d82cb" stroke="#4d82cb" stroke-width="0.3"/>
<polygon points="259.9,359.8 279.9,359.5 279.7,355.0 259.8,355.4" fill="#7eabe0" stroke="#7eabe0" stroke-width="0.3"/>
<polygon points="283.9,359.3 299.9,358.6 299.6,354.2 283.7,354.9" fill="#7eabe0" stroke="#7eabe0" stroke-width="0.3"/>
<polygon points="299.9,358.6 303.9,358.4 303.5,354.0 299.6,354.2" fill="#4d82cb" stroke="#4d82cb" stroke-width="0.3"/>
<polygon points="303.9,358.4 323.9,357.0 323.3,352.5 303.5,354.0" fill="#7eabe0" stroke="#7eabe0" stroke-width="0.3"/>
<polygon points="327.8,356.6 363.6,352.6 362.8,348.2 327.3,352.2" fill="#7eabe0" stroke="#7eabe0" stroke-width="0.3"/>
<polygon points="363.6,352.6 367.5,352.0 366.7,347.6 362.8,348.2" fill="#4d82cb" stroke="#4d82cb" stroke-width="0.3"/>
<polygon points="367.5,352.0 371.5,351.5 370.6,347.1 366.7,347.6" fill="#7eabe0" stroke="#7eabe0" stroke-width="0.3"/>
<polygon points="371.5,351.5 375.4,350.9 374.6,346.5 370.6,347.1" fill="#4d82cb" stroke="#4d82cb" stroke-width="0.3"/>
<polygon points="375.4,350.9 379.3,350.3 378.5,345.9 374.6,346.5" fill="#7eabe0" stroke="#7eabe0" stroke-width="0.3"/>
<polygon points="379.3,350.3 383.3,349.6 382.4,345.3 378.5,345.9" fill="#4d82cb" stroke="#4d82cb" stroke-width="0.3"/>
<polygon points="383.3,349.6 391.1,348.3 390.2,344.0 382.4,345.3" fill="#7eabe0" stroke="#7eabe0" stroke-width="0.3"/>
<polygon points="391.1,348.3 395.1,347.6 394.1,343.3 390.2,344.0" fill="#4d82cb" stroke="#4d82cb" stroke-width="0.3"/>
<polygon points="395.1,347.6 414.6,343.9 413.5,339.6 394.1,343.3" fill="#7eabe0" stroke="#7eabe0" stroke-width="0.3"/>
<polygon points="418.5,343.1 422.4,342.3 421.3,337.9 417.4,338.8" fill="#7eabe0" stroke="#7eabe0" stroke-width="0.3"/>
<polygon points="55.3,329.5 67.7,332.6 68.7,328.4 56.4,325.2" fill="#4d82cb" stroke="#4d82cb" stroke-width="0.3"/>
<polygon points="92.6,338.3 98.9,339.6 99.7,335.3 93.5,334.0" fill="#c8ddf1" stroke="#c8ddf1" stroke-width="0.3"/>
<polygon points="231.9,355.0 235.9,355.1 235.9,350.7 231.9,350.6" fill="#c8ddf1" stroke="#c8ddf1" stroke-width="0.3"/>
<polygon points="243.9,355.3 251.8,355.4 251.7,350.9 243.8,350.8" fill="#7eabe0" stroke="#7eabe0" stroke-width="0.3"/>
<polygon points="251.8,355.4 263.8,355.3 263.6,350.9 251.7,350.9" fill="#4d82cb" stroke="#4d82cb" stroke-width="0.3"/>
<polygon points="263.8,355.3 279.7,355.0 279.4,350.6 263.6,350.9" fill="#7eabe0" stroke="#7eabe0" stroke-width="0.3"/>
<polygon points="283.7,354.9 295.6,354.4 295.2,350.0 283.4,350.5" fill="#7eabe0" stroke="#7eabe0" stroke-width="0.3"/>
<polygon points="295.6,354.4 307.5,353.7 307.1,349.3 295.2,350.0" fill="#24519f" stroke="#24519f" stroke-width="0.3"/>
<polygon points="307.5,353.7 311.5,353.5 311.0,349.0 307.1,349.3" fill="#4d82cb" stroke="#4d82cb" stroke-width="0.3"/>
<polygon points="311.5,353.5 331.3,351.8 330.7,347.4 311.0,349.0" fill="#7eabe0" stroke="#7eabe0" stroke-width="0.3"/>
<polygon points="335.2,351.4 358.9,348.7 358.1,344.3 334.6,347.0" fill="#7eabe0" stroke="#7eabe0" stroke-width="0.3"/>
<polygon points="358.9,348.7 362.8,348.2 362.0,343.8 358.1,344.3" fill="#4d82cb" stroke="#4d82cb" stroke-width="0.3"/>
<polygon points="362.8,348.2 374.6,346.5 373.7,342.1 362.0,343.8" fill="#7eabe0" stroke="#7eabe0" stroke-width="0.3"/>
<polygon points="374.6,346.5 386.3,344.6 385.4,340.3 373.7,342.1" fill="#4d82cb" stroke="#4d82cb" stroke-width="0.3"/>
<polygon points="386.3,344.6 394.1,343.3 393.2,338.9 385.4,340.3" fill="#7eabe0" stroke="#7eabe0" stroke-width="0.3"/>
<polygon points="394.1,343.3 409.7,340.3 408.6,336.0 393.2,338.9" fill="#4d82cb" stroke="#4d82cb" stroke-width="0.3"/>
<polygon points="409.7,340.3 417.4,338.8 416.3,334.4 408.6,336.0" fill="#7eabe0" stroke="#7eabe0" stroke-width="0.3"/>
<polygon points="421.3,337.9 425.1,337.1 424.0,332.8 420.2,333.6" fill="#7eabe0" stroke="#7eabe0" stroke-width="0.3"/>
<polygon points="31.9,318.4 38.0,320.2 39.3,316.0 33.2,314.2" fill="#c8ddf1" stroke="#c8ddf1" stroke-width="0.3"/>
<polygon points="56.4,325.2 74.9,329.8 75.9,325.5 57.5,321.0" fill="#7eabe0" stroke="#7eabe0" stroke-width="0.3"/>
<polygon points="93.5,334.0 99.7,335.3 100.6,330.9 94.4,329.7" fill="#c8ddf1" stroke="#c8ddf1" stroke-width="0.3"/>
<polygon points="181.3,347.4 200.3,348.9 200.5,344.5 181.7,343.0" fill="#7eabe0" stroke="#7eabe0" stroke-width="0.3"/>
<polygon points="243.8,350.8 251.7,350.9 251.7,346.5 243.8,346.4" fill="#7eabe0" stroke="#7eabe0" stroke-width="0.3"/>
<polygon points="251.7,350.9 259.7,350.9 259.5,346.5 251.7,346.5" fill="#4d82cb" stroke="#4d82cb" stroke-width="0.3"/>
<polygon points="259.7,350.9 279.4,350.6 279.2,346.2 259.5,346.5" fill="#7eabe0" stroke="#7eabe0" stroke-width="0.3"/>
<polygon points="287.3,350.3 291.3,350.2 291.0,345.7 287.0,345.9" fill="#7eabe0" stroke="#7eabe0" stroke-width="0.3"/>
<polygon points="291.3,350.2 295.2,350.0 294.9,345.6 291.0,345.7" fill="#4d82cb" stroke="#4d82cb" stroke-width="0.3"/>
<polygon points="295.2,350.0 311.0,349.0 310.6,344.6 294.9,345.6" fill="#24519f" stroke="#24519f" stroke-width="0.3"/>
<polygon points="311.0,349.0 315.0,348.8 314.5,344.3 310.6,344.6" fill="#4d82cb" stroke="#4d82cb" stroke-width="0.3"/>
<polygon points="315.0,348.8 369.8,342.7 369.0,338.3 314.5,344.3" fill="#7eabe0" stroke="#7eabe0" stroke-width="0.3"/>
<polygon points="369.8,342.7 373.7,342.1 372.9,337.7 369.0,338.3" fill="#4d82cb" stroke="#4d82cb" stroke-width="0.3"/>
<polygon points="373.7,342.1 377.6,341.5 376.8,337.1 372.9,337.7" fill="#7eabe0" stroke="#7eabe0" stroke-width="0.3"/>
<polygon points="377.6,341.5 381.5,340.9 380.6,336.5 376.8,337.1" fill="#4d82cb" stroke="#4d82cb" stroke-width="0.3"/>
<polygon points="381.5,340.9 385.4,340.3 384.5,335.9 380.6,336.5" fill="#7eabe0" stroke="#7eabe0" stroke-width="0.3"/>
<polygon points="385.4,340.3 393.2,338.9 392.2,334.6 384.5,335.9" fill="#4d82cb" stroke="#4d82cb" stroke-width="0.3"/>
<polygon points="393.2,338.9 397.0,338.2 396.0,333.9 392.2,334.6" fill="#7eabe0" stroke="#7eabe0" stroke-width="0.3"/>
<polygon points="397.0,338.2 400.9,337.5 399.9,333.2 396.0,333.9" fill="#4d82cb" stroke="#4d82cb" stroke-width="0.3"/>
<polygon points="400.9,337.5 404.8,336.8 403.7,332.4 399.9,333.2" fill="#24519f" stroke="#24519f" stroke-width="0.3"/>
<polygon points="404.8,336.8 412.5,335.2 411.4,330.9 403.7,332.4" fill="#4d82cb" stroke="#4d82cb" stroke-width="0.3"/>
<polygon points="412.5,335.2 416.3,334.4 415.2,330.1 411.4,330.9" fill="#7eabe0" stroke="#7eabe0" stroke-width="0.3"/>
<polygon points="435.5,330.2 439.3,329.2 438.1,324.9 434.3,325.9" fill="#7eabe0" stroke="#7eabe0" stroke-width="0.3"/>
<polygon points="51.4,319.4 57.5,321.0 58.7,316.7 52.6,315.1" fill="#7eabe0" stroke="#7eabe0" stroke-width="0.3"/>
<polygon points="63.7,322.5 75.9,325.5 76.9,321.2 64.7,318.3" fill="#7eabe0" stroke="#7eabe0" stroke-width="0.3"/>
<polygon points="125.4,335.5 150.4,339.3 150.9,334.9 126.1,331.2" fill="#7eabe0" stroke="#7eabe0" stroke-width="0.3"/>
<polygon points="181.7,343.0 188.0,343.5 188.3,339.1 182.0,338.6" fill="#7eabe0" stroke="#7eabe0" stroke-width="0.3"/>
<polygon points="188.0,343.5 194.2,344.1 194.5,339.6 188.3,339.1" fill="#4d82cb" stroke="#4d82cb" stroke-width="0.3"/>
<polygon points="194.2,344.1 213.1,345.3 213.3,340.9 194.5,339.6" fill="#7eabe0" stroke="#7eabe0" stroke-width="0.3"/>
<polygon points="232.0,346.1 235.9,346.3 235.9,341.8 232.0,341.7" fill="#c8ddf1" stroke="#c8ddf1" stroke-width="0.3"/>
<polygon points="247.7,346.5 263.5,346.5 263.3,342.1 247.7,342.0" fill="#7eabe0" stroke="#7eabe0" stroke-width="0.3"/>
<polygon points="267.4,346.4 271.3,346.4 271.1,341.9 267.2,342.0" fill="#7eabe0" stroke="#7eabe0" stroke-width="0.3"/>
<polygon points="279.2,346.2 283.1,346.1 282.8,341.6 278.9,341.8" fill="#7eabe0" stroke="#7eabe0" stroke-width="0.3"/>
<polygon points="287.0,345.9 291.0,345.7 290.6,341.3 286.7,341.5" fill="#7eabe0" stroke="#7eabe0" stroke-width="0.3"/>
<polygon points="291.0,345.7 294.9,345.6 294.5,341.1 290.6,341.3" fill="#4d82cb" stroke="#4d82cb" stroke-width="0.3"/>
<polygon points="294.9,345.6 310.6,344.6 310.1,340.2 294.5,341.1" fill="#24519f" stroke="#24519f" stroke-width="0.3"/>
<polygon points="310.6,344.6 314.5,344.3 314.0,339.9 310.1,340.2" fill="#4d82cb" stroke="#4d82cb" stroke-width="0.3"/>
<polygon points="314.5,344.3 326.2,343.4 325.7,339.0 314.0,339.9" fill="#7eabe0" stroke="#7eabe0" stroke-width="0.3"/>
<polygon points="330.1,343.0 361.3,339.4 360.5,335.0 329.6,338.6" fill="#7eabe0" stroke="#7eabe0" stroke-width="0.3"/>
<polygon points="361.3,339.4 365.1,338.9 364.4,334.5 360.5,335.0" fill="#4d82cb" stroke="#4d82cb" stroke-width="0.3"/>
<polygon points="365.1,338.9 380.6,336.5 379.7,332.2 364.4,334.5" fill="#7eabe0" stroke="#7eabe0" stroke-width="0.3"/>
<polygon points="380.6,336.5 384.5,335.9 383.6,331.5 379.7,332.2" fill="#4d82cb" stroke="#4d82cb" stroke-width="0.3"/>
<polygon points="384.5,335.9 388.3,335.2 387.4,330.9 383.6,331.5" fill="#7eabe0" stroke="#7eabe0" stroke-width="0.3"/>
<polygon points="388.3,335.2 403.7,332.4 402.7,328.1 387.4,330.9" fill="#4d82cb" stroke="#4d82cb" stroke-width="0.3"/>
<polygon points="403.7,332.4 407.6,331.7 406.5,327.3 402.7,328.1" fill="#24519f" stroke="#24519f" stroke-width="0.3"/>
<polygon points="407.6,331.7 411.4,330.9 410.3,326.6 406.5,327.3" fill="#4d82cb" stroke="#4d82cb" stroke-width="0.3"/>
<polygon points="411.4,330.9 430.5,326.7 429.3,322.4 410.3,326.6" fill="#7eabe0" stroke="#7eabe0" stroke-width="0.3"/>
<polygon points="434.3,325.9 438.1,324.9 436.8,320.7 433.1,321.6" fill="#7eabe0" stroke="#7eabe0" stroke-width="0.3"/>
<polygon points="52.6,315.1 64.7,318.3 65.8,314.0 53.8,310.8" fill="#7eabe0" stroke="#7eabe0" stroke-width="0.3"/>
<polygon points="89.2,324.0 95.3,325.3 96.2,321.0 90.1,319.7" fill="#c8ddf1" stroke="#c8ddf1" stroke-width="0.3"/>
<polygon points="119.9,330.1 150.9,334.9 151.5,330.6 120.7,325.7" fill="#7eabe0" stroke="#7eabe0" stroke-width="0.3"/>
<polygon points="175.8,337.9 182.0,338.6 182.4,334.1 176.2,333.5" fill="#7eabe0" stroke="#7eabe0" stroke-width="0.3"/>
<polygon points="182.0,338.6 194.5,339.6 194.8,335.2 182.4,334.1" fill="#4d82cb" stroke="#4d82cb" stroke-width="0.3"/>
<polygon points="194.5,339.6 200.8,340.1 201.0,335.7 194.8,335.2" fill="#24519f" stroke="#24519f" stroke-width="0.3"/>
<polygon points="200.8,340.1 207.0,340.5 207.2,336.1 201.0,335.7" fill="#4d82cb" stroke="#4d82cb" stroke-width="0.3"/>
<polygon points="247.7,342.0 263.3,342.1 263.2,337.6 247.6,337.6" fill="#7eabe0" stroke="#7eabe0" stroke-width="0.3"/>
<polygon points="271.1,341.9 278.9,341.8 278.7,337.3 270.9,337.5" fill="#7eabe0" stroke="#7eabe0" stroke-width="0.3"/>
<polygon points="290.6,341.3 294.5,341.1 294.2,336.7 290.3,336.9" fill="#7eabe0" stroke="#7eabe0" stroke-width="0.3"/>
<polygon points="294.5,341.1 306.2,340.5 305.8,336.1 294.2,336.7" fill="#24519f" stroke="#24519f" stroke-width="0.3"/>
<polygon points="306.2,340.5 310.1,340.2 309.7,335.8 305.8,336.1" fill="#4d82cb" stroke="#4d82cb" stroke-width="0.3"/>
<polygon points="310.1,340.2 314.0,339.9 313.5,335.5 309.7,335.8" fill="#24519f" stroke="#24519f" stroke-width="0.3"/>
<polygon points="314.0,339.9 321.8,339.3 321.3,334.9 313.5,335.5" fill="#4d82cb" stroke="#4d82cb" stroke-width="0.3"/>
<polygon points="321.8,339.3 329.6,338.6 329.0,334.2 321.3,334.9" fill="#7eabe0" stroke="#7eabe0" stroke-width="0.3"/>
<polygon points="329.6,338.6 368.2,333.9 367.4,329.6 329.0,334.2" fill="#4d82cb" stroke="#4d82cb" stroke-width="0.3"/>
<polygon points="368.2,333.9 372.1,333.4 371.2,329.0 367.4,329.6" fill="#7eabe0" stroke="#7eabe0" stroke-width="0.3"/>
<polygon points="372.1,333.4 387.4,330.9 386.5,326.5 371.2,329.0" fill="#4d82cb" stroke="#4d82cb" stroke-width="0.3"/>
<polygon points="387.4,330.9 395.1,329.5 394.1,325.2 386.5,326.5" fill="#7eabe0" stroke="#7eabe0" stroke-width="0.3"/>
<polygon points="395.1,329.5 410.3,326.6 409.3,322.2 394.1,325.2" fill="#4d82cb" stroke="#4d82cb" stroke-width="0.3"/>
<polygon points="410.3,326.6 421.7,324.1 420.6,319.8 409.3,322.2" fill="#7eabe0" stroke="#7eabe0" stroke-width="0.3"/>
<polygon points="421.7,324.1 433.1,321.6 431.8,317.3 420.6,319.8" fill="#4d82cb" stroke="#4d82cb" stroke-width="0.3"/>
<polygon points="433.1,321.6 440.6,319.7 439.3,315.4 431.8,317.3" fill="#7eabe0" stroke="#7eabe0" stroke-width="0.3"/>
<polygon points="71.9,315.5 77.9,316.9 78.9,312.6 72.9,311.2" fill="#7eabe0" stroke="#7eabe0" stroke-width="0.3"/>
<polygon points="90.1,319.7 96.2,321.0 97.1,316.7 91.0,315.4" fill="#c8ddf1" stroke="#c8ddf1" stroke-width="0.3"/>
<polygon points="120.7,325.7 151.5,330.6 152.0,326.2 121.4,321.4" fill="#7eabe0" stroke="#7eabe0" stroke-width="0.3"/>
<polygon points="182.4,334.1 188.6,334.7 188.9,330.3 182.7,329.7" fill="#4d82cb" stroke="#4d82cb" stroke-width="0.3"/>
<polygon points="188.6,334.7 201.0,335.7 201.2,331.3 188.9,330.3" fill="#24519f" stroke="#24519f" stroke-width="0.3"/>
<polygon points="201.0,335.7 207.2,336.1 207.4,331.7 201.2,331.3" fill="#4d82cb" stroke="#4d82cb" stroke-width="0.3"/>
<polygon points="207.2,336.1 219.6,336.8 219.8,332.4 207.4,331.7" fill="#7eabe0" stroke="#7eabe0" stroke-width="0.3"/>
<polygon points="225.9,337.1 232.1,337.3 232.1,332.9 225.9,332.6" fill="#7eabe0" stroke="#7eabe0" stroke-width="0.3"/>
<polygon points="255.4,337.7 259.3,337.7 259.1,333.2 255.3,333.2" fill="#7eabe0" stroke="#7eabe0" stroke-width="0.3"/>
<polygon points="290.3,336.9 294.2,336.7 293.8,332.3 290.0,332.5" fill="#7eabe0" stroke="#7eabe0" stroke-width="0.3"/>
<polygon points="294.2,336.7 301.9,336.3 301.5,331.9 293.8,332.3" fill="#4d82cb" stroke="#4d82cb" stroke-width="0.3"/>
<polygon points="301.9,336.3 305.8,336.1 305.4,331.6 301.5,331.9" fill="#24519f" stroke="#24519f" stroke-width="0.3"/>
<polygon points="305.8,336.1 309.7,335.8 309.2,331.4 305.4,331.6" fill="#4d82cb" stroke="#4d82cb" stroke-width="0.3"/>
<polygon points="309.7,335.8 313.5,335.5 313.1,331.1 309.2,331.4" fill="#24519f" stroke="#24519f" stroke-width="0.3"/>
<polygon points="313.5,335.5 321.3,334.9 320.7,330.5 313.1,331.1" fill="#4d82cb" stroke="#4d82cb" stroke-width="0.3"/>
<polygon points="321.3,334.9 325.1,334.6 324.6,330.2 320.7,330.5" fill="#7eabe0" stroke="#7eabe0" stroke-width="0.3"/>
<polygon points="325.1,334.6 352.1,331.7 351.4,327.3 324.6,330.2" fill="#4d82cb" stroke="#4d82cb" stroke-width="0.3"/>
<polygon points="352.1,331.7 359.7,330.6 359.0,326.3 351.4,327.3" fill="#24519f" stroke="#24519f" stroke-width="0.3"/>
<polygon points="359.7,330.6 367.4,329.6 366.6,325.2 359.0,326.3" fill="#4d82cb" stroke="#4d82cb" stroke-width="0.3"/>
<polygon points="367.4,329.6 371.2,329.0 370.4,324.6 366.6,325.2" fill="#7eabe0" stroke="#7eabe0" stroke-width="0.3"/>
<polygon points="371.2,329.0 394.1,325.2 393.1,320.8 370.4,324.6" fill="#4d82cb" stroke="#4d82cb" stroke-width="0.3"/>
<polygon points="394.1,325.2 416.8,320.6 415.7,316.3 393.1,320.8" fill="#7eabe0" stroke="#7eabe0" stroke-width="0.3"/>
<polygon points="416.8,320.6 420.6,319.8 419.4,315.5 415.7,316.3" fill="#4d82cb" stroke="#4d82cb" stroke-width="0.3"/>
<polygon points="420.6,319.8 428.1,318.1 426.9,313.8 419.4,315.5" fill="#24519f" stroke="#24519f" stroke-width="0.3"/>
<polygon points="428.1,318.1 435.6,316.4 434.4,312.1 426.9,313.8" fill="#4d82cb" stroke="#4d82cb" stroke-width="0.3"/>
<polygon points="435.6,316.4 439.3,315.4 438.1,311.2 434.4,312.1" fill="#7eabe0" stroke="#7eabe0" stroke-width="0.3"/>
<polygon points="443.1,314.5 446.8,313.6 445.5,309.3 441.8,310.2" fill="#7eabe0" stroke="#7eabe0" stroke-width="0.3"/>
<polygon points="48.9,304.9 72.9,311.2 74.0,306.9 50.1,300.7" fill="#7eabe0" stroke="#7eabe0" stroke-width="0.3"/>
<polygon points="91.0,315.4 97.1,316.7 98.0,312.4 92.0,311.1" fill="#c8ddf1" stroke="#c8ddf1" stroke-width="0.3"/>
<polygon points="121.4,321.4 133.6,323.5 134.3,319.1 122.1,317.0" fill="#7eabe0" stroke="#7eabe0" stroke-width="0.3"/>
<polygon points="133.6,323.5 145.9,325.3 146.4,320.9 134.3,319.1" fill="#4d82cb" stroke="#4d82cb" stroke-width="0.3"/>
<polygon points="145.9,325.3 164.3,327.8 164.7,323.4 146.4,320.9" fill="#7eabe0" stroke="#7eabe0" stroke-width="0.3"/>
<polygon points="182.7,329.7 188.9,330.3 189.2,325.9 183.1,325.3" fill="#7eabe0" stroke="#7eabe0" stroke-width="0.3"/>
<polygon points="188.9,330.3 201.2,331.3 201.5,326.9 189.2,325.9" fill="#24519f" stroke="#24519f" stroke-width="0.3"/>
<polygon points="201.2,331.3 207.4,331.7 207.6,327.3 201.5,326.9" fill="#4d82cb" stroke="#4d82cb" stroke-width="0.3"/>
<polygon points="207.4,331.7 213.6,332.1 213.7,327.6 207.6,327.3" fill="#7eabe0" stroke="#7eabe0" stroke-width="0.3"/>
<polygon points="225.9,332.6 232.1,332.9 232.2,328.4 226.0,328.2" fill="#7eabe0" stroke="#7eabe0" stroke-width="0.3"/>
<polygon points="236.0,333.0 247.6,333.2 247.5,328.8 236.0,328.6" fill="#7eabe0" stroke="#7eabe0" stroke-width="0.3"/>
<polygon points="293.8,332.3 301.5,331.9 301.1,327.5 293.5,327.9" fill="#7eabe0" stroke="#7eabe0" stroke-width="0.3"/>
<polygon points="301.5,331.9 305.4,331.6 305.0,327.2 301.1,327.5" fill="#24519f" stroke="#24519f" stroke-width="0.3"/>
<polygon points="305.4,331.6 309.2,331.4 308.8,327.0 305.0,327.2" fill="#4d82cb" stroke="#4d82cb" stroke-width="0.3"/>
<polygon points="309.2,331.4 316.9,330.8 316.4,326.4 308.8,327.0" fill="#24519f" stroke="#24519f" stroke-width="0.3"/>
<polygon points="316.9,330.8 336.1,329.0 335.5,324.6 316.4,326.4" fill="#4d82cb" stroke="#4d82cb" stroke-width="0.3"/>
<polygon points="336.1,329.0 339.9,328.6 339.3,324.2 335.5,324.6" fill="#24519f" stroke="#24519f" stroke-width="0.3"/>
<polygon points="339.9,328.6 351.4,327.3 350.7,322.9 339.3,324.2" fill="#4d82cb" stroke="#4d82cb" stroke-width="0.3"/>
<polygon points="351.4,327.3 355.2,326.8 354.4,322.4 350.7,322.9" fill="#24519f" stroke="#24519f" stroke-width="0.3"/>
<polygon points="355.2,326.8 362.8,325.7 362.0,321.4 354.4,322.4" fill="#4d82cb" stroke="#4d82cb" stroke-width="0.3"/>
<polygon points="362.8,325.7 366.6,325.2 365.8,320.8 362.0,321.4" fill="#7eabe0" stroke="#7eabe0" stroke-width="0.3"/>
<polygon points="366.6,325.2 370.4,324.6 369.6,320.3 365.8,320.8" fill="#4d82cb" stroke="#4d82cb" stroke-width="0.3"/>
<polygon points="370.4,324.6 374.2,324.0 373.3,319.7 369.6,320.3" fill="#7eabe0" stroke="#7eabe0" stroke-width="0.3"/>
<polygon points="374.2,324.0 389.3,321.5 388.4,317.1 373.3,319.7" fill="#4d82cb" stroke="#4d82cb" stroke-width="0.3"/>
<polygon points="389.3,321.5 396.9,320.1 395.9,315.8 388.4,317.1" fill="#7eabe0" stroke="#7eabe0" stroke-width="0.3"/>
<polygon points="400.7,319.4 404.4,318.7 403.4,314.3 399.6,315.1" fill="#7eabe0" stroke="#7eabe0" stroke-width="0.3"/>
<polygon points="411.9,317.1 415.7,316.3 414.6,312.0 410.8,312.8" fill="#7eabe0" stroke="#7eabe0" stroke-width="0.3"/>
<polygon points="415.7,316.3 419.4,315.5 418.3,311.2 414.6,312.0" fill="#4d82cb" stroke="#4d82cb" stroke-width="0.3"/>
<polygon points="419.4,315.5 430.6,313.0 429.4,308.7 418.3,311.2" fill="#24519f" stroke="#24519f" stroke-width="0.3"/>
<polygon points="430.6,313.0 434.4,312.1 433.1,307.8 429.4,308.7" fill="#4d82cb" stroke="#4d82cb" stroke-width="0.3"/>
<polygon points="434.4,312.1 445.5,309.3 444.2,305.0 433.1,307.8" fill="#7eabe0" stroke="#7eabe0" stroke-width="0.3"/>
<polygon points="449.2,308.3 452.9,307.3 451.5,303.1 447.9,304.1" fill="#7eabe0" stroke="#7eabe0" stroke-width="0.3"/>
<polygon points="50.1,300.7 62.0,303.9 63.1,299.6 51.3,296.5" fill="#7eabe0" stroke="#7eabe0" stroke-width="0.3"/>
<polygon points="62.0,303.9 68.0,305.4 69.1,301.2 63.1,299.6" fill="#4d82cb" stroke="#4d82cb" stroke-width="0.3"/>
<polygon points="68.0,305.4 79.9,308.4 81.0,304.1 69.1,301.2" fill="#7eabe0" stroke="#7eabe0" stroke-width="0.3"/>
<polygon points="92.0,311.1 98.0,312.4 98.9,308.0 92.9,306.8" fill="#c8ddf1" stroke="#c8ddf1" stroke-width="0.3"/>
<polygon points="128.2,318.1 134.3,319.1 134.9,314.7 128.9,313.7" fill="#7eabe0" stroke="#7eabe0" stroke-width="0.3"/>
<polygon points="134.3,319.1 140.4,320.0 141.0,315.7 134.9,314.7" fill="#4d82cb" stroke="#4d82cb" stroke-width="0.3"/>
<polygon points="140.4,320.0 158.6,322.6 159.1,318.2 141.0,315.7" fill="#7eabe0" stroke="#7eabe0" stroke-width="0.3"/>
<polygon points="170.9,324.1 189.2,325.9 189.5,321.5 171.3,319.7" fill="#7eabe0" stroke="#7eabe0" stroke-width="0.3"/>
<polygon points="189.2,325.9 207.6,327.3 207.8,322.9 189.5,321.5" fill="#4d82cb" stroke="#4d82cb" stroke-width="0.3"/>
<polygon points="219.9,328.0 226.0,328.2 226.1,323.8 220.0,323.5" fill="#7eabe0" stroke="#7eabe0" stroke-width="0.3"/>
<polygon points="293.5,327.9 297.3,327.7 296.9,323.3 293.1,323.5" fill="#7eabe0" stroke="#7eabe0" stroke-width="0.3"/>
<polygon points="297.3,327.7 305.0,327.2 304.5,322.8 296.9,323.3" fill="#4d82cb" stroke="#4d82cb" stroke-width="0.3"/>
<polygon points="305.0,327.2 312.6,326.7 312.1,322.3 304.5,322.8" fill="#24519f" stroke="#24519f" stroke-width="0.3"/>
<polygon points="312.6,326.7 324.0,325.7 323.5,321.3 312.1,322.3" fill="#4d82cb" stroke="#4d82cb" stroke-width="0.3"/>
<polygon points="324.0,325.7 327.9,325.4 327.3,321.0 323.5,321.3" fill="#7eabe0" stroke="#7eabe0" stroke-width="0.3"/>
<polygon points="327.9,325.4 362.0,321.4 361.2,317.0 327.3,321.0" fill="#4d82cb" stroke="#4d82cb" stroke-width="0.3"/>
<polygon points="362.0,321.4 373.3,319.7 372.5,315.3 361.2,317.0" fill="#7eabe0" stroke="#7eabe0" stroke-width="0.3"/>
<polygon points="373.3,319.7 377.1,319.1 376.2,314.7 372.5,315.3" fill="#4d82cb" stroke="#4d82cb" stroke-width="0.3"/>
<polygon points="377.1,319.1 380.9,318.4 380.0,314.1 376.2,314.7" fill="#7eabe0" stroke="#7eabe0" stroke-width="0.3"/>
<polygon points="380.9,318.4 384.6,317.8 383.7,313.5 380.0,314.1" fill="#4d82cb" stroke="#4d82cb" stroke-width="0.3"/>
<polygon points="384.6,317.8 399.6,315.1 398.6,310.7 383.7,313.5" fill="#7eabe0" stroke="#7eabe0" stroke-width="0.3"/>
<polygon points="410.8,312.8 418.3,311.2 417.1,306.9 409.7,308.5" fill="#7eabe0" stroke="#7eabe0" stroke-width="0.3"/>
<polygon points="418.3,311.2 422.0,310.4 420.8,306.1 417.1,306.9" fill="#4d82cb" stroke="#4d82cb" stroke-width="0.3"/>
<polygon points="422.0,310.4 433.1,307.8 431.9,303.5 420.8,306.1" fill="#24519f" stroke="#24519f" stroke-width="0.3"/>
<polygon points="433.1,307.8 440.5,306.0 439.2,301.7 431.9,303.5" fill="#4d82cb" stroke="#4d82cb" stroke-width="0.3"/>
<polygon points="440.5,306.0 447.9,304.1 446.5,299.8 439.2,301.7" fill="#7eabe0" stroke="#7eabe0" stroke-width="0.3"/>
<polygon points="455.2,302.1 458.9,301.1 457.5,296.8 453.8,297.8" fill="#7eabe0" stroke="#7eabe0" stroke-width="0.3"/>
<polygon points="45.4,294.8 75.0,302.6 76.1,298.3 46.7,290.6" fill="#7eabe0" stroke="#7eabe0" stroke-width="0.3"/>
<polygon points="98.9,308.0 104.9,309.3 105.7,305.0 99.8,303.7" fill="#c8ddf1" stroke="#c8ddf1" stroke-width="0.3"/>
<polygon points="116.9,311.6 201.7,322.5 201.9,318.1 117.6,307.3" fill="#7eabe0" stroke="#7eabe0" stroke-width="0.3"/>
<polygon points="236.0,324.1 251.3,324.4 251.2,320.0 236.0,319.7" fill="#7eabe0" stroke="#7eabe0" stroke-width="0.3"/>
<polygon points="293.1,323.5 296.9,323.3 296.6,318.9 292.8,319.0" fill="#7eabe0" stroke="#7eabe0" stroke-width="0.3"/>
<polygon points="296.9,323.3 304.5,322.8 304.1,318.4 296.6,318.9" fill="#4d82cb" stroke="#4d82cb" stroke-width="0.3"/>
<polygon points="304.5,322.8 315.9,322.0 315.4,317.6 304.1,318.4" fill="#24519f" stroke="#24519f" stroke-width="0.3"/>
<polygon points="315.9,322.0 331.1,320.6 330.5,316.2 315.4,317.6" fill="#4d82cb" stroke="#4d82cb" stroke-width="0.3"/>
<polygon points="331.1,320.6 334.8,320.2 334.2,315.8 330.5,316.2" fill="#7eabe0" stroke="#7eabe0" stroke-width="0.3"/>
<polygon points="334.8,320.2 338.6,319.8 338.0,315.4 334.2,315.8" fill="#4d82cb" stroke="#4d82cb" stroke-width="0.3"/>
<polygon points="338.6,319.8 346.2,319.0 345.5,314.6 338.0,315.4" fill="#7eabe0" stroke="#7eabe0" stroke-width="0.3"/>
<polygon points="346.2,319.0 349.9,318.5 349.2,314.1 345.5,314.6" fill="#4d82cb" stroke="#4d82cb" stroke-width="0.3"/>
<polygon points="349.9,318.5 361.2,317.0 360.4,312.6 349.2,314.1" fill="#7eabe0" stroke="#7eabe0" stroke-width="0.3"/>
<polygon points="368.7,315.9 387.4,312.8 386.5,308.5 367.9,311.5" fill="#7eabe0" stroke="#7eabe0" stroke-width="0.3"/>
<polygon points="391.2,312.1 394.9,311.4 393.9,307.1 390.2,307.8" fill="#7eabe0" stroke="#7eabe0" stroke-width="0.3"/>
<polygon points="402.3,310.0 417.1,306.9 416.0,302.6 401.3,305.7" fill="#7eabe0" stroke="#7eabe0" stroke-width="0.3"/>
<polygon points="417.1,306.9 420.8,306.1 419.7,301.8 416.0,302.6" fill="#4d82cb" stroke="#4d82cb" stroke-width="0.3"/>
<polygon points="420.8,306.1 439.2,301.7 437.9,297.4 419.7,301.8" fill="#24519f" stroke="#24519f" stroke-width="0.3"/>
<polygon points="439.2,301.7 442.9,300.7 441.6,296.5 437.9,297.4" fill="#4d82cb" stroke="#4d82cb" stroke-width="0.3"/>
<polygon points="442.9,300.7 450.2,298.8 448.8,294.6 441.6,296.5" fill="#7eabe0" stroke="#7eabe0" stroke-width="0.3"/>
<polygon points="58.4,293.8 82.0,299.8 83.0,295.5 59.5,289.6" fill="#7eabe0" stroke="#7eabe0" stroke-width="0.3"/>
<polygon points="129.6,309.4 165.7,314.6 166.2,310.2 130.3,305.0" fill="#7eabe0" stroke="#7eabe0" stroke-width="0.3"/>
<polygon points="171.7,315.3 189.8,317.1 190.2,312.7 172.1,310.9" fill="#7eabe0" stroke="#7eabe0" stroke-width="0.3"/>
<polygon points="195.9,317.6 201.9,318.1 202.2,313.6 196.2,313.2" fill="#7eabe0" stroke="#7eabe0" stroke-width="0.3"/>
<polygon points="220.1,319.1 236.0,319.7 236.0,315.3 220.2,314.7" fill="#7eabe0" stroke="#7eabe0" stroke-width="0.3"/>
<polygon points="296.6,318.9 311.7,317.9 311.2,313.5 296.2,314.4" fill="#4d82cb" stroke="#4d82cb" stroke-width="0.3"/>
<polygon points="311.7,317.9 315.4,317.6 314.9,313.2 311.2,313.5" fill="#24519f" stroke="#24519f" stroke-width="0.3"/>
<polygon points="315.4,317.6 323.0,316.9 322.4,312.5 314.9,313.2" fill="#4d82cb" stroke="#4d82cb" stroke-width="0.3"/>
<polygon points="323.0,316.9 345.5,314.6 344.8,310.2 322.4,312.5" fill="#7eabe0" stroke="#7eabe0" stroke-width="0.3"/>
<polygon points="345.5,314.6 349.2,314.1 348.5,309.7 344.8,310.2" fill="#4d82cb" stroke="#4d82cb" stroke-width="0.3"/>
<polygon points="349.2,314.1 353.0,313.6 352.2,309.2 348.5,309.7" fill="#7eabe0" stroke="#7eabe0" stroke-width="0.3"/>
<polygon points="390.2,307.8 405.0,304.9 403.9,300.6 389.2,303.4" fill="#7eabe0" stroke="#7eabe0" stroke-width="0.3"/>
<polygon points="405.0,304.9 416.0,302.6 414.9,298.3 403.9,300.6" fill="#4d82cb" stroke="#4d82cb" stroke-width="0.3"/>
<polygon points="416.0,302.6 437.9,297.4 436.7,293.1 414.9,298.3" fill="#24519f" stroke="#24519f" stroke-width="0.3"/>
<polygon points="437.9,297.4 445.2,295.5 443.9,291.3 436.7,293.1" fill="#4d82cb" stroke="#4d82cb" stroke-width="0.3"/>
<polygon points="445.2,295.5 448.8,294.6 447.5,290.3 443.9,291.3" fill="#7eabe0" stroke="#7eabe0" stroke-width="0.3"/>
<polygon points="42.1,284.6 77.1,294.1 78.1,289.8 43.4,280.4" fill="#7eabe0" stroke="#7eabe0" stroke-width="0.3"/>
<polygon points="124.4,304.0 136.3,306.0 136.9,301.7 125.1,299.7" fill="#7eabe0" stroke="#7eabe0" stroke-width="0.3"/>
<polygon points="142.2,307.0 196.2,313.2 196.4,308.8 142.9,302.6" fill="#7eabe0" stroke="#7eabe0" stroke-width="0.3"/>
<polygon points="202.2,313.6 208.2,314.1 208.4,309.6 202.4,309.2" fill="#7eabe0" stroke="#7eabe0" stroke-width="0.3"/>
<polygon points="214.2,314.4 232.3,315.2 232.3,310.8 214.4,310.0" fill="#7eabe0" stroke="#7eabe0" stroke-width="0.3"/>
<polygon points="243.6,315.5 247.3,315.5 247.3,311.1 243.5,311.0" fill="#7eabe0" stroke="#7eabe0" stroke-width="0.3"/>
<polygon points="296.2,314.4 303.7,314.0 303.3,309.6 295.8,310.0" fill="#7eabe0" stroke="#7eabe0" stroke-width="0.3"/>
<polygon points="303.7,314.0 307.4,313.7 307.0,309.3 303.3,309.6" fill="#4d82cb" stroke="#4d82cb" stroke-width="0.3"/>
<polygon points="307.4,313.7 311.2,313.5 310.7,309.1 307.0,309.3" fill="#24519f" stroke="#24519f" stroke-width="0.3"/>
<polygon points="311.2,313.5 322.4,312.5 321.9,308.1 310.7,309.1" fill="#4d82cb" stroke="#4d82cb" stroke-width="0.3"/>
<polygon points="322.4,312.5 344.8,310.2 344.1,305.8 321.9,308.1" fill="#7eabe0" stroke="#7eabe0" stroke-width="0.3"/>
<polygon points="344.8,310.2 348.5,309.7 347.8,305.3 344.1,305.8" fill="#4d82cb" stroke="#4d82cb" stroke-width="0.3"/>
<polygon points="348.5,309.7 363.4,307.7 362.6,303.3 347.8,305.3" fill="#7eabe0" stroke="#7eabe0" stroke-width="0.3"/>
<polygon points="396.6,302.1 403.9,300.6 402.8,296.3 395.5,297.7" fill="#7eabe0" stroke="#7eabe0" stroke-width="0.3"/>
<polygon points="403.9,300.6 411.2,299.1 410.1,294.8 402.8,296.3" fill="#4d82cb" stroke="#4d82cb" stroke-width="0.3"/>
<polygon points="411.2,299.1 436.7,293.1 435.4,288.9 410.1,294.8" fill="#24519f" stroke="#24519f" stroke-width="0.3"/>
<polygon points="436.7,293.1 443.9,291.3 442.6,287.0 435.4,288.9" fill="#4d82cb" stroke="#4d82cb" stroke-width="0.3"/>
<polygon points="443.9,291.3 451.1,289.3 449.7,285.1 442.6,287.0" fill="#7eabe0" stroke="#7eabe0" stroke-width="0.3"/>
<polygon points="49.1,282.1 72.3,288.3 73.4,284.1 50.4,277.9" fill="#7eabe0" stroke="#7eabe0" stroke-width="0.3"/>
<polygon points="78.1,289.8 84.0,291.2 85.0,286.9 79.2,285.5" fill="#7eabe0" stroke="#7eabe0" stroke-width="0.3"/>
<polygon points="107.4,296.3 113.3,297.5 114.1,293.2 108.3,292.0" fill="#c8ddf1" stroke="#c8ddf1" stroke-width="0.3"/>
<polygon points="142.9,302.6 148.8,303.5 149.4,299.1 143.5,298.2" fill="#7eabe0" stroke="#7eabe0" stroke-width="0.3"/>
<polygon points="148.8,303.5 154.7,304.3 155.3,299.9 149.4,299.1" fill="#4d82cb" stroke="#4d82cb" stroke-width="0.3"/>
<polygon points="154.7,304.3 190.5,308.3 190.8,303.9 155.3,299.9" fill="#7eabe0" stroke="#7eabe0" stroke-width="0.3"/>
<polygon points="202.4,309.2 208.4,309.6 208.6,305.2 202.6,304.8" fill="#7eabe0" stroke="#7eabe0" stroke-width="0.3"/>
<polygon points="214.4,310.0 220.3,310.3 220.5,305.9 214.5,305.6" fill="#7eabe0" stroke="#7eabe0" stroke-width="0.3"/>
<polygon points="232.3,310.8 236.1,310.9 236.1,306.5 232.4,306.4" fill="#7eabe0" stroke="#7eabe0" stroke-width="0.3"/>
<polygon points="295.8,310.0 307.0,309.3 306.6,304.9 295.5,305.6" fill="#7eabe0" stroke="#7eabe0" stroke-width="0.3"/>
<polygon points="307.0,309.3 321.9,308.1 321.3,303.8 306.6,304.9" fill="#4d82cb" stroke="#4d82cb" stroke-width="0.3"/>
<polygon points="321.9,308.1 333.0,307.1 332.4,302.7 321.3,303.8" fill="#7eabe0" stroke="#7eabe0" stroke-width="0.3"/>
<polygon points="333.0,307.1 351.5,304.9 350.8,300.5 332.4,302.7" fill="#4d82cb" stroke="#4d82cb" stroke-width="0.3"/>
<polygon points="351.5,304.9 355.2,304.4 354.4,300.0 350.8,300.5" fill="#7eabe0" stroke="#7eabe0" stroke-width="0.3"/>
<polygon points="362.6,303.3 366.2,302.8 365.4,298.4 361.8,299.0" fill="#7eabe0" stroke="#7eabe0" stroke-width="0.3"/>
<polygon points="399.2,297.0 410.1,294.8 409.0,290.5 398.1,292.7" fill="#4d82cb" stroke="#4d82cb" stroke-width="0.3"/>
<polygon points="410.1,294.8 435.4,288.9 434.1,284.6 409.0,290.5" fill="#24519f" stroke="#24519f" stroke-width="0.3"/>
<polygon points="435.4,288.9 449.7,285.1 448.3,280.8 434.1,284.6" fill="#4d82cb" stroke="#4d82cb" stroke-width="0.3"/>
<polygon points="449.7,285.1 460.4,282.1 459.0,277.8 448.3,280.8" fill="#7eabe0" stroke="#7eabe0" stroke-width="0.3"/>
<polygon points="44.6,276.2 56.1,279.5 57.3,275.3 45.9,272.0" fill="#7eabe0" stroke="#7eabe0" stroke-width="0.3"/>
<polygon points="56.1,279.5 61.9,281.1 63.0,276.8 57.3,275.3" fill="#4d82cb" stroke="#4d82cb" stroke-width="0.3"/>
<polygon points="61.9,281.1 73.4,284.1 74.5,279.8 63.0,276.8" fill="#7eabe0" stroke="#7eabe0" stroke-width="0.3"/>
<polygon points="131.7,296.3 137.6,297.3 138.2,293.0 132.4,292.0" fill="#7eabe0" stroke="#7eabe0" stroke-width="0.3"/>
<polygon points="143.5,298.2 149.4,299.1 150.0,294.7 144.1,293.9" fill="#7eabe0" stroke="#7eabe0" stroke-width="0.3"/>
<polygon points="149.4,299.1 161.2,300.7 161.7,296.3 150.0,294.7" fill="#4d82cb" stroke="#4d82cb" stroke-width="0.3"/>
<polygon points="161.2,300.7 190.8,303.9 191.1,299.5 161.7,296.3" fill="#7eabe0" stroke="#7eabe0" stroke-width="0.3"/>
<polygon points="196.7,304.4 208.6,305.2 208.8,300.8 197.0,300.0" fill="#7eabe0" stroke="#7eabe0" stroke-width="0.3"/>
<polygon points="214.5,305.6 220.5,305.9 220.6,301.5 214.7,301.2" fill="#7eabe0" stroke="#7eabe0" stroke-width="0.3"/>
<polygon points="273.2,306.5 276.9,306.4 276.7,302.0 273.0,302.1" fill="#7eabe0" stroke="#7eabe0" stroke-width="0.3"/>
<polygon points="288.0,306.0 291.7,305.8 291.4,301.4 287.7,301.6" fill="#7eabe0" stroke="#7eabe0" stroke-width="0.3"/>
<polygon points="299.2,305.4 306.6,304.9 306.1,300.5 298.8,301.0" fill="#7eabe0" stroke="#7eabe0" stroke-width="0.3"/>
<polygon points="306.6,304.9 317.6,304.1 317.1,299.7 306.1,300.5" fill="#4d82cb" stroke="#4d82cb" stroke-width="0.3"/>
<polygon points="317.6,304.1 332.4,302.7 331.8,298.3 317.1,299.7" fill="#7eabe0" stroke="#7eabe0" stroke-width="0.3"/>
<polygon points="332.4,302.7 339.7,301.9 339.1,297.5 331.8,298.3" fill="#4d82cb" stroke="#4d82cb" stroke-width="0.3"/>
<polygon points="339.7,301.9 347.1,301.0 346.4,296.6 339.1,297.5" fill="#24519f" stroke="#24519f" stroke-width="0.3"/>
<polygon points="347.1,301.0 354.4,300.0 353.7,295.6 346.4,296.6" fill="#4d82cb" stroke="#4d82cb" stroke-width="0.3"/>
<polygon points="354.4,300.0 358.1,299.5 357.3,295.1 353.7,295.6" fill="#7eabe0" stroke="#7eabe0" stroke-width="0.3"/>
<polygon points="361.8,299.0 365.4,298.4 364.6,294.1 360.9,294.6" fill="#7eabe0" stroke="#7eabe0" stroke-width="0.3"/>
<polygon points="394.5,293.4 401.8,292.0 400.7,287.7 393.5,289.1" fill="#7eabe0" stroke="#7eabe0" stroke-width="0.3"/>
<polygon points="401.8,292.0 405.4,291.2 404.3,286.9 400.7,287.7" fill="#4d82cb" stroke="#4d82cb" stroke-width="0.3"/>
<polygon points="405.4,291.2 444.8,281.8 443.4,277.6 404.3,286.9" fill="#24519f" stroke="#24519f" stroke-width="0.3"/>
<polygon points="444.8,281.8 448.3,280.8 447.0,276.6 443.4,277.6" fill="#4d82cb" stroke="#4d82cb" stroke-width="0.3"/>
<polygon points="448.3,280.8 455.4,278.9 454.0,274.6 447.0,276.6" fill="#7eabe0" stroke="#7eabe0" stroke-width="0.3"/>
<polygon points="45.9,272.0 74.5,279.8 75.6,275.6 47.2,267.8" fill="#4d82cb" stroke="#4d82cb" stroke-width="0.3"/>
<polygon points="103.3,286.5 109.1,287.7 110.0,283.4 104.2,282.2" fill="#c8ddf1" stroke="#c8ddf1" stroke-width="0.3"/>
<polygon points="132.4,292.0 138.2,293.0 138.9,288.6 133.1,287.7" fill="#7eabe0" stroke="#7eabe0" stroke-width="0.3"/>
<polygon points="144.1,293.9 150.0,294.7 150.5,290.4 144.7,289.5" fill="#7eabe0" stroke="#7eabe0" stroke-width="0.3"/>
<polygon points="150.0,294.7 161.7,296.3 162.2,292.0 150.5,290.4" fill="#4d82cb" stroke="#4d82cb" stroke-width="0.3"/>
<polygon points="161.7,296.3 191.1,299.5 191.4,295.1 162.2,292.0" fill="#7eabe0" stroke="#7eabe0" stroke-width="0.3"/>
<polygon points="202.9,300.4 214.7,301.2 214.8,296.8 203.1,296.1" fill="#7eabe0" stroke="#7eabe0" stroke-width="0.3"/>
<polygon points="236.1,302.1 239.8,302.1 239.8,297.7 236.1,297.7" fill="#c8ddf1" stroke="#c8ddf1" stroke-width="0.3"/>
<polygon points="265.6,302.2 269.3,302.2 269.1,297.8 265.4,297.8" fill="#7eabe0" stroke="#7eabe0" stroke-width="0.3"/>
<polygon points="273.0,302.1 302.4,300.8 302.0,296.4 272.8,297.7" fill="#7eabe0" stroke="#7eabe0" stroke-width="0.3"/>
<polygon points="302.4,300.8 313.5,300.0 313.0,295.6 302.0,296.4" fill="#4d82cb" stroke="#4d82cb" stroke-width="0.3"/>
<polygon points="313.5,300.0 317.1,299.7 316.6,295.3 313.0,295.6" fill="#24519f" stroke="#24519f" stroke-width="0.3"/>
<polygon points="317.1,299.7 320.8,299.4 320.2,295.0 316.6,295.3" fill="#4d82cb" stroke="#4d82cb" stroke-width="0.3"/>
<polygon points="320.8,299.4 331.8,298.3 331.2,293.9 320.2,295.0" fill="#7eabe0" stroke="#7eabe0" stroke-width="0.3"/>
<polygon points="331.8,298.3 346.4,296.6 345.7,292.2 331.2,293.9" fill="#4d82cb" stroke="#4d82cb" stroke-width="0.3"/>
<polygon points="346.4,296.6 357.3,295.1 356.5,290.8 345.7,292.2" fill="#7eabe0" stroke="#7eabe0" stroke-width="0.3"/>
<polygon points="389.9,289.8 393.5,289.1 392.5,284.8 388.9,285.4" fill="#7eabe0" stroke="#7eabe0" stroke-width="0.3"/>
<polygon points="397.1,288.4 400.7,287.7 399.6,283.3 396.1,284.1" fill="#7eabe0" stroke="#7eabe0" stroke-width="0.3"/>
<polygon points="400.7,287.7 415.0,284.6 413.9,280.3 399.6,283.3" fill="#4d82cb" stroke="#4d82cb" stroke-width="0.3"/>
<polygon points="415.0,284.6 436.4,279.4 435.1,275.2 413.9,280.3" fill="#24519f" stroke="#24519f" stroke-width="0.3"/>
<polygon points="436.4,279.4 443.4,277.6 442.1,273.3 435.1,275.2" fill="#4d82cb" stroke="#4d82cb" stroke-width="0.3"/>
<polygon points="443.4,277.6 454.0,274.6 452.6,270.4 442.1,273.3" fill="#7eabe0" stroke="#7eabe0" stroke-width="0.3"/>
<polygon points="464.5,271.5 468.0,270.5 466.5,266.3 463.0,267.3" fill="#c8ddf1" stroke="#c8ddf1" stroke-width="0.3"/>
<polygon points="471.5,269.4 475.0,268.3 473.4,264.1 470.0,265.2" fill="#c8ddf1" stroke="#c8ddf1" stroke-width="0.3"/>
<polygon points="47.2,267.8 52.8,269.4 54.1,265.2 48.4,263.6" fill="#4d82cb" stroke="#4d82cb" stroke-width="0.3"/>
<polygon points="52.8,269.4 64.2,272.6 65.3,268.4 54.1,265.2" fill="#24519f" stroke="#24519f" stroke-width="0.3"/>
<polygon points="64.2,272.6 75.6,275.6 76.6,271.3 65.3,268.4" fill="#4d82cb" stroke="#4d82cb" stroke-width="0.3"/>
<polygon points="75.6,275.6 87.0,278.4 88.0,274.1 76.6,271.3" fill="#7eabe0" stroke="#7eabe0" stroke-width="0.3"/>
<polygon points="104.2,282.2 110.0,283.4 110.8,279.1 105.1,277.9" fill="#c8ddf1" stroke="#c8ddf1" stroke-width="0.3"/>
<polygon points="150.5,290.4 168.0,292.7 168.5,288.3 151.1,286.0" fill="#7eabe0" stroke="#7eabe0" stroke-width="0.3"/>
<polygon points="173.9,293.4 179.7,294.0 180.1,289.6 174.3,289.0" fill="#7eabe0" stroke="#7eabe0" stroke-width="0.3"/>
<polygon points="185.5,294.6 191.4,295.1 191.7,290.7 185.9,290.2" fill="#7eabe0" stroke="#7eabe0" stroke-width="0.3"/>
<polygon points="203.1,296.1 220.7,297.1 220.8,292.7 203.3,291.7" fill="#7eabe0" stroke="#7eabe0" stroke-width="0.3"/>
<polygon points="261.8,297.9 276.4,297.6 276.2,293.2 261.6,293.5" fill="#7eabe0" stroke="#7eabe0" stroke-width="0.3"/>
<polygon points="276.4,297.6 283.7,297.3 283.4,292.9 276.2,293.2" fill="#4d82cb" stroke="#4d82cb" stroke-width="0.3"/>
<polygon points="283.7,297.3 302.0,296.4 301.6,292.0 283.4,292.9" fill="#7eabe0" stroke="#7eabe0" stroke-width="0.3"/>
<polygon points="302.0,296.4 309.3,295.9 308.8,291.5 301.6,292.0" fill="#4d82cb" stroke="#4d82cb" stroke-width="0.3"/>
<polygon points="309.3,295.9 313.0,295.6 312.5,291.2 308.8,291.5" fill="#24519f" stroke="#24519f" stroke-width="0.3"/>
<polygon points="313.0,295.6 323.9,294.6 323.3,290.3 312.5,291.2" fill="#4d82cb" stroke="#4d82cb" stroke-width="0.3"/>
<polygon points="323.9,294.6 352.9,291.3 352.2,286.9 323.3,290.3" fill="#7eabe0" stroke="#7eabe0" stroke-width="0.3"/>
<polygon points="356.5,290.8 360.1,290.3 359.3,285.9 355.8,286.4" fill="#7eabe0" stroke="#7eabe0" stroke-width="0.3"/>
<polygon points="396.1,284.1 410.3,281.1 409.2,276.8 395.0,279.8" fill="#7eabe0" stroke="#7eabe0" stroke-width="0.3"/>
<polygon points="410.3,281.1 417.4,279.5 416.2,275.2 409.2,276.8" fill="#4d82cb" stroke="#4d82cb" stroke-width="0.3"/>
<polygon points="417.4,279.5 435.1,275.2 433.8,270.9 416.2,275.2" fill="#24519f" stroke="#24519f" stroke-width="0.3"/>
<polygon points="435.1,275.2 438.6,274.2 437.3,270.0 433.8,270.9" fill="#4d82cb" stroke="#4d82cb" stroke-width="0.3"/>
<polygon points="438.6,274.2 449.1,271.4 447.7,267.2 437.3,270.0" fill="#7eabe0" stroke="#7eabe0" stroke-width="0.3"/>
<polygon points="459.6,268.4 466.5,266.3 465.0,262.1 458.1,264.2" fill="#c8ddf1" stroke="#c8ddf1" stroke-width="0.3"/>
<polygon points="48.4,263.6 54.1,265.2 55.3,261.0 49.7,259.4" fill="#4d82cb" stroke="#4d82cb" stroke-width="0.3"/>
<polygon points="54.1,265.2 71.0,269.9 72.1,265.6 55.3,261.0" fill="#24519f" stroke="#24519f" stroke-width="0.3"/>
<polygon points="71.0,269.9 76.6,271.3 77.7,267.1 72.1,265.6" fill="#4d82cb" stroke="#4d82cb" stroke-width="0.3"/>
<polygon points="76.6,271.3 82.3,272.7 83.3,268.5 77.7,267.1" fill="#7eabe0" stroke="#7eabe0" stroke-width="0.3"/>
<polygon points="88.0,274.1 93.7,275.4 94.6,271.1 89.0,269.8" fill="#7eabe0" stroke="#7eabe0" stroke-width="0.3"/>
<polygon points="105.1,277.9 116.6,280.2 117.4,275.9 106.0,273.6" fill="#c8ddf1" stroke="#c8ddf1" stroke-width="0.3"/>
<polygon points="139.6,284.3 162.7,287.6 163.2,283.3 140.2,279.9" fill="#7eabe0" stroke="#7eabe0" stroke-width="0.3"/>
<polygon points="168.5,288.3 174.3,289.0 174.7,284.6 169.0,284.0" fill="#7eabe0" stroke="#7eabe0" stroke-width="0.3"/>
<polygon points="191.7,290.7 220.8,292.7 220.9,288.3 192.0,286.4" fill="#7eabe0" stroke="#7eabe0" stroke-width="0.3"/>
<polygon points="261.6,293.5 268.9,293.4 268.7,289.0 261.5,289.1" fill="#7eabe0" stroke="#7eabe0" stroke-width="0.3"/>
<polygon points="268.9,293.4 283.4,292.9 283.1,288.5 268.7,289.0" fill="#4d82cb" stroke="#4d82cb" stroke-width="0.3"/>
<polygon points="283.4,292.9 305.2,291.8 304.8,287.4 283.1,288.5" fill="#7eabe0" stroke="#7eabe0" stroke-width="0.3"/>
<polygon points="305.2,291.8 308.8,291.5 308.4,287.1 304.8,287.4" fill="#4d82cb" stroke="#4d82cb" stroke-width="0.3"/>
<polygon points="308.8,291.5 312.5,291.2 312.0,286.8 308.4,287.1" fill="#24519f" stroke="#24519f" stroke-width="0.3"/>
<polygon points="312.5,291.2 316.1,290.9 315.6,286.5 312.0,286.8" fill="#4d82cb" stroke="#4d82cb" stroke-width="0.3"/>
<polygon points="316.1,290.9 319.7,290.6 319.2,286.2 315.6,286.5" fill="#7eabe0" stroke="#7eabe0" stroke-width="0.3"/>
<polygon points="319.7,290.6 323.3,290.3 322.8,285.9 319.2,286.2" fill="#4d82cb" stroke="#4d82cb" stroke-width="0.3"/>
<polygon points="323.3,290.3 334.2,289.1 333.5,284.8 322.8,285.9" fill="#7eabe0" stroke="#7eabe0" stroke-width="0.3"/>
<polygon points="337.8,288.7 345.0,287.9 344.3,283.5 337.1,284.4" fill="#7eabe0" stroke="#7eabe0" stroke-width="0.3"/>
<polygon points="391.5,280.4 419.7,274.4 418.5,270.1 390.5,276.1" fill="#7eabe0" stroke="#7eabe0" stroke-width="0.3"/>
<polygon points="419.7,274.4 433.8,270.9 432.5,266.7 418.5,270.1" fill="#4d82cb" stroke="#4d82cb" stroke-width="0.3"/>
<polygon points="433.8,270.9 440.7,269.1 439.4,264.8 432.5,266.7" fill="#7eabe0" stroke="#7eabe0" stroke-width="0.3"/>
<polygon points="454.6,265.2 458.1,264.2 456.6,260.0 453.2,261.0" fill="#c8ddf1" stroke="#c8ddf1" stroke-width="0.3"/>
<polygon points="49.7,259.4 55.3,261.0 56.5,256.8 51.0,255.2" fill="#4d82cb" stroke="#4d82cb" stroke-width="0.3"/>
<polygon points="55.3,261.0 72.1,265.6 73.2,261.4 56.5,256.8" fill="#24519f" stroke="#24519f" stroke-width="0.3"/>
<polygon points="72.1,265.6 83.3,268.5 84.4,264.2 73.2,261.4" fill="#4d82cb" stroke="#4d82cb" stroke-width="0.3"/>
<polygon points="83.3,268.5 94.6,271.1 95.6,266.8 84.4,264.2" fill="#7eabe0" stroke="#7eabe0" stroke-width="0.3"/>
<polygon points="111.7,274.8 117.4,275.9 118.2,271.6 112.5,270.5" fill="#c8ddf1" stroke="#c8ddf1" stroke-width="0.3"/>
<polygon points="151.7,281.7 169.0,284.0 169.4,279.6 152.3,277.3" fill="#7eabe0" stroke="#7eabe0" stroke-width="0.3"/>
<polygon points="197.8,286.8 203.6,287.3 203.8,282.9 198.1,282.5" fill="#7eabe0" stroke="#7eabe0" stroke-width="0.3"/>
<polygon points="209.4,287.7 220.9,288.3 221.1,283.9 209.6,283.3" fill="#7eabe0" stroke="#7eabe0" stroke-width="0.3"/>
<polygon points="236.1,288.9 239.8,288.9 239.7,284.6 236.1,284.5" fill="#c8ddf1" stroke="#c8ddf1" stroke-width="0.3"/>
<polygon points="257.8,289.1 268.7,289.0 268.5,284.6 257.7,284.7" fill="#7eabe0" stroke="#7eabe0" stroke-width="0.3"/>
<polygon points="268.7,289.0 275.9,288.8 275.7,284.4 268.5,284.6" fill="#4d82cb" stroke="#4d82cb" stroke-width="0.3"/>
<polygon points="275.9,288.8 279.5,288.7 279.3,284.3 275.7,284.4" fill="#24519f" stroke="#24519f" stroke-width="0.3"/>
<polygon points="279.5,288.7 283.1,288.5 282.8,284.2 279.3,284.3" fill="#4d82cb" stroke="#4d82cb" stroke-width="0.3"/>
<polygon points="283.1,288.5 286.7,288.4 286.4,284.0 282.8,284.2" fill="#7eabe0" stroke="#7eabe0" stroke-width="0.3"/>
<polygon points="286.7,288.4 290.4,288.2 290.0,283.8 286.4,284.0" fill="#4d82cb" stroke="#4d82cb" stroke-width="0.3"/>
<polygon points="290.4,288.2 312.0,286.8 311.5,282.5 290.0,283.8" fill="#7eabe0" stroke="#7eabe0" stroke-width="0.3"/>
<polygon points="312.0,286.8 319.2,286.2 318.6,281.8 311.5,282.5" fill="#4d82cb" stroke="#4d82cb" stroke-width="0.3"/>
<polygon points="319.2,286.2 326.3,285.5 325.8,281.2 318.6,281.8" fill="#7eabe0" stroke="#7eabe0" stroke-width="0.3"/>
<polygon points="329.9,285.2 337.1,284.4 336.4,280.0 329.3,280.8" fill="#7eabe0" stroke="#7eabe0" stroke-width="0.3"/>
<polygon points="340.7,284.0 347.8,283.1 347.1,278.7 340.0,279.6" fill="#7eabe0" stroke="#7eabe0" stroke-width="0.3"/>
<polygon points="394.0,275.4 401.0,274.0 399.9,269.7 392.9,271.1" fill="#7eabe0" stroke="#7eabe0" stroke-width="0.3"/>
<polygon points="404.5,273.3 408.0,272.5 406.9,268.2 403.4,269.0" fill="#7eabe0" stroke="#7eabe0" stroke-width="0.3"/>
<polygon points="411.5,271.7 432.5,266.7 431.2,262.4 410.4,267.4" fill="#7eabe0" stroke="#7eabe0" stroke-width="0.3"/>
<polygon points="463.5,257.9 466.9,256.8 465.4,252.7 462.0,253.7" fill="#c8ddf1" stroke="#c8ddf1" stroke-width="0.3"/>
<polygon points="51.0,255.2 56.5,256.8 57.7,252.6 52.2,251.0" fill="#4d82cb" stroke="#4d82cb" stroke-width="0.3"/>
<polygon points="56.5,256.8 73.2,261.4 74.3,257.2 57.7,252.6" fill="#24519f" stroke="#24519f" stroke-width="0.3"/>
<polygon points="73.2,261.4 78.8,262.8 79.9,258.6 74.3,257.2" fill="#4d82cb" stroke="#4d82cb" stroke-width="0.3"/>
<polygon points="78.8,262.8 95.6,266.8 96.6,262.6 79.9,258.6" fill="#7eabe0" stroke="#7eabe0" stroke-width="0.3"/>
<polygon points="135.2,274.7 175.1,280.3 175.6,275.9 135.9,270.4" fill="#7eabe0" stroke="#7eabe0" stroke-width="0.3"/>
<polygon points="203.8,282.9 209.6,283.3 209.8,278.9 204.0,278.5" fill="#7eabe0" stroke="#7eabe0" stroke-width="0.3"/>
<polygon points="215.3,283.6 221.1,283.9 221.2,279.5 215.5,279.2" fill="#7eabe0" stroke="#7eabe0" stroke-width="0.3"/>
<polygon points="232.6,284.4 236.1,284.5 236.2,280.1 232.6,280.0" fill="#c8ddf1" stroke="#c8ddf1" stroke-width="0.3"/>
<polygon points="254.1,284.7 257.7,284.7 257.6,280.3 254.0,280.3" fill="#7eabe0" stroke="#7eabe0" stroke-width="0.3"/>
<polygon points="261.3,284.7 275.7,284.4 275.4,280.0 261.1,280.3" fill="#7eabe0" stroke="#7eabe0" stroke-width="0.3"/>
<polygon points="275.7,284.4 282.8,284.2 282.5,279.8 275.4,280.0" fill="#4d82cb" stroke="#4d82cb" stroke-width="0.3"/>
<polygon points="282.8,284.2 293.6,283.7 293.2,279.3 282.5,279.8" fill="#7eabe0" stroke="#7eabe0" stroke-width="0.3"/>
<polygon points="304.3,283.0 322.2,281.5 321.6,277.1 303.9,278.6" fill="#7eabe0" stroke="#7eabe0" stroke-width="0.3"/>
<polygon points="325.8,281.2 329.3,280.8 328.7,276.4 325.2,276.8" fill="#7eabe0" stroke="#7eabe0" stroke-width="0.3"/>
<polygon points="406.9,268.2 410.4,267.4 409.2,263.2 405.8,263.9" fill="#7eabe0" stroke="#7eabe0" stroke-width="0.3"/>
<polygon points="431.2,262.4 434.6,261.5 433.3,257.3 429.9,258.2" fill="#7eabe0" stroke="#7eabe0" stroke-width="0.3"/>
<polygon points="455.2,255.8 458.6,254.7 457.1,250.6 453.7,251.6" fill="#c8ddf1" stroke="#c8ddf1" stroke-width="0.3"/>
<polygon points="52.2,251.0 57.7,252.6 59.0,248.4 53.5,246.8" fill="#7eabe0" stroke="#7eabe0" stroke-width="0.3"/>
<polygon points="57.7,252.6 63.2,254.2 64.4,250.0 59.0,248.4" fill="#4d82cb" stroke="#4d82cb" stroke-width="0.3"/>
<polygon points="63.2,254.2 74.3,257.2 75.4,252.9 64.4,250.0" fill="#24519f" stroke="#24519f" stroke-width="0.3"/>
<polygon points="74.3,257.2 102.2,263.8 103.1,259.6 75.4,252.9" fill="#7eabe0" stroke="#7eabe0" stroke-width="0.3"/>
<polygon points="102.2,263.8 107.8,265.0 108.6,260.7 103.1,259.6" fill="#4d82cb" stroke="#4d82cb" stroke-width="0.3"/>
<polygon points="141.5,271.3 152.9,273.0 153.4,268.7 142.2,267.0" fill="#7eabe0" stroke="#7eabe0" stroke-width="0.3"/>
<polygon points="152.9,273.0 158.5,273.8 159.1,269.5 153.4,268.7" fill="#4d82cb" stroke="#4d82cb" stroke-width="0.3"/>
<polygon points="158.5,273.8 169.9,275.3 170.3,270.9 159.1,269.5" fill="#7eabe0" stroke="#7eabe0" stroke-width="0.3"/>
<polygon points="261.1,280.3 271.8,280.1 271.6,275.7 261.0,275.9" fill="#7eabe0" stroke="#7eabe0" stroke-width="0.3"/>
<polygon points="271.8,280.1 275.4,280.0 275.2,275.6 271.6,275.7" fill="#4d82cb" stroke="#4d82cb" stroke-width="0.3"/>
<polygon points="275.4,280.0 279.0,279.9 278.7,275.5 275.2,275.6" fill="#7eabe0" stroke="#7eabe0" stroke-width="0.3"/>
<polygon points="279.0,279.9 282.5,279.8 282.2,275.4 278.7,275.5" fill="#4d82cb" stroke="#4d82cb" stroke-width="0.3"/>
<polygon points="282.5,279.8 296.8,279.1 296.4,274.7 282.2,275.4" fill="#7eabe0" stroke="#7eabe0" stroke-width="0.3"/>
<polygon points="303.9,278.6 311.0,278.1 310.5,273.7 303.4,274.2" fill="#7eabe0" stroke="#7eabe0" stroke-width="0.3"/>
<polygon points="314.5,277.8 318.1,277.5 317.6,273.1 314.0,273.4" fill="#7eabe0" stroke="#7eabe0" stroke-width="0.3"/>
<polygon points="443.5,254.5 446.9,253.5 445.5,249.3 442.2,250.3" fill="#c8ddf1" stroke="#c8ddf1" stroke-width="0.3"/>
<polygon points="463.8,248.5 467.2,247.4 465.7,243.3 462.3,244.3" fill="#c8ddf1" stroke="#c8ddf1" stroke-width="0.3"/>
<polygon points="53.5,246.8 59.0,248.4 60.2,244.2 54.7,242.7" fill="#7eabe0" stroke="#7eabe0" stroke-width="0.3"/>
<polygon points="59.0,248.4 64.4,250.0 65.6,245.8 60.2,244.2" fill="#4d82cb" stroke="#4d82cb" stroke-width="0.3"/>
<polygon points="64.4,250.0 69.9,251.5 71.1,247.3 65.6,245.8" fill="#24519f" stroke="#24519f" stroke-width="0.3"/>
<polygon points="69.9,251.5 86.4,255.7 87.5,251.5 71.1,247.3" fill="#4d82cb" stroke="#4d82cb" stroke-width="0.3"/>
<polygon points="86.4,255.7 92.0,257.0 93.0,252.8 87.5,251.5" fill="#7eabe0" stroke="#7eabe0" stroke-width="0.3"/>
<polygon points="92.0,257.0 97.5,258.3 98.5,254.1 93.0,252.8" fill="#4d82cb" stroke="#4d82cb" stroke-width="0.3"/>
<polygon points="97.5,258.3 103.1,259.6 104.0,255.3 98.5,254.1" fill="#24519f" stroke="#24519f" stroke-width="0.3"/>
<polygon points="103.1,259.6 108.6,260.7 109.5,256.5 104.0,255.3" fill="#4d82cb" stroke="#4d82cb" stroke-width="0.3"/>
<polygon points="108.6,260.7 114.2,261.9 115.1,257.6 109.5,256.5" fill="#7eabe0" stroke="#7eabe0" stroke-width="0.3"/>
<polygon points="131.0,265.1 198.6,273.7 198.9,269.4 131.7,260.8" fill="#7eabe0" stroke="#7eabe0" stroke-width="0.3"/>
<polygon points="261.0,275.9 282.2,275.4 281.9,271.0 260.8,271.5" fill="#7eabe0" stroke="#7eabe0" stroke-width="0.3"/>
<polygon points="285.8,275.2 289.3,275.1 289.0,270.7 285.5,270.9" fill="#7eabe0" stroke="#7eabe0" stroke-width="0.3"/>
<polygon points="299.9,274.5 303.4,274.2 303.0,269.9 299.5,270.1" fill="#7eabe0" stroke="#7eabe0" stroke-width="0.3"/>
<polygon points="448.9,248.4 452.3,247.4 450.8,243.2 447.5,244.2" fill="#c8ddf1" stroke="#c8ddf1" stroke-width="0.3"/>
<polygon points="54.7,242.7 60.2,244.2 61.4,240.0 56.0,238.5" fill="#4d82cb" stroke="#4d82cb" stroke-width="0.3"/>
<polygon points="60.2,244.2 65.6,245.8 66.8,241.6 61.4,240.0" fill="#24519f" stroke="#24519f" stroke-width="0.3"/>
<polygon points="65.6,245.8 82.0,250.1 83.1,245.9 66.8,241.6" fill="#4d82cb" stroke="#4d82cb" stroke-width="0.3"/>
<polygon points="82.0,250.1 93.0,252.8 94.0,248.5 83.1,245.9" fill="#7eabe0" stroke="#7eabe0" stroke-width="0.3"/>
<polygon points="93.0,252.8 98.5,254.1 99.4,249.8 94.0,248.5" fill="#4d82cb" stroke="#4d82cb" stroke-width="0.3"/>
<polygon points="98.5,254.1 104.0,255.3 104.9,251.0 99.4,249.8" fill="#24519f" stroke="#24519f" stroke-width="0.3"/>
<polygon points="104.0,255.3 115.1,257.6 115.9,253.3 104.9,251.0" fill="#4d82cb" stroke="#4d82cb" stroke-width="0.3"/>
<polygon points="115.1,257.6 126.1,259.8 126.9,255.5 115.9,253.3" fill="#7eabe0" stroke="#7eabe0" stroke-width="0.3"/>
<polygon points="131.7,260.8 137.3,261.7 138.0,257.4 132.4,256.5" fill="#7eabe0" stroke="#7eabe0" stroke-width="0.3"/>
<polygon points="142.8,262.7 154.0,264.4 154.6,260.0 143.5,258.3" fill="#7eabe0" stroke="#7eabe0" stroke-width="0.3"/>
<polygon points="154.0,264.4 159.6,265.1 160.1,260.8 154.6,260.0" fill="#4d82cb" stroke="#4d82cb" stroke-width="0.3"/>
<polygon points="159.6,265.1 187.6,268.4 188.0,264.0 160.1,260.8" fill="#7eabe0" stroke="#7eabe0" stroke-width="0.3"/>
<polygon points="193.3,268.9 198.9,269.4 199.2,265.0 193.6,264.5" fill="#7eabe0" stroke="#7eabe0" stroke-width="0.3"/>
<polygon points="221.4,270.8 236.2,271.3 236.2,267.0 221.5,266.4" fill="#7eabe0" stroke="#7eabe0" stroke-width="0.3"/>
<polygon points="274.9,271.3 281.9,271.0 281.7,266.7 274.7,266.9" fill="#7eabe0" stroke="#7eabe0" stroke-width="0.3"/>
<polygon points="289.0,270.7 292.5,270.5 292.1,266.2 288.6,266.3" fill="#7eabe0" stroke="#7eabe0" stroke-width="0.3"/>
<polygon points="299.5,270.1 303.0,269.9 302.6,265.5 299.1,265.8" fill="#7eabe0" stroke="#7eabe0" stroke-width="0.3"/>
<polygon points="310.0,269.4 313.5,269.1 313.0,264.7 309.5,265.0" fill="#7eabe0" stroke="#7eabe0" stroke-width="0.3"/>
<polygon points="440.8,246.1 444.1,245.2 442.7,241.0 439.4,241.9" fill="#c8ddf1" stroke="#c8ddf1" stroke-width="0.3"/>
<polygon points="450.8,243.2 454.1,242.2 452.7,238.0 449.4,239.0" fill="#c8ddf1" stroke="#c8ddf1" stroke-width="0.3"/>
<polygon points="457.5,241.2 460.8,240.2 459.3,236.0 456.0,237.0" fill="#c8ddf1" stroke="#c8ddf1" stroke-width="0.3"/>
<polygon points="56.0,238.5 61.4,240.0 62.6,235.9 57.3,234.3" fill="#4d82cb" stroke="#4d82cb" stroke-width="0.3"/>
<polygon points="61.4,240.0 72.2,243.1 73.3,238.9 62.6,235.9" fill="#24519f" stroke="#24519f" stroke-width="0.3"/>
<polygon points="72.2,243.1 83.1,245.9 84.1,241.7 73.3,238.9" fill="#4d82cb" stroke="#4d82cb" stroke-width="0.3"/>
<polygon points="83.1,245.9 88.5,247.2 89.5,243.0 84.1,241.7" fill="#7eabe0" stroke="#7eabe0" stroke-width="0.3"/>
<polygon points="88.5,247.2 99.4,249.8 100.4,245.6 89.5,243.0" fill="#4d82cb" stroke="#4d82cb" stroke-width="0.3"/>
<polygon points="99.4,249.8 104.9,251.0 105.8,246.8 100.4,245.6" fill="#24519f" stroke="#24519f" stroke-width="0.3"/>
<polygon points="104.9,251.0 115.9,253.3 116.7,249.1 105.8,246.8" fill="#4d82cb" stroke="#4d82cb" stroke-width="0.3"/>
<polygon points="115.9,253.3 132.4,256.5 133.2,252.2 116.7,249.1" fill="#7eabe0" stroke="#7eabe0" stroke-width="0.3"/>
<polygon points="138.0,257.4 143.5,258.3 144.2,254.0 138.7,253.1" fill="#7eabe0" stroke="#7eabe0" stroke-width="0.3"/>
<polygon points="149.0,259.2 171.3,262.2 171.7,257.9 149.7,254.9" fill="#7eabe0" stroke="#7eabe0" stroke-width="0.3"/>
<polygon points="182.4,263.5 210.3,265.8 210.5,261.5 182.8,259.1" fill="#7eabe0" stroke="#7eabe0" stroke-width="0.3"/>
<polygon points="215.9,266.1 221.5,266.4 221.6,262.1 216.1,261.8" fill="#7eabe0" stroke="#7eabe0" stroke-width="0.3"/>
<polygon points="227.1,266.7 232.7,266.9 232.8,262.5 227.2,262.3" fill="#7eabe0" stroke="#7eabe0" stroke-width="0.3"/>
<polygon points="239.7,267.0 243.2,267.1 243.2,262.7 239.7,262.7" fill="#7eabe0" stroke="#7eabe0" stroke-width="0.3"/>
<polygon points="442.7,241.0 449.4,239.0 447.9,234.9 441.3,236.8" fill="#c8ddf1" stroke="#c8ddf1" stroke-width="0.3"/>
<polygon points="459.3,236.0 462.6,235.0 461.0,230.8 457.8,231.9" fill="#c8ddf1" stroke="#c8ddf1" stroke-width="0.3"/>
<polygon points="57.3,234.3 62.6,235.9 63.8,231.7 58.5,230.2" fill="#4d82cb" stroke="#4d82cb" stroke-width="0.3"/>
<polygon points="62.6,235.9 84.1,241.7 85.2,237.5 63.8,231.7" fill="#24519f" stroke="#24519f" stroke-width="0.3"/>
<polygon points="84.1,241.7 95.0,244.3 96.0,240.1 85.2,237.5" fill="#7eabe0" stroke="#7eabe0" stroke-width="0.3"/>
<polygon points="95.0,244.3 111.3,247.9 112.2,243.7 96.0,240.1" fill="#4d82cb" stroke="#4d82cb" stroke-width="0.3"/>
<polygon points="111.3,247.9 138.7,253.1 139.3,248.8 112.2,243.7" fill="#7eabe0" stroke="#7eabe0" stroke-width="0.3"/>
<polygon points="144.2,254.0 160.7,256.5 161.2,252.2 144.8,249.7" fill="#7eabe0" stroke="#7eabe0" stroke-width="0.3"/>
<polygon points="171.7,257.9 205.0,261.1 205.2,256.7 172.2,253.6" fill="#7eabe0" stroke="#7eabe0" stroke-width="0.3"/>
<polygon points="216.1,261.8 227.2,262.3 227.3,258.0 216.2,257.4" fill="#7eabe0" stroke="#7eabe0" stroke-width="0.3"/>
<polygon points="232.8,262.5 236.2,262.6 236.2,258.2 232.8,258.1" fill="#7eabe0" stroke="#7eabe0" stroke-width="0.3"/>
<polygon points="447.9,234.9 451.2,233.9 449.7,229.7 446.5,230.7" fill="#c8ddf1" stroke="#c8ddf1" stroke-width="0.3"/>
<polygon points="454.5,232.9 457.8,231.9 456.3,227.7 453.0,228.7" fill="#c8ddf1" stroke="#c8ddf1" stroke-width="0.3"/>
<polygon points="58.5,230.2 63.8,231.7 65.0,227.5 59.8,226.0" fill="#4d82cb" stroke="#4d82cb" stroke-width="0.3"/>
<polygon points="63.8,231.7 85.2,237.5 86.3,233.3 65.0,227.5" fill="#24519f" stroke="#24519f" stroke-width="0.3"/>
<polygon points="85.2,237.5 90.6,238.8 91.6,234.6 86.3,233.3" fill="#4d82cb" stroke="#4d82cb" stroke-width="0.3"/>
<polygon points="90.6,238.8 139.3,248.8 140.0,244.6 91.6,234.6" fill="#7eabe0" stroke="#7eabe0" stroke-width="0.3"/>
<polygon points="155.7,251.4 166.7,252.9 167.2,248.6 156.3,247.1" fill="#7eabe0" stroke="#7eabe0" stroke-width="0.3"/>
<polygon points="177.7,254.2 205.2,256.7 205.4,252.4 178.1,249.9" fill="#7eabe0" stroke="#7eabe0" stroke-width="0.3"/>
<polygon points="227.3,258.0 232.8,258.1 232.8,253.8 227.4,253.6" fill="#7eabe0" stroke="#7eabe0" stroke-width="0.3"/>
<polygon points="239.7,258.3 243.1,258.4 243.1,254.0 239.7,254.0" fill="#7eabe0" stroke="#7eabe0" stroke-width="0.3"/>
<polygon points="439.9,232.6 443.2,231.7 441.8,227.5 438.5,228.4" fill="#c8ddf1" stroke="#c8ddf1" stroke-width="0.3"/>
<polygon points="453.0,228.7 459.5,226.7 458.0,222.6 451.5,224.6" fill="#c8ddf1" stroke="#c8ddf1" stroke-width="0.3"/>
<polygon points="59.8,226.0 65.0,227.5 66.2,223.4 61.0,221.9" fill="#7eabe0" stroke="#7eabe0" stroke-width="0.3"/>
<polygon points="65.0,227.5 70.3,229.0 71.5,224.9 66.2,223.4" fill="#4d82cb" stroke="#4d82cb" stroke-width="0.3"/>
<polygon points="70.3,229.0 86.3,233.3 87.3,229.1 71.5,224.9" fill="#24519f" stroke="#24519f" stroke-width="0.3"/>
<polygon points="86.3,233.3 91.6,234.6 92.6,230.4 87.3,229.1" fill="#4d82cb" stroke="#4d82cb" stroke-width="0.3"/>
<polygon points="91.6,234.6 113.0,239.4 113.9,235.2 92.6,230.4" fill="#7eabe0" stroke="#7eabe0" stroke-width="0.3"/>
<polygon points="123.8,241.6 134.6,243.6 135.3,239.4 124.6,237.4" fill="#7eabe0" stroke="#7eabe0" stroke-width="0.3"/>
<polygon points="150.9,246.3 156.3,247.1 156.9,242.8 151.5,242.0" fill="#7eabe0" stroke="#7eabe0" stroke-width="0.3"/>
<polygon points="178.1,249.9 205.4,252.4 205.7,248.1 178.5,245.6" fill="#7eabe0" stroke="#7eabe0" stroke-width="0.3"/>
<polygon points="227.4,253.6 232.8,253.8 232.9,249.5 227.4,249.3" fill="#7eabe0" stroke="#7eabe0" stroke-width="0.3"/>
<polygon points="445.0,226.5 448.3,225.6 446.8,221.4 443.6,222.4" fill="#c8ddf1" stroke="#c8ddf1" stroke-width="0.3"/>
<polygon points="451.5,224.6 454.7,223.6 453.2,219.4 450.0,220.4" fill="#c8ddf1" stroke="#c8ddf1" stroke-width="0.3"/>
<polygon points="61.0,221.9 66.2,223.4 67.5,219.2 62.3,217.7" fill="#7eabe0" stroke="#7eabe0" stroke-width="0.3"/>
<polygon points="66.2,223.4 76.8,226.3 77.9,222.1 67.5,219.2" fill="#4d82cb" stroke="#4d82cb" stroke-width="0.3"/>
<polygon points="76.8,226.3 87.3,229.1 88.4,224.9 77.9,222.1" fill="#24519f" stroke="#24519f" stroke-width="0.3"/>
<polygon points="87.3,229.1 108.6,234.1 109.5,229.8 88.4,224.9" fill="#7eabe0" stroke="#7eabe0" stroke-width="0.3"/>
<polygon points="113.9,235.2 119.3,236.3 120.1,232.1 114.8,231.0" fill="#7eabe0" stroke="#7eabe0" stroke-width="0.3"/>
<polygon points="194.8,247.2 205.7,248.1 205.9,243.8 195.1,242.9" fill="#7eabe0" stroke="#7eabe0" stroke-width="0.3"/>
<polygon points="236.3,249.6 239.7,249.6 239.7,245.3 236.3,245.2" fill="#c8ddf1" stroke="#c8ddf1" stroke-width="0.3"/>
<polygon points="270.3,249.6 273.7,249.5 273.4,245.2 270.1,245.3" fill="#c8ddf1" stroke="#c8ddf1" stroke-width="0.3"/>
<polygon points="453.2,219.4 456.4,218.4 454.9,214.3 451.7,215.3" fill="#c8ddf1" stroke="#c8ddf1" stroke-width="0.3"/>
<polygon points="62.3,217.7 72.7,220.7 73.8,216.6 63.5,213.6" fill="#7eabe0" stroke="#7eabe0" stroke-width="0.3"/>
<polygon points="72.7,220.7 77.9,222.1 79.0,218.0 73.8,216.6" fill="#4d82cb" stroke="#4d82cb" stroke-width="0.3"/>
<polygon points="77.9,222.1 83.1,223.5 84.2,219.4 79.0,218.0" fill="#24519f" stroke="#24519f" stroke-width="0.3"/>
<polygon points="83.1,223.5 93.6,226.2 94.7,222.0 84.2,219.4" fill="#4d82cb" stroke="#4d82cb" stroke-width="0.3"/>
<polygon points="93.6,226.2 104.2,228.7 105.1,224.5 94.7,222.0" fill="#7eabe0" stroke="#7eabe0" stroke-width="0.3"/>
<polygon points="146.8,236.9 152.1,237.7 152.7,233.5 147.4,232.6" fill="#c8ddf1" stroke="#c8ddf1" stroke-width="0.3"/>
<polygon points="293.6,244.3 297.0,244.1 296.6,239.7 293.3,240.0" fill="#c8ddf1" stroke="#c8ddf1" stroke-width="0.3"/>
<polygon points="442.1,218.3 448.5,216.3 447.1,212.2 440.7,214.1" fill="#c8ddf1" stroke="#c8ddf1" stroke-width="0.3"/>
<polygon points="73.8,216.6 84.2,219.4 85.3,215.2 75.0,212.4" fill="#7eabe0" stroke="#7eabe0" stroke-width="0.3"/>
<polygon points="84.2,219.4 89.4,220.7 90.5,216.5 85.3,215.2" fill="#4d82cb" stroke="#4d82cb" stroke-width="0.3"/>
<polygon points="89.4,220.7 94.7,222.0 95.7,217.8 90.5,216.5" fill="#7eabe0" stroke="#7eabe0" stroke-width="0.3"/>
<polygon points="179.4,237.0 184.7,237.6 185.1,233.3 179.8,232.7" fill="#c8ddf1" stroke="#c8ddf1" stroke-width="0.3"/>
<polygon points="200.8,239.0 206.1,239.4 206.4,235.1 201.0,234.7" fill="#c8ddf1" stroke="#c8ddf1" stroke-width="0.3"/>
<polygon points="227.6,240.6 233.0,240.8 233.0,236.5 227.7,236.3" fill="#c8ddf1" stroke="#c8ddf1" stroke-width="0.3"/>
<polygon points="256.4,241.1 259.8,241.1 259.6,236.8 256.3,236.8" fill="#c8ddf1" stroke="#c8ddf1" stroke-width="0.3"/>
<polygon points="440.7,214.1 443.9,213.2 442.4,209.1 439.3,210.0" fill="#c8ddf1" stroke="#c8ddf1" stroke-width="0.3"/>
<polygon points="450.2,211.2 453.4,210.2 451.9,206.1 448.7,207.1" fill="#c8ddf1" stroke="#c8ddf1" stroke-width="0.3"/>
<polyline points="61.2,247.0 67.6,249.3 72.9,256.8 83.6,258.5 93.1,258.3 109.1,261.3 109.3,257.4 110.2,251.7 114.1,232.8" fill="none" stroke="#f4f8fd" stroke-width="0.8"/>
<polyline points="47.9,286.3 144.8,307.3 143.5,317.0 196.7,323.1 199.1,284.0 201.4,245.3" fill="none" stroke="#f4f8fd" stroke-width="0.8"/>
<polyline points="78.6,294.4 71.7,323.0 106.1,370.5 108.8,377.9 101.4,392.3" fill="none" stroke="#f4f8fd" stroke-width="0.8"/>
<polyline points="122.6,303.7 114.2,352.0 107.0,359.7 106.1,370.5" fill="none" stroke="#f4f8fd" stroke-width="0.8"/>
<polyline points="114.2,352.0 210.5,363.4 202.2,367.8 200.0,411.9 169.3,409.2 169.9,411.5" fill="none" stroke="#f4f8fd" stroke-width="0.8"/>
<polyline points="158.7,319.2 147.7,413.3" fill="none" stroke="#f4f8fd" stroke-width="0.8"/>
<polyline points="120.7,234.2 118.9,243.6 122.7,251.2 127.7,259.1 125.3,268.5 137.8,281.5 148.2,283.1 148.9,278.3 199.1,284.0" fill="none" stroke="#f4f8fd" stroke-width="0.8"/>
<polyline points="148.2,283.1 143.5,317.0" fill="none" stroke="#f4f8fd" stroke-width="0.8"/>
<polyline points="196.7,323.1 212.0,324.1 210.4,363.4" fill="none" stroke="#f4f8fd" stroke-width="0.8"/>
<polyline points="197.9,303.5 239.0,305.6 246.5,307.6 254.0,310.6" fill="none" stroke="#f4f8fd" stroke-width="0.8"/>
<polyline points="199.6,274.9 252.8,277.0" fill="none" stroke="#f4f8fd" stroke-width="0.8"/>
<polyline points="211.6,333.9 263.8,335.2" fill="none" stroke="#f4f8fd" stroke-width="0.8"/>
<polyline points="210.4,363.4 270.4,364.6 270.6,369.5 307.2,368.1" fill="none" stroke="#f4f8fd" stroke-width="0.8"/>
<polyline points="202.2,367.8 226.9,369.1 226.6,388.2 239.1,395.0 256.0,397.2 272.9,398.0 277.0,403.8 281.8,423.3 280.8,436.0" fill="none" stroke="#f4f8fd" stroke-width="0.8"/>
<polyline points="277.0,403.8 301.1,402.9" fill="none" stroke="#f4f8fd" stroke-width="0.8"/>
<polyline points="247.8,247.4 252.8,277.0 253.7,283.2 254.1,300.8 254.0,310.6 258.0,320.5 260.2,329.3 263.8,335.2 269.6,343.9 270.4,364.6 270.6,369.5 272.6,380.3 272.9,398.0" fill="none" stroke="#f4f8fd" stroke-width="0.8"/>
<polyline points="254.1,300.8 292.8,299.9" fill="none" stroke="#f4f8fd" stroke-width="0.8"/>
<polyline points="260.2,329.3 293.5,328.4" fill="none" stroke="#f4f8fd" stroke-width="0.8"/>
<polyline points="283.9,268.8 283.0,275.9 280.5,281.8 284.7,290.4 292.8,299.9 298.0,309.4 299.6,319.2 293.5,328.4 295.0,337.2 304.3,344.5 307.5,354.2 314.0,362.7 311.8,372.7 308.6,382.8 302.8,393.0 302.0,402.9 301.1,412.8 299.2,422.6" fill="none" stroke="#f4f8fd" stroke-width="0.8"/>
<polyline points="299.2,422.6 315.3,421.7 317.4,429.4" fill="none" stroke="#f4f8fd" stroke-width="0.8"/>
<polyline points="298.0,309.4 318.8,307.9" fill="none" stroke="#f4f8fd" stroke-width="0.8"/>
<polyline points="321.8,315.6 325.0,342.0 322.7,350.1 322.3,354.1" fill="none" stroke="#f4f8fd" stroke-width="0.8"/>
<polyline points="314.0,362.7 319.5,361.3 322.3,354.1 330.5,351.9 335.8,349.9 341.5,344.8 345.8,341.9 346.0,338.9 356.1,341.6 364.4,343.5 368.8,336.9 375.1,328.9 376.2,319.3" fill="none" stroke="#f4f8fd" stroke-width="0.8"/>
<polyline points="342.3,313.5 346.0,338.9" fill="none" stroke="#f4f8fd" stroke-width="0.8"/>
<polyline points="321.8,315.6 352.4,312.2" fill="none" stroke="#f4f8fd" stroke-width="0.8"/>
<polyline points="373.6,306.1 378.0,328.2" fill="none" stroke="#f4f8fd" stroke-width="0.8"/>
<polyline points="312.0,366.8 374.7,360.0 420.8,352.2" fill="none" stroke="#f4f8fd" stroke-width="0.8"/>
<polyline points="308.6,382.8 366.1,377.1 372.3,374.3 382.9,372.7 394.3,374.9 405.1,382.0" fill="none" stroke="#f4f8fd" stroke-width="0.8"/>
<polyline points="324.3,381.7 327.0,420.9 327.7,427.2" fill="none" stroke="#f4f8fd" stroke-width="0.8"/>
<polyline points="345.7,379.6 355.0,408.3 356.4,418.0 333.9,420.3 335.5,426.1" fill="none" stroke="#f4f8fd" stroke-width="0.8"/>
<polyline points="356.4,418.0 357.7,420.8 383.0,418.5 387.5,416.9" fill="none" stroke="#f4f8fd" stroke-width="0.8"/>
<polyline points="366.1,377.1 367.8,381.9 382.0,394.8 390.2,403.5" fill="none" stroke="#f4f8fd" stroke-width="0.8"/>
<polyline points="378.0,328.2 413.9,321.6 417.9,325.0" fill="none" stroke="#f4f8fd" stroke-width="0.8"/>
<polyline points="422.7,332.6 417.7,333.6 413.9,321.6" fill="none" stroke="#f4f8fd" stroke-width="0.8"/>
<polyline points="397.2,324.9 395.8,329.4 387.7,339.9 379.5,351.2 371.8,353.4 358.7,362.2" fill="none" stroke="#f4f8fd" stroke-width="0.8"/>
<polyline points="401.3,325.3 405.9,331.5 409.5,339.9 415.3,346.8" fill="none" stroke="#f4f8fd" stroke-width="0.8"/>
<polyline points="373.6,306.1 411.2,299.1 418.0,304.1 424.8,306.2" fill="none" stroke="#f4f8fd" stroke-width="0.8"/>
<polyline points="418.1,267.1 424.9,295.5 426.0,304.9" fill="none" stroke="#f4f8fd" stroke-width="0.8"/>
<polyline points="424.9,295.5 437.2,292.5 439.0,299.7" fill="none" stroke="#f4f8fd" stroke-width="0.8"/>
<polyline points="430.9,263.9 429.7,272.5 430.4,287.6" fill="none" stroke="#f4f8fd" stroke-width="0.8"/>
<polyline points="424.6,288.9 441.1,284.8" fill="none" stroke="#f4f8fd" stroke-width="0.8"/>
<polyline points="433.2,260.4 441.4,280.7" fill="none" stroke="#f4f8fd" stroke-width="0.8"/>
</g>
<polygon points="73.8,426.0 87.9,418.9 95.6,421.3 115.0,424.7 116.3,457.7 125.3,460.1 136.9,464.8 149.8,474.2 147.3,477.8 136.9,471.9 126.6,464.8 116.3,461.3 106.0,457.7 96.9,460.1 90.5,464.8 80.2,471.9 67.2,476.6 57.0,480.1 67.2,474.2 80.2,467.2 87.9,460.1 77.6,460.1 67.2,457.7 64.7,453.0 69.9,445.9 64.7,441.2 66.0,434.2 72.4,431.9 69.9,427.1" fill="#a7c8ea"/>
<polygon points="104,457.5 117,460 117,445 108,448" fill="#98bde6"/>
<ellipse cx="151.0" cy="454.0" rx="1.7" ry="1.5" fill="#a7c8ea"/>
<ellipse cx="156.0" cy="455.0" rx="2.2" ry="2.0" fill="#a7c8ea"/>
<ellipse cx="168.5" cy="459.0" rx="2.8" ry="2.5" fill="#a7c8ea"/>
<ellipse cx="176.0" cy="462.0" rx="1.7" ry="1.5" fill="#a7c8ea"/>
<ellipse cx="183.0" cy="464.5" rx="2.8" ry="2.5" fill="#a7c8ea"/>
<ellipse cx="194.5" cy="476.0" rx="6.1" ry="5.5" fill="#a7c8ea"/>
</svg>
<div class="abs" style="left:36.2px;top:542.0px;width:7.5px;height:7.5px;border-radius:50%;background:#1a6ec6"></div>
<div class="abs" style="left:36.2px;top:606.2px;width:7.5px;height:7.5px;border-radius:50%;background:#1a6ec6"></div>
<div class="abs" style="left:36.2px;top:670.2px;width:7.5px;height:7.5px;border-radius:50%;background:#1a6ec6"></div>
<div class="abs" style="left:550.3px;top:225.8px;width:10px;height:10px;border-radius:50%;background:#1a6ec6"></div>
<div class="abs" style="left:550.3px;top:280.8px;width:10px;height:10px;border-radius:50%;background:#1a6ec6"></div>
<div class="abs" style="left:550.3px;top:336.0px;width:10px;height:10px;border-radius:50%;background:#1a6ec6"></div>
<div class="abs" style="left:550.3px;top:391.5px;width:10px;height:10px;border-radius:50%;background:#1a6ec6"></div>
<svg class="abs" style="left:0;top:0" width="1600" height="892" viewBox="0 0 1600 892">
<rect x="682.0" y="474.8" width="209.7" height="57.8" rx="6.0" fill="#fcc443" stroke="none" stroke-width="0.0"/>
<rect x="682.0" y="652.1" width="209.7" height="57.8" rx="6.0" fill="#e36b55" stroke="none" stroke-width="0.0"/>
<rect x="682.0" y="790.2" width="209.7" height="58.0" rx="6.0" fill="#213f8f" stroke="none" stroke-width="0.0"/>
<rect x="924.2" y="436.0" width="133.4" height="21.0" rx="7.0" fill="#fff" stroke="#f6c65c" stroke-width="1.6"/>
<rect x="924.2" y="464.6" width="133.4" height="21.0" rx="7.0" fill="#fff" stroke="#f6c65c" stroke-width="1.6"/>
<rect x="924.2" y="493.2" width="133.4" height="21.0" rx="7.0" fill="#fff" stroke="#f6c65c" stroke-width="1.6"/>
<rect x="924.2" y="521.8" width="133.4" height="21.0" rx="7.0" fill="#fff" stroke="#f6c65c" stroke-width="1.6"/>
<rect x="924.2" y="550.4" width="133.4" height="21.0" rx="7.0" fill="#fff" stroke="#f6c65c" stroke-width="1.6"/>
<rect x="924.2" y="599.7" width="133.6" height="21.0" rx="7.0" fill="#fff" stroke="#e6735e" stroke-width="1.5"/>
<rect x="924.2" y="628.3" width="133.6" height="21.0" rx="7.0" fill="#fff" stroke="#e6735e" stroke-width="1.5"/>
<rect x="924.2" y="656.9" width="133.6" height="21.0" rx="7.0" fill="#fff" stroke="#e6735e" stroke-width="1.5"/>
<rect x="924.2" y="685.5" width="133.6" height="21.0" rx="7.0" fill="#fff" stroke="#e6735e" stroke-width="1.5"/>
<rect x="924.2" y="714.1" width="133.6" height="21.0" rx="7.0" fill="#fff" stroke="#e6735e" stroke-width="1.5"/>
<rect x="924.2" y="742.7" width="133.6" height="21.0" rx="7.0" fill="#fff" stroke="#e6735e" stroke-width="1.5"/>
<rect x="924.2" y="808.6" width="133.6" height="21.4" rx="7.0" fill="#fff" stroke="#2a4690" stroke-width="1.7"/>
<path d="M911.0 446.5 Q906.4 446.5 906.4 451.5 L906.4 498.5 Q906.4 503.5 901.7 503.5 Q906.4 503.5 906.4 508.5 L906.4 555.4 Q906.4 560.4 911.0 560.4" fill="none" stroke="#f6c55c" stroke-width="1.5"/>
<path d="M910.7 610.2 Q906.1 610.2 906.1 615.2 L906.1 676.2 Q906.1 681.2 901.5 681.2 Q906.1 681.2 906.1 686.2 L906.1 746.4 Q906.1 751.4 910.7 751.4" fill="none" stroke="#e6735e" stroke-width="1.5"/>
<path d="M911.0 807.5 Q906.5 807.5 906.5 812.5 L906.5 814.5 Q906.5 819.5 902.0 819.5 Q906.5 819.5 906.5 824.5 L906.5 827.0 Q906.5 832.0 911.0 832.0" fill="none" stroke="#2a4690" stroke-width="1.5"/>
<path d="M670 503.3 Q656.2 503.3 656.2 517 L656.2 646 Q656.2 660.7 643.3 660.7" fill="none" stroke="#f6c550" stroke-width="2"/>
<path d="M643.3 660.7 Q656.2 660.7 656.2 675 L656.2 803 Q656.2 817.7 670 817.7" fill="none" stroke="#24418f" stroke-width="2"/>
<circle cx="715.2" cy="505.9" r="14.6" fill="#fff7dd"/>
<circle cx="715.2" cy="505.9" r="13.2" fill="#8ea3f2" stroke="#1d2340" stroke-width="1.2"/>
<circle cx="715.2" cy="505.9" r="9.3" fill="#fff" stroke="#1d2340" stroke-width="1.1"/>
<circle cx="715.2" cy="505.9" r="5.4" fill="#ec7472" stroke="#5a1a1a" stroke-width="0.9"/>
<circle cx="715.2" cy="505.9" r="1.6" fill="#f3e27a"/>
<line x1="715.2" y1="505.9" x2="726" y2="495.5" stroke="#1d2340" stroke-width="1.2"/>
<path d="M725.3 495.6 L729 489.8 L731.6 487.8 L731.4 490.6 L734 490.4 L732 493.2 L726.6 496.8 Z" fill="#c85a64" stroke="#3a1a22" stroke-width="0.9" stroke-linejoin="round"/>
<g fill="none" stroke="#fbe9e2" stroke-width="2.6" stroke-linejoin="round"><path d="M697.6 693.8 L697.6 690.2 Q697.8 687 701 686.8 L707 686.8 L707 693.8 Z"/><path d="M699.5 688 Q698.8 675.5 704 675.3 Q709.2 675.5 708.6 688 Z"/><path d="M725 693.8 L725 688 Q726 687 731 687 Q735.8 687.6 735.8 691 L735.8 693.8 Z"/><ellipse cx="728.6" cy="680.6" rx="3.8" ry="4.8"/><path d="M706 693.8 L706 689.5 Q706.3 685.6 711 685 L721 685 Q725.6 685.6 725.8 689.5 L725.8 693.8 Z"/><ellipse cx="716" cy="676.6" rx="5" ry="6.4"/></g>
<g stroke="#2b2020" stroke-width="0.9" stroke-linejoin="round"><path d="M697.6 693.8 L697.6 690.2 Q697.8 687 701 686.8 L707 686.8 L707 693.8 Z" fill="#e95e60"/><path d="M699.5 688 Q698.8 675.5 704 675.3 Q709.2 675.5 708.6 688 Z" fill="#f2cfd2"/><circle cx="704" cy="681.5" r="2.6" fill="#fff"/><path d="M725 693.8 L725 688 Q726 687 731 687 Q735.8 687.6 735.8 691 L735.8 693.8 Z" fill="#f5d43f"/><ellipse cx="728.6" cy="680.6" rx="3.8" ry="4.8" fill="#6c6c6c"/><path d="M724.8 679.5 Q724.5 674.8 728.6 674.8 Q732.7 674.8 732.4 679.5 Q730 677.3 728.6 677.6 Q726.5 677.3 724.8 679.5Z" fill="#22222a"/><path d="M706 693.8 L706 689.5 Q706.3 685.6 711 685 L721 685 Q725.6 685.6 725.8 689.5 L725.8 693.8 Z" fill="#b4c4f6"/><ellipse cx="716" cy="676.6" rx="5" ry="6.4" fill="#f8f6d2"/><path d="M710.8 676 Q710 669 716 669 Q722 669 721.2 676 Q720 673 716 673.2 Q712 673 710.8 676Z" fill="#22222a"/></g>
<circle cx="716.7" cy="819.2" r="15.3" fill="#e8e8f4"/>
<circle cx="716.7" cy="819.2" r="14.3" fill="#1e1e2e"/>
<circle cx="716.7" cy="819.2" r="13.2" fill="#3d9ff0"/>
<g fill="#3dba4a" stroke="#1a2a2a" stroke-width="0.9" stroke-linejoin="round">
<path d="M704 815.5 Q704.5 811 709.5 807.3 L711.5 808.5 Q711 812 709 813.5 Q707 814.5 706 816.5 Z"/>
<path d="M718.8 805.9 Q717.3 811 717 818 Q720.5 818.5 724 818.6 Q727 820 729.8 822.8 A13.2 13.2 0 0 0 718.8 805.9 Z"/>
<path d="M703.6 819.8 Q708 820.5 712.5 823.5 Q716.2 825.5 716 832.3 A13.2 13.2 0 0 1 703.6 819.8 Z"/>
</g>
<circle cx="723" cy="824.8" r="0.9" fill="#1a2a3a"/>
</svg>
<div class="abs" style="left:1228px;top:190px;width:342px;height:1.2px;background:#333"></div>
<div class="abs" style="left:1228px;top:210.7px;width:342px;height:1px;background:#444"></div>
<div class="abs" style="left:1228px;top:345.7px;width:342px;height:1.2px;background:#333"></div>
<div class="t" style="left:1197.2px;top:215.0px;width:120px;text-align:center;font-family:'Liberation Serif',serif;font-size:12.8px;color:#1a1a1a">1</div>
<div class="t" style="left:1252.1px;top:215.0px;width:120px;text-align:center;font-family:'Liberation Serif',serif;font-size:12.8px;color:#1a1a1a">147</div>
<div class="t" style="left:1344.1px;top:215.0px;width:120px;text-align:center;font-family:'Liberation Serif',serif;font-size:12.8px;color:#1a1a1a">70&ndash;74 years</div>
<div class="t" style="left:1431.9px;top:215.0px;width:120px;text-align:center;font-family:'Liberation Serif',serif;font-size:12.8px;color:#1a1a1a">W</div>
<div class="t" style="left:1478.9px;top:215.0px;width:120px;text-align:center;font-family:'Liberation Serif',serif;font-size:12.8px;color:#1a1a1a">Female</div>
<div class="t" style="left:1197.2px;top:229.3px;width:120px;text-align:center;font-family:'Liberation Serif',serif;font-size:12.8px;color:#1a1a1a">2</div>
<div class="t" style="left:1252.1px;top:229.3px;width:120px;text-align:center;font-family:'Liberation Serif',serif;font-size:12.8px;color:#1a1a1a">298</div>
<div class="t" style="left:1344.1px;top:229.3px;width:120px;text-align:center;font-family:'Liberation Serif',serif;font-size:12.8px;color:#1a1a1a">70&ndash;74 years</div>
<div class="t" style="left:1431.9px;top:229.3px;width:120px;text-align:center;font-family:'Liberation Serif',serif;font-size:12.8px;color:#1a1a1a">W</div>
<div class="t" style="left:1478.9px;top:229.3px;width:120px;text-align:center;font-family:'Liberation Serif',serif;font-size:12.8px;color:#1a1a1a">Male</div>
<div class="t" style="left:1197.2px;top:243.6px;width:120px;text-align:center;font-family:'Liberation Serif',serif;font-size:12.8px;color:#1a1a1a">3</div>
<div class="t" style="left:1252.1px;top:243.6px;width:120px;text-align:center;font-family:'Liberation Serif',serif;font-size:12.8px;color:#1a1a1a">431</div>
<div class="t" style="left:1344.1px;top:243.6px;width:120px;text-align:center;font-family:'Liberation Serif',serif;font-size:12.8px;color:#1a1a1a">75&ndash;79 years</div>
<div class="t" style="left:1431.9px;top:243.6px;width:120px;text-align:center;font-family:'Liberation Serif',serif;font-size:12.8px;color:#1a1a1a">W</div>
<div class="t" style="left:1478.9px;top:243.6px;width:120px;text-align:center;font-family:'Liberation Serif',serif;font-size:12.8px;color:#1a1a1a">Female</div>
<div class="t" style="left:1197.2px;top:257.9px;width:120px;text-align:center;font-family:'Liberation Serif',serif;font-size:12.8px;color:#1a1a1a">4</div>
<div class="t" style="left:1252.1px;top:257.9px;width:120px;text-align:center;font-family:'Liberation Serif',serif;font-size:12.8px;color:#1a1a1a">160</div>
<div class="t" style="left:1344.1px;top:257.9px;width:120px;text-align:center;font-family:'Liberation Serif',serif;font-size:12.8px;color:#1a1a1a">70&ndash;74 years</div>
<div class="t" style="left:1431.9px;top:257.9px;width:120px;text-align:center;font-family:'Liberation Serif',serif;font-size:12.8px;color:#1a1a1a">W</div>
<div class="t" style="left:1478.9px;top:257.9px;width:120px;text-align:center;font-family:'Liberation Serif',serif;font-size:12.8px;color:#1a1a1a">Female</div>
<div class="t" style="left:1197.2px;top:272.1px;width:120px;text-align:center;font-family:'Liberation Serif',serif;font-size:12.8px;color:#1a1a1a">5</div>
<div class="t" style="left:1252.1px;top:272.1px;width:120px;text-align:center;font-family:'Liberation Serif',serif;font-size:12.8px;color:#1a1a1a">853</div>
<div class="t" style="left:1344.1px;top:272.1px;width:120px;text-align:center;font-family:'Liberation Serif',serif;font-size:12.8px;color:#1a1a1a">60&ndash;64 years</div>
<div class="t" style="left:1431.9px;top:272.1px;width:120px;text-align:center;font-family:'Liberation Serif',serif;font-size:12.8px;color:#1a1a1a">W</div>
<div class="t" style="left:1478.9px;top:272.1px;width:120px;text-align:center;font-family:'Liberation Serif',serif;font-size:12.8px;color:#1a1a1a">Female</div>
<div class="t" style="left:1197.2px;top:286.4px;width:120px;text-align:center;font-family:'Liberation Serif',serif;font-size:12.8px;color:#1a1a1a">6</div>
<div class="t" style="left:1252.1px;top:286.4px;width:120px;text-align:center;font-family:'Liberation Serif',serif;font-size:12.8px;color:#1a1a1a">498</div>
<div class="t" style="left:1344.1px;top:286.4px;width:120px;text-align:center;font-family:'Liberation Serif',serif;font-size:12.8px;color:#1a1a1a">65&ndash;69 years</div>
<div class="t" style="left:1431.9px;top:286.4px;width:120px;text-align:center;font-family:'Liberation Serif',serif;font-size:12.8px;color:#1a1a1a">W</div>
<div class="t" style="left:1478.9px;top:286.4px;width:120px;text-align:center;font-family:'Liberation Serif',serif;font-size:12.8px;color:#1a1a1a">Male</div>
<div class="t" style="left:1197.2px;top:300.7px;width:120px;text-align:center;font-family:'Liberation Serif',serif;font-size:12.8px;color:#1a1a1a">7</div>
<div class="t" style="left:1252.1px;top:300.7px;width:120px;text-align:center;font-family:'Liberation Serif',serif;font-size:12.8px;color:#1a1a1a">453</div>
<div class="t" style="left:1344.1px;top:300.7px;width:120px;text-align:center;font-family:'Liberation Serif',serif;font-size:12.8px;color:#1a1a1a">60&ndash;64 years</div>
<div class="t" style="left:1431.9px;top:300.7px;width:120px;text-align:center;font-family:'Liberation Serif',serif;font-size:12.8px;color:#1a1a1a">W</div>
<div class="t" style="left:1478.9px;top:300.7px;width:120px;text-align:center;font-family:'Liberation Serif',serif;font-size:12.8px;color:#1a1a1a">Female</div>
<div class="t" style="left:1197.2px;top:315.0px;width:120px;text-align:center;font-family:'Liberation Serif',serif;font-size:12.8px;color:#1a1a1a">8</div>
<div class="t" style="left:1252.1px;top:315.0px;width:120px;text-align:center;font-family:'Liberation Serif',serif;font-size:12.8px;color:#1a1a1a">186</div>
<div class="t" style="left:1344.1px;top:315.0px;width:120px;text-align:center;font-family:'Liberation Serif',serif;font-size:12.8px;color:#1a1a1a">75&ndash;79 years</div>
<div class="t" style="left:1431.9px;top:315.0px;width:120px;text-align:center;font-family:'Liberation Serif',serif;font-size:12.8px;color:#1a1a1a">W</div>
<div class="t" style="left:1478.9px;top:315.0px;width:120px;text-align:center;font-family:'Liberation Serif',serif;font-size:12.8px;color:#1a1a1a">Female</div>
<div class="t" style="left:1197.2px;top:329.3px;width:120px;text-align:center;font-family:'Liberation Serif',serif;font-size:12.8px;color:#1a1a1a">9</div>
<div class="t" style="left:1252.1px;top:329.3px;width:120px;text-align:center;font-family:'Liberation Serif',serif;font-size:12.8px;color:#1a1a1a">5</div>
<div class="t" style="left:1344.1px;top:329.3px;width:120px;text-align:center;font-family:'Liberation Serif',serif;font-size:12.8px;color:#1a1a1a">60&ndash;64 years</div>
<div class="t" style="left:1431.9px;top:329.3px;width:120px;text-align:center;font-family:'Liberation Serif',serif;font-size:12.8px;color:#1a1a1a">W</div>
<div class="t" style="left:1478.9px;top:329.3px;width:120px;text-align:center;font-family:'Liberation Serif',serif;font-size:12.8px;color:#1a1a1a">Female</div>
<div class="abs" style="left:1234px;top:270.5px;width:337px;height:17px;border:2.6px solid #e4141b;box-sizing:border-box"></div>
<svg class="abs" style="left:0;top:0" width="1600" height="892" viewBox="0 0 1600 892" font-family="Liberation Sans, sans-serif">
<rect x="1247.0" y="371.2" width="272.5" height="168.7" fill="#ebebeb"/>
<line x1="1247.0" x2="1519.5" y1="532.2" y2="532.2" stroke="#fff" stroke-width="0.9"/>
<line x1="1244.5" x2="1247.0" y1="532.2" y2="532.2" stroke="#333" stroke-width="0.8"/>
<text x="1243.5" y="534.6" font-size="7" fill="#4d4d4d" text-anchor="end">0.00</text>
<line x1="1247.0" x2="1519.5" y1="493.9" y2="493.9" stroke="#fff" stroke-width="0.9"/>
<line x1="1244.5" x2="1247.0" y1="493.9" y2="493.9" stroke="#333" stroke-width="0.8"/>
<text x="1243.5" y="496.3" font-size="7" fill="#4d4d4d" text-anchor="end">0.25</text>
<line x1="1247.0" x2="1519.5" y1="455.6" y2="455.6" stroke="#fff" stroke-width="0.9"/>
<line x1="1244.5" x2="1247.0" y1="455.6" y2="455.6" stroke="#333" stroke-width="0.8"/>
<text x="1243.5" y="457.9" font-size="7" fill="#4d4d4d" text-anchor="end">0.50</text>
<line x1="1247.0" x2="1519.5" y1="417.2" y2="417.2" stroke="#fff" stroke-width="0.9"/>
<line x1="1244.5" x2="1247.0" y1="417.2" y2="417.2" stroke="#333" stroke-width="0.8"/>
<text x="1243.5" y="419.6" font-size="7" fill="#4d4d4d" text-anchor="end">0.75</text>
<line x1="1247.0" x2="1519.5" y1="378.9" y2="378.9" stroke="#fff" stroke-width="0.9"/>
<line x1="1244.5" x2="1247.0" y1="378.9" y2="378.9" stroke="#333" stroke-width="0.8"/>
<text x="1243.5" y="381.3" font-size="7" fill="#4d4d4d" text-anchor="end">1.00</text>
<rect x="1249.0" y="378.90" width="12" height="153.30" fill="#c98008"/>
<line x1="1255.0" x2="1255.0" y1="539.9" y2="542.4" stroke="#333" stroke-width="0.8"/>
<text transform="translate(1258.2 548.2) rotate(-45)" font-size="7.3" fill="#4d4d4d" text-anchor="end">00 years</text>
<rect x="1262.5" y="378.90" width="12" height="153.30" fill="#c98008"/>
<rect x="1262.5" y="417.23" width="12" height="114.98" fill="#17b135"/>
<rect x="1262.5" y="493.88" width="12" height="38.33" fill="#fb4fbf"/>
<line x1="1268.5" x2="1268.5" y1="539.9" y2="542.4" stroke="#333" stroke-width="0.8"/>
<text transform="translate(1271.7 548.2) rotate(-45)" font-size="7.3" fill="#4d4d4d" text-anchor="end">01-04 years</text>
<rect x="1276.0" y="378.90" width="12" height="153.30" fill="#c98008"/>
<rect x="1276.0" y="481.15" width="12" height="51.05" fill="#d35af6"/>
<line x1="1282.0" x2="1282.0" y1="539.9" y2="542.4" stroke="#333" stroke-width="0.8"/>
<text transform="translate(1285.2 548.2) rotate(-45)" font-size="7.3" fill="#4d4d4d" text-anchor="end">05-09 years</text>
<rect x="1289.5" y="378.90" width="12" height="153.30" fill="#c98008"/>
<rect x="1289.5" y="455.55" width="12" height="76.65" fill="#fb4fbf"/>
<line x1="1295.5" x2="1295.5" y1="539.9" y2="542.4" stroke="#333" stroke-width="0.8"/>
<text transform="translate(1298.7 548.2) rotate(-45)" font-size="7.3" fill="#4d4d4d" text-anchor="end">10-14 years</text>
<rect x="1303.0" y="378.90" width="12" height="153.30" fill="#f4625c"/>
<rect x="1303.0" y="481.15" width="12" height="51.05" fill="#d35af6"/>
<line x1="1309.0" x2="1309.0" y1="539.9" y2="542.4" stroke="#333" stroke-width="0.8"/>
<text transform="translate(1312.2 548.2) rotate(-45)" font-size="7.3" fill="#4d4d4d" text-anchor="end">15-19 years</text>
<rect x="1316.5" y="378.90" width="12" height="153.30" fill="#f4625c"/>
<rect x="1316.5" y="422.74" width="12" height="109.46" fill="#c98008"/>
<rect x="1316.5" y="466.59" width="12" height="65.61" fill="#17b135"/>
<rect x="1316.5" y="488.36" width="12" height="43.84" fill="#d35af6"/>
<line x1="1322.5" x2="1322.5" y1="539.9" y2="542.4" stroke="#333" stroke-width="0.8"/>
<text transform="translate(1325.7 548.2) rotate(-45)" font-size="7.3" fill="#4d4d4d" text-anchor="end">20-24 years</text>
<rect x="1330.0" y="378.90" width="12" height="153.30" fill="#f4625c"/>
<rect x="1330.0" y="417.99" width="12" height="114.21" fill="#c98008"/>
<rect x="1330.0" y="426.42" width="12" height="105.78" fill="#17b135"/>
<rect x="1330.0" y="456.01" width="12" height="76.19" fill="#12addf"/>
<rect x="1330.0" y="484.68" width="12" height="47.52" fill="#d35af6"/>
<rect x="1330.0" y="522.70" width="12" height="9.50" fill="#fb4fbf"/>
<line x1="1336.0" x2="1336.0" y1="539.9" y2="542.4" stroke="#333" stroke-width="0.8"/>
<text transform="translate(1339.2 548.2) rotate(-45)" font-size="7.3" fill="#4d4d4d" text-anchor="end">25-29 years</text>
<rect x="1343.5" y="378.90" width="12" height="153.30" fill="#f4625c"/>
<rect x="1343.5" y="433.17" width="12" height="99.03" fill="#c98008"/>
<rect x="1343.5" y="459.84" width="12" height="72.36" fill="#17b135"/>
<rect x="1343.5" y="474.10" width="12" height="58.10" fill="#17b893"/>
<rect x="1343.5" y="487.44" width="12" height="44.76" fill="#12addf"/>
<rect x="1343.5" y="505.83" width="12" height="26.37" fill="#5b8ff7"/>
<rect x="1343.5" y="509.66" width="12" height="22.54" fill="#d35af6"/>
<rect x="1343.5" y="517.94" width="12" height="14.26" fill="#fb4fbf"/>
<line x1="1349.5" x2="1349.5" y1="539.9" y2="542.4" stroke="#333" stroke-width="0.8"/>
<text transform="translate(1352.7 548.2) rotate(-45)" font-size="7.3" fill="#4d4d4d" text-anchor="end">30-34 years</text>
<rect x="1357.0" y="378.90" width="12" height="153.30" fill="#f4625c"/>
<rect x="1357.0" y="429.03" width="12" height="103.17" fill="#c98008"/>
<rect x="1357.0" y="471.19" width="12" height="61.01" fill="#17b135"/>
<rect x="1357.0" y="486.82" width="12" height="45.38" fill="#17b893"/>
<rect x="1357.0" y="499.85" width="12" height="32.35" fill="#12addf"/>
<rect x="1357.0" y="525.61" width="12" height="6.59" fill="#d35af6"/>
<rect x="1357.0" y="527.60" width="12" height="4.60" fill="#fb4fbf"/>
<line x1="1363.0" x2="1363.0" y1="539.9" y2="542.4" stroke="#333" stroke-width="0.8"/>
<text transform="translate(1366.2 548.2) rotate(-45)" font-size="7.3" fill="#4d4d4d" text-anchor="end">35-39 years</text>
<rect x="1370.5" y="378.90" width="12" height="153.30" fill="#f4625c"/>
<rect x="1370.5" y="425.20" width="12" height="107.00" fill="#c98008"/>
<rect x="1370.5" y="466.28" width="12" height="65.92" fill="#17b135"/>
<rect x="1370.5" y="470.88" width="12" height="61.32" fill="#17b893"/>
<rect x="1370.5" y="473.95" width="12" height="58.25" fill="#12addf"/>
<rect x="1370.5" y="516.87" width="12" height="15.33" fill="#d35af6"/>
<line x1="1376.5" x2="1376.5" y1="539.9" y2="542.4" stroke="#333" stroke-width="0.8"/>
<text transform="translate(1379.7 548.2) rotate(-45)" font-size="7.3" fill="#4d4d4d" text-anchor="end">40-44 years</text>
<rect x="1384.0" y="378.90" width="12" height="153.30" fill="#f4625c"/>
<rect x="1384.0" y="418.91" width="12" height="113.29" fill="#c98008"/>
<rect x="1384.0" y="463.98" width="12" height="68.22" fill="#17b135"/>
<rect x="1384.0" y="471.65" width="12" height="60.55" fill="#17b893"/>
<rect x="1384.0" y="476.09" width="12" height="56.11" fill="#12addf"/>
<rect x="1384.0" y="520.86" width="12" height="11.34" fill="#5b8ff7"/>
<rect x="1384.0" y="523.31" width="12" height="8.89" fill="#d35af6"/>
<rect x="1384.0" y="527.45" width="12" height="4.75" fill="#fb4fbf"/>
<line x1="1390.0" x2="1390.0" y1="539.9" y2="542.4" stroke="#333" stroke-width="0.8"/>
<text transform="translate(1393.2 548.2) rotate(-45)" font-size="7.3" fill="#4d4d4d" text-anchor="end">45-49 years</text>
<rect x="1397.5" y="378.90" width="12" height="153.30" fill="#f4625c"/>
<rect x="1397.5" y="432.25" width="12" height="99.95" fill="#c98008"/>
<rect x="1397.5" y="472.26" width="12" height="59.94" fill="#17b135"/>
<rect x="1397.5" y="479.77" width="12" height="52.43" fill="#17b893"/>
<rect x="1397.5" y="484.22" width="12" height="47.98" fill="#12addf"/>
<rect x="1397.5" y="517.94" width="12" height="14.26" fill="#d35af6"/>
<rect x="1397.5" y="527.45" width="12" height="4.75" fill="#fb4fbf"/>
<line x1="1403.5" x2="1403.5" y1="539.9" y2="542.4" stroke="#333" stroke-width="0.8"/>
<text transform="translate(1406.7 548.2) rotate(-45)" font-size="7.3" fill="#4d4d4d" text-anchor="end">50-54 years</text>
<rect x="1411.0" y="378.90" width="12" height="153.30" fill="#f4625c"/>
<rect x="1411.0" y="411.86" width="12" height="120.34" fill="#c98008"/>
<rect x="1411.0" y="451.26" width="12" height="80.94" fill="#17b135"/>
<rect x="1411.0" y="463.98" width="12" height="68.22" fill="#12addf"/>
<rect x="1411.0" y="517.02" width="12" height="15.18" fill="#5b8ff7"/>
<rect x="1411.0" y="523.31" width="12" height="8.89" fill="#d35af6"/>
<rect x="1411.0" y="527.45" width="12" height="4.75" fill="#fb4fbf"/>
<line x1="1417.0" x2="1417.0" y1="539.9" y2="542.4" stroke="#333" stroke-width="0.8"/>
<text transform="translate(1420.2 548.2) rotate(-45)" font-size="7.3" fill="#4d4d4d" text-anchor="end">55-59 years</text>
<rect x="1424.5" y="378.90" width="12" height="153.30" fill="#f4625c"/>
<rect x="1424.5" y="399.90" width="12" height="132.30" fill="#c98008"/>
<rect x="1424.5" y="442.67" width="12" height="89.53" fill="#17b135"/>
<rect x="1424.5" y="455.09" width="12" height="77.11" fill="#12addf"/>
<rect x="1424.5" y="508.44" width="12" height="23.76" fill="#5b8ff7"/>
<rect x="1424.5" y="517.94" width="12" height="14.26" fill="#d35af6"/>
<rect x="1424.5" y="521.78" width="12" height="10.42" fill="#fb4fbf"/>
<line x1="1430.5" x2="1430.5" y1="539.9" y2="542.4" stroke="#333" stroke-width="0.8"/>
<text transform="translate(1433.7 548.2) rotate(-45)" font-size="7.3" fill="#4d4d4d" text-anchor="end">60-64 years</text>
<rect x="1438.0" y="378.90" width="12" height="153.30" fill="#f4625c"/>
<rect x="1438.0" y="414.16" width="12" height="118.04" fill="#c98008"/>
<rect x="1438.0" y="454.17" width="12" height="78.03" fill="#17b135"/>
<rect x="1438.0" y="470.27" width="12" height="61.93" fill="#12addf"/>
<rect x="1438.0" y="517.94" width="12" height="14.26" fill="#d35af6"/>
<rect x="1438.0" y="526.53" width="12" height="5.67" fill="#fb4fbf"/>
<line x1="1444.0" x2="1444.0" y1="539.9" y2="542.4" stroke="#333" stroke-width="0.8"/>
<text transform="translate(1447.2 548.2) rotate(-45)" font-size="7.3" fill="#4d4d4d" text-anchor="end">65-69 years</text>
<rect x="1451.5" y="378.90" width="12" height="153.30" fill="#f4625c"/>
<rect x="1451.5" y="405.57" width="12" height="126.63" fill="#c98008"/>
<rect x="1451.5" y="447.43" width="12" height="84.77" fill="#17b135"/>
<rect x="1451.5" y="466.43" width="12" height="65.77" fill="#12addf"/>
<rect x="1451.5" y="512.27" width="12" height="19.93" fill="#5b8ff7"/>
<rect x="1451.5" y="517.94" width="12" height="14.26" fill="#d35af6"/>
<rect x="1451.5" y="521.78" width="12" height="10.42" fill="#fb4fbf"/>
<line x1="1457.5" x2="1457.5" y1="539.9" y2="542.4" stroke="#333" stroke-width="0.8"/>
<text transform="translate(1460.7 548.2) rotate(-45)" font-size="7.3" fill="#4d4d4d" text-anchor="end">70-74 years</text>
<rect x="1465.0" y="378.90" width="12" height="153.30" fill="#f4625c"/>
<rect x="1465.0" y="439.91" width="12" height="92.29" fill="#c98008"/>
<rect x="1465.0" y="469.04" width="12" height="63.16" fill="#17b135"/>
<rect x="1465.0" y="486.21" width="12" height="45.99" fill="#17b893"/>
<rect x="1465.0" y="494.18" width="12" height="38.02" fill="#12addf"/>
<rect x="1465.0" y="513.19" width="12" height="19.01" fill="#d35af6"/>
<rect x="1465.0" y="524.54" width="12" height="7.66" fill="#fb4fbf"/>
<line x1="1471.0" x2="1471.0" y1="539.9" y2="542.4" stroke="#333" stroke-width="0.8"/>
<text transform="translate(1474.2 548.2) rotate(-45)" font-size="7.3" fill="#4d4d4d" text-anchor="end">75-79 years</text>
<rect x="1478.5" y="378.90" width="12" height="153.30" fill="#f4625c"/>
<rect x="1478.5" y="398.83" width="12" height="133.37" fill="#c98008"/>
<rect x="1478.5" y="434.70" width="12" height="97.50" fill="#17b135"/>
<rect x="1478.5" y="464.75" width="12" height="67.45" fill="#12addf"/>
<rect x="1478.5" y="510.28" width="12" height="21.92" fill="#5b8ff7"/>
<rect x="1478.5" y="520.70" width="12" height="11.50" fill="#fb4fbf"/>
<line x1="1484.5" x2="1484.5" y1="539.9" y2="542.4" stroke="#333" stroke-width="0.8"/>
<text transform="translate(1487.7 548.2) rotate(-45)" font-size="7.3" fill="#4d4d4d" text-anchor="end">80-84 years</text>
<rect x="1492.0" y="378.90" width="12" height="153.30" fill="#f4625c"/>
<rect x="1492.0" y="410.33" width="12" height="121.87" fill="#c98008"/>
<rect x="1492.0" y="443.13" width="12" height="89.07" fill="#17b135"/>
<rect x="1492.0" y="478.55" width="12" height="53.66" fill="#12addf"/>
<rect x="1492.0" y="515.95" width="12" height="16.25" fill="#5b8ff7"/>
<rect x="1492.0" y="522.70" width="12" height="9.50" fill="#fb4fbf"/>
<line x1="1498.0" x2="1498.0" y1="539.9" y2="542.4" stroke="#333" stroke-width="0.8"/>
<text transform="translate(1501.2 548.2) rotate(-45)" font-size="7.3" fill="#4d4d4d" text-anchor="end">85-89 years</text>
<rect x="1505.5" y="378.90" width="12" height="153.30" fill="#f4625c"/>
<rect x="1505.5" y="397.91" width="12" height="134.29" fill="#c98008"/>
<rect x="1505.5" y="438.84" width="12" height="93.36" fill="#17b135"/>
<rect x="1505.5" y="473.49" width="12" height="58.71" fill="#12addf"/>
<rect x="1505.5" y="520.86" width="12" height="11.34" fill="#d35af6"/>
<rect x="1505.5" y="522.70" width="12" height="9.50" fill="#fb4fbf"/>
<line x1="1511.5" x2="1511.5" y1="539.9" y2="542.4" stroke="#333" stroke-width="0.8"/>
<text transform="translate(1514.7 548.2) rotate(-45)" font-size="7.3" fill="#4d4d4d" text-anchor="end">90+ years</text>
<text transform="translate(1224.5 455.5) rotate(-90)" font-size="9" fill="#222" text-anchor="middle">Proportion</text>
<text x="1533.6" y="392.5" font-size="9.5" fill="#222">Cluster</text>
<rect x="1534.4" y="398.0" width="13.2" height="13.2" fill="#f4625c"/>
<text x="1553.5" y="407.4" font-size="7" fill="#222">1</text>
<rect x="1534.4" y="412.3" width="13.2" height="13.2" fill="#c98008"/>
<text x="1553.5" y="421.7" font-size="7" fill="#222">2</text>
<rect x="1534.4" y="426.6" width="13.2" height="13.2" fill="#889f0c"/>
<text x="1553.5" y="436.0" font-size="7" fill="#222">3</text>
<rect x="1534.4" y="440.9" width="13.2" height="13.2" fill="#17b135"/>
<text x="1553.5" y="450.3" font-size="7" fill="#222">4</text>
<rect x="1534.4" y="455.2" width="13.2" height="13.2" fill="#17b893"/>
<text x="1553.5" y="464.6" font-size="7" fill="#222">5</text>
<rect x="1534.4" y="469.5" width="13.2" height="13.2" fill="#12addf"/>
<text x="1553.5" y="478.9" font-size="7" fill="#222">6</text>
<rect x="1534.4" y="483.8" width="13.2" height="13.2" fill="#5b8ff7"/>
<text x="1553.5" y="493.2" font-size="7" fill="#222">7</text>
<rect x="1534.4" y="498.1" width="13.2" height="13.2" fill="#d35af6"/>
<text x="1553.5" y="507.5" font-size="7" fill="#222">8</text>
<rect x="1534.4" y="512.4" width="13.2" height="13.2" fill="#fb4fbf"/>
<text x="1553.5" y="521.8" font-size="7" fill="#222">9</text>
</svg>
<svg class="abs" style="left:0;top:0" width="1600" height="892" viewBox="0 0 1600 892" font-family="Liberation Sans, sans-serif">
<line x1="1238.5" x2="1534.0" y1="783.6" y2="783.6" stroke="#ebebeb" stroke-width="0.9"/>
<line x1="1238.5" x2="1534.0" y1="762.2" y2="762.2" stroke="#ebebeb" stroke-width="0.5"/>
<line x1="1238.5" x2="1534.0" y1="740.8" y2="740.8" stroke="#ebebeb" stroke-width="0.9"/>
<line x1="1238.5" x2="1534.0" y1="719.4" y2="719.4" stroke="#ebebeb" stroke-width="0.5"/>
<line x1="1238.5" x2="1534.0" y1="698.0" y2="698.0" stroke="#ebebeb" stroke-width="0.9"/>
<line x1="1238.5" x2="1534.0" y1="676.7" y2="676.7" stroke="#ebebeb" stroke-width="0.5"/>
<line x1="1238.5" x2="1534.0" y1="655.3" y2="655.3" stroke="#ebebeb" stroke-width="0.9"/>
<line x1="1238.5" x2="1534.0" y1="633.9" y2="633.9" stroke="#ebebeb" stroke-width="0.5"/>
<line x1="1238.5" x2="1534.0" y1="612.5" y2="612.5" stroke="#ebebeb" stroke-width="0.9"/>
<text x="1235" y="785.7" font-size="6" fill="#4d4d4d" text-anchor="end">0.00</text>
<text x="1235" y="742.9" font-size="6" fill="#4d4d4d" text-anchor="end">0.25</text>
<text x="1235" y="700.1" font-size="6" fill="#4d4d4d" text-anchor="end">0.50</text>
<text x="1235" y="657.4" font-size="6" fill="#4d4d4d" text-anchor="end">0.75</text>
<text x="1235" y="614.6" font-size="6" fill="#4d4d4d" text-anchor="end">1.00</text>
<line x1="1293.8" x2="1293.8" y1="604.0" y2="792.0" stroke="#ebebeb" stroke-width="0.9"/>
<line x1="1386.0" x2="1386.0" y1="604.0" y2="792.0" stroke="#ebebeb" stroke-width="0.9"/>
<line x1="1478.1" x2="1478.1" y1="604.0" y2="792.0" stroke="#ebebeb" stroke-width="0.9"/>
<rect x="1252.4" y="612.50" width="82.9" height="171.10" fill="#f4625c"/>
<rect x="1252.4" y="643.64" width="82.9" height="139.96" fill="#c98008"/>
<rect x="1252.4" y="654.08" width="82.9" height="129.52" fill="#889f0c"/>
<rect x="1252.4" y="673.58" width="82.9" height="110.02" fill="#17b135"/>
<rect x="1252.4" y="717.38" width="82.9" height="66.22" fill="#17b893"/>
<rect x="1252.4" y="764.78" width="82.9" height="18.82" fill="#12addf"/>
<rect x="1252.4" y="773.33" width="82.9" height="10.27" fill="#d35af6"/>
<rect x="1252.4" y="777.61" width="82.9" height="5.99" fill="#fb4fbf"/>
<text x="1293.8" y="799.5" font-size="6" fill="#4d4d4d" text-anchor="middle">B</text>
<rect x="1345.0" y="612.50" width="82.0" height="171.10" fill="#f4625c"/>
<rect x="1345.0" y="617.63" width="82.0" height="165.97" fill="#c98008"/>
<rect x="1345.0" y="627.90" width="82.0" height="155.70" fill="#889f0c"/>
<rect x="1345.0" y="635.26" width="82.0" height="148.34" fill="#17b135"/>
<rect x="1345.0" y="701.81" width="82.0" height="81.79" fill="#17b893"/>
<rect x="1345.0" y="744.59" width="82.0" height="39.01" fill="#12addf"/>
<rect x="1345.0" y="750.41" width="82.0" height="33.19" fill="#d35af6"/>
<text x="1386.0" y="799.5" font-size="6" fill="#4d4d4d" text-anchor="middle">O</text>
<rect x="1437.0" y="612.50" width="82.2" height="171.10" fill="#f4625c"/>
<rect x="1437.0" y="646.72" width="82.2" height="136.88" fill="#c98008"/>
<rect x="1437.0" y="657.84" width="82.2" height="125.76" fill="#889f0c"/>
<rect x="1437.0" y="677.00" width="82.2" height="106.60" fill="#17b135"/>
<rect x="1437.0" y="718.24" width="82.2" height="65.36" fill="#17b893"/>
<rect x="1437.0" y="764.27" width="82.2" height="19.33" fill="#12addf"/>
<rect x="1437.0" y="773.33" width="82.2" height="10.27" fill="#d35af6"/>
<rect x="1437.0" y="777.61" width="82.2" height="5.99" fill="#fb4fbf"/>
<text x="1478.1" y="799.5" font-size="6" fill="#4d4d4d" text-anchor="middle">W</text>
<text transform="translate(1220 698.5) rotate(-90)" font-size="7.5" fill="#222" text-anchor="middle">Proportion</text>
<text x="1544" y="644.8" font-size="8" fill="#222">Cluster</text>
<rect x="1546" y="650.0" width="10.6" height="10.4" fill="#f4625c"/>
<text x="1562" y="657.5" font-size="6" fill="#222">1</text>
<rect x="1546" y="662.1" width="10.6" height="10.4" fill="#c98008"/>
<text x="1562" y="669.6" font-size="6" fill="#222">2</text>
<rect x="1546" y="674.1" width="10.6" height="10.4" fill="#889f0c"/>
<text x="1562" y="681.6" font-size="6" fill="#222">3</text>
<rect x="1546" y="686.2" width="10.6" height="10.4" fill="#17b135"/>
<text x="1562" y="693.7" font-size="6" fill="#222">4</text>
<rect x="1546" y="698.3" width="10.6" height="10.4" fill="#17b893"/>
<text x="1562" y="705.8" font-size="6" fill="#222">5</text>
<rect x="1546" y="710.4" width="10.6" height="10.4" fill="#12addf"/>
<text x="1562" y="717.9" font-size="6" fill="#222">6</text>
<rect x="1546" y="722.4" width="10.6" height="10.4" fill="#5b8ff7"/>
<text x="1562" y="729.9" font-size="6" fill="#222">7</text>
<rect x="1546" y="734.5" width="10.6" height="10.4" fill="#d35af6"/>
<text x="1562" y="742.0" font-size="6" fill="#222">8</text>
<rect x="1546" y="746.6" width="10.6" height="10.4" fill="#fb4fbf"/>
<text x="1562" y="754.1" font-size="6" fill="#222">9</text>
</svg>
<div class="t" style="left:47.67px;top:39.60px;transform:scaleX(1.0385);font-family:'Liberation Sans',sans-serif;font-weight:bold;font-size:37.5px;-webkit-text-stroke:0.8px currentColor;color:#0a1c48;">Bayesian Hierarchical Modeling and Clustering for Malignant Cancer Diagnosis</div>
<div class="t" style="left:150.43px;top:142.40px;transform:scaleX(1.0864);font-family:'Liberation Sans',sans-serif;font-weight:bold;font-size:37.5px;-webkit-text-stroke:0.8px currentColor;color:#0a1c48;">Motivation</div>
<div class="t" style="left:703.83px;top:140.00px;transform:scaleX(1.0865);font-family:'Liberation Sans',sans-serif;font-weight:bold;font-size:37.5px;-webkit-text-stroke:0.8px currentColor;color:#0a1c48;">Data&nbsp; Structure</div>
<div class="t" style="left:1239.25px;top:140.60px;transform:scaleX(1.0539);font-family:'Liberation Sans',sans-serif;font-weight:bold;font-size:37.5px;-webkit-text-stroke:0.8px currentColor;color:#0a1c48;">Clustering Result</div>
<div class="t" style="left:56.26px;top:529.70px;transform:scaleX(1.0123);font-family:'Liberation Sans',sans-serif;font-size:33px;color:#1a6ec6;">High Mortality of Cancer</div>
<div class="t" style="left:56.20px;top:594.00px;transform:scaleX(1.0318);font-family:'Liberation Sans',sans-serif;font-size:33px;color:#1a6ec6;">Different regions of patients</div>
<div class="t" style="left:56.25px;top:658.00px;transform:scaleX(1.0156);font-family:'Liberation Sans',sans-serif;font-size:33px;color:#1a6ec6;">Risks of late-stage tumors</div>
<div class="t" style="left:585.44px;top:217.00px;transform:scaleX(0.9550);font-family:'Liberation Sans',sans-serif;font-size:24px;color:#1a6ec6;">Standard Regression Models mute intra-cluster correlation</div>
<div class="t" style="left:585.45px;top:272.50px;transform:scaleX(0.9533);font-family:'Liberation Sans',sans-serif;font-size:24px;color:#1a6ec6;">Tumor-Level:</div>
<div class="t" style="left:584.50px;top:328.00px;transform:scaleX(0.9517);font-family:'Liberation Sans',sans-serif;font-size:24px;color:#1a6ec6;">Patient-Level:</div>
<div class="t" style="left:584.51px;top:383.50px;transform:scaleX(0.9451);font-family:'Liberation Sans',sans-serif;font-size:24px;color:#1a6ec6;">Region-Level:</div>
<div class="t" style="left:783.46px;top:270.30px;transform:scaleX(1.1368);font-family:'Liberation Serif',serif;font-size:20px;color:#111;">logit(<i>p</i><sub style="font-size:0.7em;vertical-align:-0.35em"><i>tpr</i></sub>)<span style="margin:0 0.28em">=</span><i>z</i><span style="display:inline-block;vertical-align:-0.5em;line-height:0.95;font-size:0.7em;text-align:left"><span style="display:block">&#8868;</span><span style="display:block"><i>tpr</i></span></span><i>&beta;</i><sub style="font-size:0.7em;vertical-align:-0.35em"><i>T</i></sub><span style="margin:0 0.28em">+</span><i>w</i><span style="display:inline-block;vertical-align:-0.5em;line-height:0.95;font-size:0.7em;text-align:left"><span style="display:block">&#8868;</span><span style="display:block"><i>p</i></span></span> <i>&beta;</i><sub style="font-size:0.7em;vertical-align:-0.35em"><i>P</i></sub><span style="margin:0 0.28em">+</span><i>u</i><sub style="font-size:0.7em;vertical-align:-0.35em"><i>p</i></sub><span style="margin:0 0.28em">+</span><i>v</i><sub style="font-size:0.7em;vertical-align:-0.35em"><i>r</i></sub>,</div>
<div class="t" style="left:803.81px;top:328.70px;transform:scaleX(1.0865);font-family:'Liberation Serif',serif;font-size:20px;color:#111;"><i>u</i><sub style="font-size:0.7em;vertical-align:-0.35em"><i>p</i></sub><span style="margin:0 0.28em">|</span><i>&sigma;</i><span style="display:inline-block;vertical-align:-0.5em;line-height:0.95;font-size:0.7em;text-align:left"><span style="display:block">2</span><span style="display:block"><i>u</i></span></span><span style="margin:0 0.28em">&sim;</span><i>N</i>(0,<span style="margin-right:0.17em"></span><i>&sigma;</i><span style="display:inline-block;vertical-align:-0.5em;line-height:0.95;font-size:0.7em;text-align:left"><span style="display:block">2</span><span style="display:block"><i>u</i></span></span>),<span style="margin-right:0.17em"></span><span style="margin-left:1.1em"></span><i>p</i><span style="margin:0 0.28em">=</span>1,<span style="margin-right:0.17em"></span>.&thinsp;.&thinsp;.,<span style="margin-right:0.17em"></span><i>P</i>.</div>
<div class="t" style="left:784.68px;top:387.30px;transform:scaleX(1.1212);font-family:'Liberation Serif',serif;font-size:20px;color:#111;"><i>v</i><sub style="font-size:0.7em;vertical-align:-0.35em"><i>r</i></sub><span style="margin:0 0.28em">|</span><i>&mu;</i><sub style="font-size:0.7em;vertical-align:-0.35em"><i>v</i></sub>,<span style="margin-right:0.17em"></span><i>&sigma;</i><span style="display:inline-block;vertical-align:-0.5em;line-height:0.95;font-size:0.7em;text-align:left"><span style="display:block">2</span><span style="display:block"><i>v</i></span></span><span style="margin:0 0.28em">&sim;</span><i>N</i>(<i>&mu;</i><sub style="font-size:0.7em;vertical-align:-0.35em"><i>v</i></sub>,<span style="margin-right:0.17em"></span><i>&sigma;</i><span style="display:inline-block;vertical-align:-0.5em;line-height:0.95;font-size:0.7em;text-align:left"><span style="display:block">2</span><span style="display:block"><i>v</i></span></span>),<span style="margin-right:0.17em"></span><span style="margin-left:1.1em"></span><i>r</i><span style="margin:0 0.28em">=</span>1,<span style="margin-right:0.17em"></span>.&thinsp;.&thinsp;.,<span style="margin-right:0.17em"></span><i>R</i>.</div>
<div class="t" style="left:746.07px;top:497.10px;transform:scaleX(1.0345);font-family:'Liberation Sans',sans-serif;font-size:13px;-webkit-text-stroke:0.35px currentColor;color:#1e1a14;">Level 1: Tumor Level</div>
<div class="t" style="left:745.64px;top:674.80px;transform:scaleX(1.0642);font-family:'Liberation Sans',sans-serif;font-size:13px;-webkit-text-stroke:0.35px currentColor;color:#fff3ee;">Level 2: Patient Level</div>
<div class="t" style="left:745.65px;top:813.20px;transform:scaleX(1.0452);font-family:'Liberation Sans',sans-serif;font-size:13px;-webkit-text-stroke:0.35px currentColor;color:#f2f5fc;">Level 3: Region Level</div>
<div class="t" style="left:929.50px;top:442.00px;transform:scaleX(1.0586);font-family:'Liberation Sans',sans-serif;font-size:10.5px;-webkit-text-stroke:0.2px currentColor;color:#4a3d2a;">Tumor stage</div>
<div class="t" style="left:929.50px;top:470.60px;transform:scaleX(1.0567);font-family:'Liberation Sans',sans-serif;font-size:10.5px;-webkit-text-stroke:0.2px currentColor;color:#4a3d2a;">Tumor grade</div>
<div class="t" style="left:929.50px;top:499.20px;transform:scaleX(1.0451);font-family:'Liberation Sans',sans-serif;font-size:10.5px;-webkit-text-stroke:0.2px currentColor;color:#4a3d2a;">Tumor size</div>
<div class="t" style="left:929.50px;top:527.80px;transform:scaleX(1.0531);font-family:'Liberation Sans',sans-serif;font-size:10.5px;-webkit-text-stroke:0.2px currentColor;color:#4a3d2a;">Tumor site</div>
<div class="t" style="left:928.41px;top:556.40px;transform:scaleX(1.0936);font-family:'Liberation Sans',sans-serif;font-size:10.5px;-webkit-text-stroke:0.2px currentColor;color:#4a3d2a;">Surgery indicator</div>
<div class="t" style="left:927.79px;top:605.70px;transform:scaleX(1.1067);font-family:'Liberation Sans',sans-serif;font-size:10.5px;-webkit-text-stroke:0.2px currentColor;color:#4a2e2a;">Patient ID</div>
<div class="t" style="left:928.90px;top:634.30px;transform:scaleX(1.0556);font-family:'Liberation Sans',sans-serif;font-size:10.5px;-webkit-text-stroke:0.2px currentColor;color:#4a2e2a;">Age</div>
<div class="t" style="left:927.93px;top:662.90px;transform:scaleX(0.9706);font-family:'Liberation Sans',sans-serif;font-size:10.5px;-webkit-text-stroke:0.2px currentColor;color:#4a2e2a;">Sex</div>
<div class="t" style="left:927.80px;top:691.50px;transform:scaleX(1.0970);font-family:'Liberation Sans',sans-serif;font-size:10.5px;-webkit-text-stroke:0.2px currentColor;color:#4a2e2a;">Race/Ethnicity</div>
<div class="t" style="left:928.90px;top:720.10px;transform:scaleX(1.0513);font-family:'Liberation Sans',sans-serif;font-size:10.5px;-webkit-text-stroke:0.2px currentColor;color:#4a2e2a;">Year of diagnosis</div>
<div class="t" style="left:927.80px;top:748.70px;transform:scaleX(1.0984);font-family:'Liberation Sans',sans-serif;font-size:10.5px;-webkit-text-stroke:0.2px currentColor;color:#4a2e2a;">Marital status</div>
<div class="t" style="left:927.93px;top:814.80px;transform:scaleX(1.0690);font-family:'Liberation Sans',sans-serif;font-size:10.5px;-webkit-text-stroke:0.2px currentColor;color:#1d2d5a;">Region size classification</div>
<div class="t" style="left:1247.10px;top:356.40px;transform:scaleX(0.9478);font-family:'Liberation Sans',sans-serif;font-size:11.5px;color:#222;">Age Distribution by Cluster</div>
<div class="t" style="left:1237.51px;top:590.50px;transform:scaleX(0.9853);font-family:'Liberation Sans',sans-serif;font-size:9.5px;color:#222;">Race Distribution by Cluster</div>
<div class="t" style="left:1362.00px;top:577.50px;transform:scaleX(0.9457);font-family:'Liberation Sans',sans-serif;font-size:9.5px;color:#222;">Age Group</div>
<div class="t" style="left:1360.52px;top:803.50px;transform:scaleX(0.9800);font-family:'Liberation Sans',sans-serif;font-size:8px;color:#222;">Race/Ethnicity</div>
<div class="t" style="left:1234.62px;top:195.00px;transform:scaleX(1.1316);font-family:'Liberation Serif',serif;font-weight:bold;font-size:12.5px;color:#111;">Cluster</div>
<div class="t" style="left:1293.13px;top:195.00px;transform:scaleX(1.1172);font-family:'Liberation Serif',serif;font-weight:bold;font-size:12.5px;color:#111;">Count</div>
<div class="t" style="left:1344.67px;top:195.00px;transform:scaleX(1.0810);font-family:'Liberation Serif',serif;font-weight:bold;font-size:12.5px;color:#111;">Most&nbsp; Common&nbsp; Age</div>
<div class="t" style="left:1476.35px;top:195.00px;transform:scaleX(1.1500);font-family:'Liberation Serif',serif;font-weight:bold;font-size:12.5px;color:#111;">Race</div>
<div class="t" style="left:1527.07px;top:195.00px;transform:scaleX(1.1806);font-family:'Liberation Serif',serif;font-weight:bold;font-size:12.5px;color:#111;">Sex</div>
</body></html>
